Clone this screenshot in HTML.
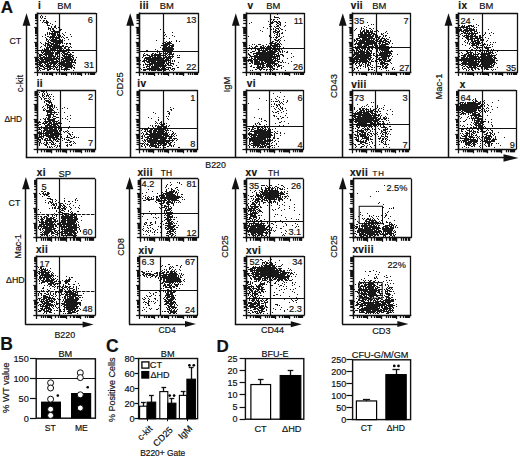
<!DOCTYPE html>
<html><head><meta charset="utf-8"><style>
html,body{margin:0;padding:0;background:#fff;}
body{width:520px;height:458px;overflow:hidden;}
svg{display:block;font-family:"Liberation Sans", sans-serif;}
</style></head><body>
<svg width="520" height="458" viewBox="0 0 520 458">
<defs><filter id="bl" x="-5%" y="-5%" width="110%" height="110%"><feGaussianBlur stdDeviation="0.35"/></filter></defs>
<rect width="520" height="458" fill="#fff"/>
<text x="0.80" y="13.00" font-size="17" font-weight="bold" text-anchor="start" fill="#111" stroke="#111" stroke-width="0.18">A</text>
<line x1="26.50" y1="22.00" x2="26.50" y2="157.70" stroke="#111" stroke-width="1.5"/>
<polygon points="26.50,13.20 22.60,25.80 30.40,25.80" fill="#111"/>
<line x1="130.50" y1="22.00" x2="130.50" y2="157.70" stroke="#111" stroke-width="1.5"/>
<polygon points="130.20,13.20 126.30,25.80 134.10,25.80" fill="#111"/>
<line x1="235.50" y1="22.00" x2="235.50" y2="157.70" stroke="#111" stroke-width="1.5"/>
<polygon points="235.80,13.20 231.90,25.80 239.70,25.80" fill="#111"/>
<line x1="342.50" y1="22.00" x2="342.50" y2="157.70" stroke="#111" stroke-width="1.5"/>
<polygon points="342.80,13.20 338.90,25.80 346.70,25.80" fill="#111"/>
<line x1="448.50" y1="22.00" x2="448.50" y2="157.70" stroke="#111" stroke-width="1.5"/>
<polygon points="448.50,13.20 444.60,25.80 452.40,25.80" fill="#111"/>
<line x1="25.80" y1="157.50" x2="506.00" y2="157.50" stroke="#111" stroke-width="1.5"/>
<polygon points="518.50,157.90 503.50,154.15 503.50,161.65" fill="#111"/>
<text x="205.30" y="167.70" font-size="8.8" font-weight="normal" text-anchor="start" fill="#111" stroke="#111" stroke-width="0.18">B220</text>
<text x="9.50" y="44.20" font-size="8.8" font-weight="normal" text-anchor="start" fill="#111" stroke="#111" stroke-width="0.18">CT</text>
<text x="4.40" y="121.70" font-size="8.4" font-weight="normal" text-anchor="start" fill="#111" stroke="#111" stroke-width="0.18">ΔHD</text>
<text x="19.20" y="83.50" font-size="9.6" text-anchor="middle" transform="rotate(-90 19.20 83.50)" dominant-baseline="central" fill="#111" stroke="#111" stroke-width="0.18">c-kit</text>
<text x="119.40" y="84.20" font-size="9.4" text-anchor="middle" transform="rotate(-90 119.40 84.20)" dominant-baseline="central" fill="#111" stroke="#111" stroke-width="0.18">CD25</text>
<text x="226.60" y="84.50" font-size="9.4" text-anchor="middle" transform="rotate(-90 226.60 84.50)" dominant-baseline="central" fill="#111" stroke="#111" stroke-width="0.18">IgM</text>
<text x="333.50" y="86.00" font-size="9.4" text-anchor="middle" transform="rotate(-90 333.50 86.00)" dominant-baseline="central" fill="#111" stroke="#111" stroke-width="0.18">CD43</text>
<text x="438.80" y="86.50" font-size="9.4" text-anchor="middle" transform="rotate(-90 438.80 86.50)" dominant-baseline="central" fill="#111" stroke="#111" stroke-width="0.18">Mac-1</text>
<path d="M41 15h1M40 16h1m1 0h1m2 0h1M40 17h1m1 0h1M41 18h1m2 0h2M40 20h1m2 0h2m1 0h1M43 21h1m2 0h2m7 0h1M42 22h1m1 0h5M46 23h2m2 0h1M47 24h1m4 0h1M47 25h3m5 0h1m3 0h1M51 26h1m2 0h2M48 27h1m2 0h1m2 0h2m2 0h1M48 28h3m1 0h2m2 0h1M48 29h1m1 0h1m1 0h2m6 0h2M50 30h1m2 0h2m4 0h2M51 31h8M47 32h1m1 0h1m2 0h1m1 0h6m5 0h1M47 33h1m1 0h7m1 0h1m1 0h1m2 0h1M45 34h1m1 0h1m1 0h1m1 0h5m1 0h3m3 0h1m6 0h1M45 35h1m6 0h4m1 0h2m1 0h1m3 0h1M42 36h1m4 0h2m1 0h5m1 0h1m1 0h3m1 0h1m8 0h1M45 37h1m3 0h11m1 0h1m1 0h1m2 0h2M46 38h1m3 0h1m1 0h2m1 0h5m4 0h1M46 39h2m1 0h1m1 0h6m2 0h2m1 0h1m5 0h1M46 40h1m1 0h1m1 0h13m1 0h1M47 41h2m2 0h12M40 42h1m4 0h1m2 0h3m2 0h6m1 0h3M41 43h1m3 0h4m1 0h4m1 0h4m1 0h1m1 0h1m1 0h1m1 0h2m1 0h2M43 44h1m1 0h1m1 0h3m1 0h7m8 0h1m3 0h1M44 45h2m1 0h5m1 0h7m2 0h2M41 46h1m3 0h1m1 0h1m1 0h15m1 0h3m2 0h1M40 47h1m5 0h5m1 0h10m2 0h2m2 0h2m1 0h1M44 48h1m1 0h3m1 0h13m1 0h2m2 0h1M42 49h1m1 0h5m1 0h6m1 0h1m1 0h3m1 0h1m2 0h4M44 50h3m1 0h14m3 0h1m1 0h1m5 0h1M41 51h1m1 0h8m1 0h1m1 0h1m2 0h10m1 0h1M41 52h3m1 0h9m1 0h4m3 0h3m2 0h3m2 0h2M38 53h1m3 0h1m1 0h10m1 0h4m2 0h1m1 0h5m2 0h1M39 54h3m1 0h10m2 0h3m1 0h1m2 0h1m1 0h8M39 55h4m2 0h2m1 0h6m1 0h1m1 0h1m4 0h3m1 0h1m1 0h3m1 0h2M39 56h2m2 0h2m1 0h1m1 0h8m1 0h3m3 0h10M38 57h1m1 0h12m1 0h2m1 0h2m3 0h2m1 0h7m1 0h2m2 0h1M39 58h4m1 0h15m3 0h10m1 0h1M38 59h1m1 0h17m1 0h1m2 0h3m1 0h9m1 0h1M38 60h2m1 0h3m1 0h9m2 0h2m1 0h1m1 0h1m1 0h10m1 0h2M39 61h11m1 0h8m2 0h9m1 0h2m1 0h1M38 62h10m1 0h9m1 0h6m1 0h10M39 63h3m2 0h2m1 0h10m1 0h1m1 0h12m3 0h1M38 64h3m1 0h1m2 0h4m1 0h2m1 0h3m1 0h1m2 0h12m1 0h1M39 65h4m1 0h1m1 0h5m2 0h2m1 0h1m1 0h2m1 0h12m1 0h1M38 66h1m1 0h4m1 0h11m1 0h1m2 0h2m1 0h10M39 67h1m3 0h2m2 0h4m2 0h1m1 0h3m3 0h2m2 0h7m1 0h2M39 68h3m2 0h4m1 0h4m1 0h1m1 0h1m4 0h1m2 0h4m3 0h1m2 0h1M39 69h1m2 0h3m2 0h4m2 0h2m1 0h3m2 0h9M38 70h1m1 0h1m6 0h2m8 0h1m6 0h1m1 0h1m6 0h1" stroke="#000" stroke-opacity="0.9" stroke-width="1" transform="translate(0 0.5)" filter="url(#bl)"/>
<line x1="37.80" y1="13.50" x2="96.00" y2="13.50" stroke="#111" stroke-width="1.3"/>
<line x1="96.50" y1="13.00" x2="96.50" y2="72.00" stroke="#111" stroke-width="1.3"/>
<line x1="37.50" y1="12.50" x2="37.50" y2="72.80" stroke="#111" stroke-width="1.6"/>
<line x1="37.00" y1="72.50" x2="96.50" y2="72.50" stroke="#111" stroke-width="1.6"/>
<line x1="34.20" y1="72.50" x2="37.80" y2="72.50" stroke="#111" stroke-width="1.25"/>
<line x1="35.00" y1="67.50" x2="37.80" y2="67.50" stroke="#111" stroke-width="1.25"/>
<line x1="35.00" y1="64.50" x2="37.80" y2="64.50" stroke="#111" stroke-width="1.25"/>
<line x1="35.00" y1="63.50" x2="37.80" y2="63.50" stroke="#111" stroke-width="1.25"/>
<line x1="35.00" y1="61.50" x2="37.80" y2="61.50" stroke="#111" stroke-width="1.25"/>
<line x1="35.00" y1="60.50" x2="37.80" y2="60.50" stroke="#111" stroke-width="1.25"/>
<line x1="35.00" y1="59.50" x2="37.80" y2="59.50" stroke="#111" stroke-width="1.25"/>
<line x1="35.00" y1="58.50" x2="37.80" y2="58.50" stroke="#111" stroke-width="1.25"/>
<line x1="35.00" y1="57.50" x2="37.80" y2="57.50" stroke="#111" stroke-width="1.25"/>
<line x1="34.20" y1="57.50" x2="37.80" y2="57.50" stroke="#111" stroke-width="1.25"/>
<line x1="35.00" y1="52.50" x2="37.80" y2="52.50" stroke="#111" stroke-width="1.25"/>
<line x1="35.00" y1="50.50" x2="37.80" y2="50.50" stroke="#111" stroke-width="1.25"/>
<line x1="35.00" y1="48.50" x2="37.80" y2="48.50" stroke="#111" stroke-width="1.25"/>
<line x1="35.00" y1="46.50" x2="37.80" y2="46.50" stroke="#111" stroke-width="1.25"/>
<line x1="35.00" y1="45.50" x2="37.80" y2="45.50" stroke="#111" stroke-width="1.25"/>
<line x1="35.00" y1="44.50" x2="37.80" y2="44.50" stroke="#111" stroke-width="1.25"/>
<line x1="35.00" y1="43.50" x2="37.80" y2="43.50" stroke="#111" stroke-width="1.25"/>
<line x1="35.00" y1="43.50" x2="37.80" y2="43.50" stroke="#111" stroke-width="1.25"/>
<line x1="34.20" y1="42.50" x2="37.80" y2="42.50" stroke="#111" stroke-width="1.25"/>
<line x1="35.00" y1="38.50" x2="37.80" y2="38.50" stroke="#111" stroke-width="1.25"/>
<line x1="35.00" y1="35.50" x2="37.80" y2="35.50" stroke="#111" stroke-width="1.25"/>
<line x1="35.00" y1="33.50" x2="37.80" y2="33.50" stroke="#111" stroke-width="1.25"/>
<line x1="35.00" y1="32.50" x2="37.80" y2="32.50" stroke="#111" stroke-width="1.25"/>
<line x1="35.00" y1="31.50" x2="37.80" y2="31.50" stroke="#111" stroke-width="1.25"/>
<line x1="35.00" y1="30.50" x2="37.80" y2="30.50" stroke="#111" stroke-width="1.25"/>
<line x1="35.00" y1="29.50" x2="37.80" y2="29.50" stroke="#111" stroke-width="1.25"/>
<line x1="35.00" y1="28.50" x2="37.80" y2="28.50" stroke="#111" stroke-width="1.25"/>
<line x1="34.20" y1="27.50" x2="37.80" y2="27.50" stroke="#111" stroke-width="1.25"/>
<line x1="35.00" y1="23.50" x2="37.80" y2="23.50" stroke="#111" stroke-width="1.25"/>
<line x1="35.00" y1="20.50" x2="37.80" y2="20.50" stroke="#111" stroke-width="1.25"/>
<line x1="35.00" y1="18.50" x2="37.80" y2="18.50" stroke="#111" stroke-width="1.25"/>
<line x1="35.00" y1="17.50" x2="37.80" y2="17.50" stroke="#111" stroke-width="1.25"/>
<line x1="35.00" y1="16.50" x2="37.80" y2="16.50" stroke="#111" stroke-width="1.25"/>
<line x1="35.00" y1="15.50" x2="37.80" y2="15.50" stroke="#111" stroke-width="1.25"/>
<line x1="35.00" y1="14.50" x2="37.80" y2="14.50" stroke="#111" stroke-width="1.25"/>
<line x1="37.50" y1="72.00" x2="37.50" y2="76.00" stroke="#111" stroke-width="1.25"/>
<line x1="42.50" y1="72.00" x2="42.50" y2="75.00" stroke="#111" stroke-width="1.25"/>
<line x1="44.50" y1="72.00" x2="44.50" y2="75.00" stroke="#111" stroke-width="1.25"/>
<line x1="46.50" y1="72.00" x2="46.50" y2="75.00" stroke="#111" stroke-width="1.25"/>
<line x1="47.50" y1="72.00" x2="47.50" y2="75.00" stroke="#111" stroke-width="1.25"/>
<line x1="49.50" y1="72.00" x2="49.50" y2="75.00" stroke="#111" stroke-width="1.25"/>
<line x1="50.50" y1="72.00" x2="50.50" y2="75.00" stroke="#111" stroke-width="1.25"/>
<line x1="50.50" y1="72.00" x2="50.50" y2="75.00" stroke="#111" stroke-width="1.25"/>
<line x1="51.50" y1="72.00" x2="51.50" y2="75.00" stroke="#111" stroke-width="1.25"/>
<line x1="52.50" y1="72.00" x2="52.50" y2="76.00" stroke="#111" stroke-width="1.25"/>
<line x1="56.50" y1="72.00" x2="56.50" y2="75.00" stroke="#111" stroke-width="1.25"/>
<line x1="59.50" y1="72.00" x2="59.50" y2="75.00" stroke="#111" stroke-width="1.25"/>
<line x1="61.50" y1="72.00" x2="61.50" y2="75.00" stroke="#111" stroke-width="1.25"/>
<line x1="62.50" y1="72.00" x2="62.50" y2="75.00" stroke="#111" stroke-width="1.25"/>
<line x1="63.50" y1="72.00" x2="63.50" y2="75.00" stroke="#111" stroke-width="1.25"/>
<line x1="64.50" y1="72.00" x2="64.50" y2="75.00" stroke="#111" stroke-width="1.25"/>
<line x1="65.50" y1="72.00" x2="65.50" y2="75.00" stroke="#111" stroke-width="1.25"/>
<line x1="66.50" y1="72.00" x2="66.50" y2="75.00" stroke="#111" stroke-width="1.25"/>
<line x1="66.50" y1="72.00" x2="66.50" y2="76.00" stroke="#111" stroke-width="1.25"/>
<line x1="71.50" y1="72.00" x2="71.50" y2="75.00" stroke="#111" stroke-width="1.25"/>
<line x1="73.50" y1="72.00" x2="73.50" y2="75.00" stroke="#111" stroke-width="1.25"/>
<line x1="75.50" y1="72.00" x2="75.50" y2="75.00" stroke="#111" stroke-width="1.25"/>
<line x1="77.50" y1="72.00" x2="77.50" y2="75.00" stroke="#111" stroke-width="1.25"/>
<line x1="78.50" y1="72.00" x2="78.50" y2="75.00" stroke="#111" stroke-width="1.25"/>
<line x1="79.50" y1="72.00" x2="79.50" y2="75.00" stroke="#111" stroke-width="1.25"/>
<line x1="80.50" y1="72.00" x2="80.50" y2="75.00" stroke="#111" stroke-width="1.25"/>
<line x1="80.50" y1="72.00" x2="80.50" y2="75.00" stroke="#111" stroke-width="1.25"/>
<line x1="81.50" y1="72.00" x2="81.50" y2="76.00" stroke="#111" stroke-width="1.25"/>
<line x1="85.50" y1="72.00" x2="85.50" y2="75.00" stroke="#111" stroke-width="1.25"/>
<line x1="88.50" y1="72.00" x2="88.50" y2="75.00" stroke="#111" stroke-width="1.25"/>
<line x1="90.50" y1="72.00" x2="90.50" y2="75.00" stroke="#111" stroke-width="1.25"/>
<line x1="91.50" y1="72.00" x2="91.50" y2="75.00" stroke="#111" stroke-width="1.25"/>
<line x1="92.50" y1="72.00" x2="92.50" y2="75.00" stroke="#111" stroke-width="1.25"/>
<line x1="93.50" y1="72.00" x2="93.50" y2="75.00" stroke="#111" stroke-width="1.25"/>
<line x1="94.50" y1="72.00" x2="94.50" y2="75.00" stroke="#111" stroke-width="1.25"/>
<line x1="59.50" y1="13.00" x2="59.50" y2="72.00" stroke="#111" stroke-width="1.2"/>
<line x1="37.80" y1="50.50" x2="96.00" y2="50.50" stroke="#111" stroke-width="1.2"/>
<text x="92.80" y="23.40" font-size="9.2" font-weight="normal" text-anchor="end" fill="#111" stroke="#111" stroke-width="0.18">6</text>
<text x="94.20" y="68.00" font-size="9.2" font-weight="normal" text-anchor="end" fill="#111" stroke="#111" stroke-width="0.18">31</text>
<text x="38.10" y="8.60" font-size="10" font-weight="bold" text-anchor="start" letter-spacing="0.4" fill="#111" stroke="#111" stroke-width="0.18">i</text>
<text x="57.20" y="8.70" font-size="9.4" font-weight="normal" text-anchor="start" fill="#111" stroke="#111" stroke-width="0.18">BM</text>
<path d="M41 91h4m1 0h1M39 92h1m3 0h1m2 0h1M42 93h1m1 0h1m2 0h1M38 94h1m3 0h1m1 0h1m2 0h1m1 0h1m1 0h1M42 95h2m2 0h3M39 96h1m2 0h1m1 0h1m1 0h1m1 0h1m1 0h1m2 0h1M40 97h1m2 0h1m5 0h1M41 98h1m2 0h3m1 0h1m1 0h1M41 99h1m2 0h1m4 0h1m3 0h1M45 100h4m1 0h1M44 101h1m1 0h5M44 102h1m3 0h4M46 103h1m2 0h1m1 0h1M46 104h3m2 0h2M45 105h1m1 0h6m1 0h1M43 106h1m3 0h1m1 0h4m1 0h1M42 107h1m4 0h4m1 0h1m1 0h1m1 0h1m7 0h1M44 108h1m2 0h1m1 0h3m1 0h1m8 0h1m4 0h1M43 109h1m1 0h1m3 0h4m4 0h1M43 110h2m1 0h8M46 111h6m2 0h1M47 112h10m1 0h1m5 0h1M47 113h1m2 0h2m2 0h1M47 114h7m2 0h2M46 115h5m2 0h1m16 0h1M48 116h3m2 0h3m11 0h1M46 117h1m1 0h3m1 0h1m3 0h3M43 118h1m1 0h1m1 0h3m3 0h3m4 0h1m1 0h1m2 0h1m4 0h1M40 119h1m3 0h2m1 0h8m12 0h1M45 120h1m2 0h7m3 0h1M39 121h1m4 0h7m1 0h6m11 0h1M38 122h3m2 0h1m1 0h3m1 0h3m1 0h2m1 0h1m1 0h2M38 123h1m3 0h5m1 0h4m1 0h7m1 0h1M39 124h2m3 0h1m2 0h3m1 0h7M38 125h1m6 0h7m1 0h3m1 0h2M41 126h1m3 0h3m1 0h8m1 0h2m9 0h1M37 127h2m4 0h2m2 0h9m1 0h3m3 0h1M39 128h1m1 0h1m1 0h10m1 0h3m1 0h2m1 0h1m6 0h1M38 129h3m3 0h4m1 0h8m1 0h1m1 0h2M41 130h1m1 0h15m1 0h3m5 0h1M39 131h1m1 0h1m1 0h2m1 0h12m1 0h1m3 0h1m1 0h2m1 0h1M38 132h4m1 0h1m1 0h8m1 0h5m1 0h1m3 0h1m2 0h1m4 0h1M38 133h23m7 0h2M39 134h3m1 0h1m1 0h4m1 0h12m7 0h2m1 0h1M39 135h1m1 0h1m1 0h16m8 0h1m2 0h1M39 136h5m2 0h8m1 0h4m2 0h1m5 0h1m3 0h1m2 0h1M38 137h4m1 0h1m4 0h10m3 0h1m4 0h4m3 0h2m1 0h1m1 0h1M38 138h1m2 0h2m2 0h3m1 0h2m1 0h3m1 0h3m3 0h1m1 0h1m5 0h3M38 139h3m1 0h1m1 0h2m1 0h1m1 0h2m2 0h4m1 0h3m3 0h1m1 0h1m1 0h1M39 140h2m3 0h8m1 0h1m1 0h1m1 0h1m4 0h1m4 0h3M38 141h1m1 0h1m5 0h1m4 0h2m3 0h3m11 0h2m1 0h1M39 142h2m3 0h1m1 0h2m1 0h2m1 0h2m6 0h1m4 0h3m1 0h2m3 0h1M39 143h1m1 0h1m1 0h1m2 0h2m3 0h1m1 0h1m1 0h1m3 0h1m13 0h1m1 0h1M39 144h1m4 0h3m1 0h1m2 0h4m12 0h1m1 0h1m1 0h1M39 145h1m5 0h2m8 0h1m1 0h1m1 0h1m6 0h2m2 0h2M47 146h1m1 0h1m1 0h1m2 0h1m2 0h1m1 0h1m7 0h1M47 147h1m1 0h2m1 0h1m3 0h1" stroke="#000" stroke-opacity="0.9" stroke-width="1" transform="translate(0 0.5)" filter="url(#bl)"/>
<line x1="37.30" y1="90.50" x2="95.60" y2="90.50" stroke="#111" stroke-width="1.3"/>
<line x1="95.50" y1="90.00" x2="95.50" y2="149.30" stroke="#111" stroke-width="1.3"/>
<line x1="37.50" y1="89.50" x2="37.50" y2="150.10" stroke="#111" stroke-width="1.6"/>
<line x1="36.50" y1="149.50" x2="96.10" y2="149.50" stroke="#111" stroke-width="1.6"/>
<line x1="33.70" y1="149.50" x2="37.30" y2="149.50" stroke="#111" stroke-width="1.25"/>
<line x1="34.50" y1="144.50" x2="37.30" y2="144.50" stroke="#111" stroke-width="1.25"/>
<line x1="34.50" y1="142.50" x2="37.30" y2="142.50" stroke="#111" stroke-width="1.25"/>
<line x1="34.50" y1="140.50" x2="37.30" y2="140.50" stroke="#111" stroke-width="1.25"/>
<line x1="34.50" y1="138.50" x2="37.30" y2="138.50" stroke="#111" stroke-width="1.25"/>
<line x1="34.50" y1="137.50" x2="37.30" y2="137.50" stroke="#111" stroke-width="1.25"/>
<line x1="34.50" y1="136.50" x2="37.30" y2="136.50" stroke="#111" stroke-width="1.25"/>
<line x1="34.50" y1="135.50" x2="37.30" y2="135.50" stroke="#111" stroke-width="1.25"/>
<line x1="34.50" y1="135.50" x2="37.30" y2="135.50" stroke="#111" stroke-width="1.25"/>
<line x1="33.70" y1="134.50" x2="37.30" y2="134.50" stroke="#111" stroke-width="1.25"/>
<line x1="34.50" y1="130.50" x2="37.30" y2="130.50" stroke="#111" stroke-width="1.25"/>
<line x1="34.50" y1="127.50" x2="37.30" y2="127.50" stroke="#111" stroke-width="1.25"/>
<line x1="34.50" y1="125.50" x2="37.30" y2="125.50" stroke="#111" stroke-width="1.25"/>
<line x1="34.50" y1="124.50" x2="37.30" y2="124.50" stroke="#111" stroke-width="1.25"/>
<line x1="34.50" y1="122.50" x2="37.30" y2="122.50" stroke="#111" stroke-width="1.25"/>
<line x1="34.50" y1="121.50" x2="37.30" y2="121.50" stroke="#111" stroke-width="1.25"/>
<line x1="34.50" y1="121.50" x2="37.30" y2="121.50" stroke="#111" stroke-width="1.25"/>
<line x1="34.50" y1="120.50" x2="37.30" y2="120.50" stroke="#111" stroke-width="1.25"/>
<line x1="33.70" y1="119.50" x2="37.30" y2="119.50" stroke="#111" stroke-width="1.25"/>
<line x1="34.50" y1="115.50" x2="37.30" y2="115.50" stroke="#111" stroke-width="1.25"/>
<line x1="34.50" y1="112.50" x2="37.30" y2="112.50" stroke="#111" stroke-width="1.25"/>
<line x1="34.50" y1="110.50" x2="37.30" y2="110.50" stroke="#111" stroke-width="1.25"/>
<line x1="34.50" y1="109.50" x2="37.30" y2="109.50" stroke="#111" stroke-width="1.25"/>
<line x1="34.50" y1="108.50" x2="37.30" y2="108.50" stroke="#111" stroke-width="1.25"/>
<line x1="34.50" y1="107.50" x2="37.30" y2="107.50" stroke="#111" stroke-width="1.25"/>
<line x1="34.50" y1="106.50" x2="37.30" y2="106.50" stroke="#111" stroke-width="1.25"/>
<line x1="34.50" y1="105.50" x2="37.30" y2="105.50" stroke="#111" stroke-width="1.25"/>
<line x1="33.70" y1="104.50" x2="37.30" y2="104.50" stroke="#111" stroke-width="1.25"/>
<line x1="34.50" y1="100.50" x2="37.30" y2="100.50" stroke="#111" stroke-width="1.25"/>
<line x1="34.50" y1="97.50" x2="37.30" y2="97.50" stroke="#111" stroke-width="1.25"/>
<line x1="34.50" y1="95.50" x2="37.30" y2="95.50" stroke="#111" stroke-width="1.25"/>
<line x1="34.50" y1="94.50" x2="37.30" y2="94.50" stroke="#111" stroke-width="1.25"/>
<line x1="34.50" y1="93.50" x2="37.30" y2="93.50" stroke="#111" stroke-width="1.25"/>
<line x1="34.50" y1="92.50" x2="37.30" y2="92.50" stroke="#111" stroke-width="1.25"/>
<line x1="34.50" y1="91.50" x2="37.30" y2="91.50" stroke="#111" stroke-width="1.25"/>
<line x1="37.50" y1="149.30" x2="37.50" y2="153.30" stroke="#111" stroke-width="1.25"/>
<line x1="41.50" y1="149.30" x2="41.50" y2="152.30" stroke="#111" stroke-width="1.25"/>
<line x1="44.50" y1="149.30" x2="44.50" y2="152.30" stroke="#111" stroke-width="1.25"/>
<line x1="46.50" y1="149.30" x2="46.50" y2="152.30" stroke="#111" stroke-width="1.25"/>
<line x1="47.50" y1="149.30" x2="47.50" y2="152.30" stroke="#111" stroke-width="1.25"/>
<line x1="48.50" y1="149.30" x2="48.50" y2="152.30" stroke="#111" stroke-width="1.25"/>
<line x1="49.50" y1="149.30" x2="49.50" y2="152.30" stroke="#111" stroke-width="1.25"/>
<line x1="50.50" y1="149.30" x2="50.50" y2="152.30" stroke="#111" stroke-width="1.25"/>
<line x1="51.50" y1="149.30" x2="51.50" y2="152.30" stroke="#111" stroke-width="1.25"/>
<line x1="51.50" y1="149.30" x2="51.50" y2="153.30" stroke="#111" stroke-width="1.25"/>
<line x1="56.50" y1="149.30" x2="56.50" y2="152.30" stroke="#111" stroke-width="1.25"/>
<line x1="58.50" y1="149.30" x2="58.50" y2="152.30" stroke="#111" stroke-width="1.25"/>
<line x1="60.50" y1="149.30" x2="60.50" y2="152.30" stroke="#111" stroke-width="1.25"/>
<line x1="62.50" y1="149.30" x2="62.50" y2="152.30" stroke="#111" stroke-width="1.25"/>
<line x1="63.50" y1="149.30" x2="63.50" y2="152.30" stroke="#111" stroke-width="1.25"/>
<line x1="64.50" y1="149.30" x2="64.50" y2="152.30" stroke="#111" stroke-width="1.25"/>
<line x1="65.50" y1="149.30" x2="65.50" y2="152.30" stroke="#111" stroke-width="1.25"/>
<line x1="65.50" y1="149.30" x2="65.50" y2="152.30" stroke="#111" stroke-width="1.25"/>
<line x1="66.50" y1="149.30" x2="66.50" y2="153.30" stroke="#111" stroke-width="1.25"/>
<line x1="70.50" y1="149.30" x2="70.50" y2="152.30" stroke="#111" stroke-width="1.25"/>
<line x1="73.50" y1="149.30" x2="73.50" y2="152.30" stroke="#111" stroke-width="1.25"/>
<line x1="75.50" y1="149.30" x2="75.50" y2="152.30" stroke="#111" stroke-width="1.25"/>
<line x1="76.50" y1="149.30" x2="76.50" y2="152.30" stroke="#111" stroke-width="1.25"/>
<line x1="77.50" y1="149.30" x2="77.50" y2="152.30" stroke="#111" stroke-width="1.25"/>
<line x1="78.50" y1="149.30" x2="78.50" y2="152.30" stroke="#111" stroke-width="1.25"/>
<line x1="79.50" y1="149.30" x2="79.50" y2="152.30" stroke="#111" stroke-width="1.25"/>
<line x1="80.50" y1="149.30" x2="80.50" y2="152.30" stroke="#111" stroke-width="1.25"/>
<line x1="81.50" y1="149.30" x2="81.50" y2="153.30" stroke="#111" stroke-width="1.25"/>
<line x1="85.50" y1="149.30" x2="85.50" y2="152.30" stroke="#111" stroke-width="1.25"/>
<line x1="87.50" y1="149.30" x2="87.50" y2="152.30" stroke="#111" stroke-width="1.25"/>
<line x1="89.50" y1="149.30" x2="89.50" y2="152.30" stroke="#111" stroke-width="1.25"/>
<line x1="91.50" y1="149.30" x2="91.50" y2="152.30" stroke="#111" stroke-width="1.25"/>
<line x1="92.50" y1="149.30" x2="92.50" y2="152.30" stroke="#111" stroke-width="1.25"/>
<line x1="93.50" y1="149.30" x2="93.50" y2="152.30" stroke="#111" stroke-width="1.25"/>
<line x1="94.50" y1="149.30" x2="94.50" y2="152.30" stroke="#111" stroke-width="1.25"/>
<line x1="60.50" y1="90.00" x2="60.50" y2="149.30" stroke="#111" stroke-width="1.2"/>
<line x1="37.30" y1="127.50" x2="95.60" y2="127.50" stroke="#111" stroke-width="1.2"/>
<text x="93.20" y="100.00" font-size="9.2" font-weight="normal" text-anchor="end" fill="#111" stroke="#111" stroke-width="0.18">2</text>
<text x="93.20" y="145.60" font-size="9.2" font-weight="normal" text-anchor="end" fill="#111" stroke="#111" stroke-width="0.18">7</text>
<text x="36.70" y="86.80" font-size="10" font-weight="bold" text-anchor="start" letter-spacing="0.4" fill="#111" stroke="#111" stroke-width="0.18">ii</text>
<path d="M163 28h1M160 29h1M164 32h1m7 0h1M165 34h1M164 35h1m7 0h1M163 36h1m2 0h1m7 0h1M164 38h1m4 0h1M156 40h1m6 0h1m12 0h1M166 41h1m2 0h1m1 0h1m4 0h1m2 0h1M164 42h2m1 0h4M162 43h1m2 0h7M163 44h7m2 0h2M161 45h7m1 0h5M164 46h3m1 0h2m1 0h3M160 47h1m2 0h10M162 48h12M155 49h1m6 0h1m1 0h10M146 50h2m9 0h1m6 0h9M157 51h1m5 0h6m1 0h3M157 52h1m1 0h1m5 0h1m1 0h5M144 53h1m7 0h2m1 0h1m3 0h3m1 0h5m1 0h3m1 0h1M143 54h1m2 0h2m3 0h2m1 0h7m4 0h2m1 0h6M143 55h3m1 0h3m1 0h15m1 0h1m1 0h1m2 0h1m4 0h1m1 0h1M143 56h1m5 0h4m1 0h2m1 0h4m2 0h1m1 0h2m1 0h6M142 57h1m2 0h6m1 0h10m1 0h8m1 0h1m4 0h3M144 58h21m1 0h6M144 59h1m1 0h18m1 0h4m1 0h1M140 60h1m2 0h4m1 0h23m1 0h1m1 0h1M142 61h3m1 0h10m1 0h10m1 0h1m1 0h1m1 0h1m1 0h1M144 62h1m2 0h3m1 0h14m1 0h1m1 0h3m7 0h1M145 63h1m3 0h16m1 0h3m1 0h4M140 64h1m2 0h1m1 0h8m1 0h10m1 0h1m1 0h2m1 0h1m2 0h1M143 65h1m3 0h1m1 0h2m1 0h1m1 0h13m1 0h4m4 0h1M146 66h4m1 0h15m6 0h1M139 67h1m3 0h2m1 0h1m2 0h1m1 0h8m1 0h1m1 0h3m1 0h5m6 0h2M140 68h1m6 0h13m1 0h5m2 0h1m1 0h1m1 0h3M141 69h1m1 0h26m2 0h2m1 0h1M143 70h3m3 0h1m1 0h5m1 0h5m2 0h2m3 0h1m3 0h1" stroke="#000" stroke-opacity="0.9" stroke-width="1" transform="translate(0 0.5)" filter="url(#bl)"/>
<line x1="139.30" y1="13.50" x2="198.60" y2="13.50" stroke="#111" stroke-width="1.3"/>
<line x1="198.50" y1="13.00" x2="198.50" y2="72.00" stroke="#111" stroke-width="1.3"/>
<line x1="139.50" y1="12.50" x2="139.50" y2="72.80" stroke="#111" stroke-width="1.6"/>
<line x1="138.50" y1="72.50" x2="199.10" y2="72.50" stroke="#111" stroke-width="1.6"/>
<line x1="135.70" y1="72.50" x2="139.30" y2="72.50" stroke="#111" stroke-width="1.25"/>
<line x1="136.50" y1="67.50" x2="139.30" y2="67.50" stroke="#111" stroke-width="1.25"/>
<line x1="136.50" y1="64.50" x2="139.30" y2="64.50" stroke="#111" stroke-width="1.25"/>
<line x1="136.50" y1="63.50" x2="139.30" y2="63.50" stroke="#111" stroke-width="1.25"/>
<line x1="136.50" y1="61.50" x2="139.30" y2="61.50" stroke="#111" stroke-width="1.25"/>
<line x1="136.50" y1="60.50" x2="139.30" y2="60.50" stroke="#111" stroke-width="1.25"/>
<line x1="136.50" y1="59.50" x2="139.30" y2="59.50" stroke="#111" stroke-width="1.25"/>
<line x1="136.50" y1="58.50" x2="139.30" y2="58.50" stroke="#111" stroke-width="1.25"/>
<line x1="136.50" y1="57.50" x2="139.30" y2="57.50" stroke="#111" stroke-width="1.25"/>
<line x1="135.70" y1="57.50" x2="139.30" y2="57.50" stroke="#111" stroke-width="1.25"/>
<line x1="136.50" y1="52.50" x2="139.30" y2="52.50" stroke="#111" stroke-width="1.25"/>
<line x1="136.50" y1="50.50" x2="139.30" y2="50.50" stroke="#111" stroke-width="1.25"/>
<line x1="136.50" y1="48.50" x2="139.30" y2="48.50" stroke="#111" stroke-width="1.25"/>
<line x1="136.50" y1="46.50" x2="139.30" y2="46.50" stroke="#111" stroke-width="1.25"/>
<line x1="136.50" y1="45.50" x2="139.30" y2="45.50" stroke="#111" stroke-width="1.25"/>
<line x1="136.50" y1="44.50" x2="139.30" y2="44.50" stroke="#111" stroke-width="1.25"/>
<line x1="136.50" y1="43.50" x2="139.30" y2="43.50" stroke="#111" stroke-width="1.25"/>
<line x1="136.50" y1="43.50" x2="139.30" y2="43.50" stroke="#111" stroke-width="1.25"/>
<line x1="135.70" y1="42.50" x2="139.30" y2="42.50" stroke="#111" stroke-width="1.25"/>
<line x1="136.50" y1="38.50" x2="139.30" y2="38.50" stroke="#111" stroke-width="1.25"/>
<line x1="136.50" y1="35.50" x2="139.30" y2="35.50" stroke="#111" stroke-width="1.25"/>
<line x1="136.50" y1="33.50" x2="139.30" y2="33.50" stroke="#111" stroke-width="1.25"/>
<line x1="136.50" y1="32.50" x2="139.30" y2="32.50" stroke="#111" stroke-width="1.25"/>
<line x1="136.50" y1="31.50" x2="139.30" y2="31.50" stroke="#111" stroke-width="1.25"/>
<line x1="136.50" y1="30.50" x2="139.30" y2="30.50" stroke="#111" stroke-width="1.25"/>
<line x1="136.50" y1="29.50" x2="139.30" y2="29.50" stroke="#111" stroke-width="1.25"/>
<line x1="136.50" y1="28.50" x2="139.30" y2="28.50" stroke="#111" stroke-width="1.25"/>
<line x1="135.70" y1="27.50" x2="139.30" y2="27.50" stroke="#111" stroke-width="1.25"/>
<line x1="136.50" y1="23.50" x2="139.30" y2="23.50" stroke="#111" stroke-width="1.25"/>
<line x1="136.50" y1="20.50" x2="139.30" y2="20.50" stroke="#111" stroke-width="1.25"/>
<line x1="136.50" y1="18.50" x2="139.30" y2="18.50" stroke="#111" stroke-width="1.25"/>
<line x1="136.50" y1="17.50" x2="139.30" y2="17.50" stroke="#111" stroke-width="1.25"/>
<line x1="136.50" y1="16.50" x2="139.30" y2="16.50" stroke="#111" stroke-width="1.25"/>
<line x1="136.50" y1="15.50" x2="139.30" y2="15.50" stroke="#111" stroke-width="1.25"/>
<line x1="136.50" y1="14.50" x2="139.30" y2="14.50" stroke="#111" stroke-width="1.25"/>
<line x1="139.50" y1="72.00" x2="139.50" y2="76.00" stroke="#111" stroke-width="1.25"/>
<line x1="143.50" y1="72.00" x2="143.50" y2="75.00" stroke="#111" stroke-width="1.25"/>
<line x1="146.50" y1="72.00" x2="146.50" y2="75.00" stroke="#111" stroke-width="1.25"/>
<line x1="148.50" y1="72.00" x2="148.50" y2="75.00" stroke="#111" stroke-width="1.25"/>
<line x1="149.50" y1="72.00" x2="149.50" y2="75.00" stroke="#111" stroke-width="1.25"/>
<line x1="150.50" y1="72.00" x2="150.50" y2="75.00" stroke="#111" stroke-width="1.25"/>
<line x1="151.50" y1="72.00" x2="151.50" y2="75.00" stroke="#111" stroke-width="1.25"/>
<line x1="152.50" y1="72.00" x2="152.50" y2="75.00" stroke="#111" stroke-width="1.25"/>
<line x1="153.50" y1="72.00" x2="153.50" y2="75.00" stroke="#111" stroke-width="1.25"/>
<line x1="154.50" y1="72.00" x2="154.50" y2="76.00" stroke="#111" stroke-width="1.25"/>
<line x1="158.50" y1="72.00" x2="158.50" y2="75.00" stroke="#111" stroke-width="1.25"/>
<line x1="161.50" y1="72.00" x2="161.50" y2="75.00" stroke="#111" stroke-width="1.25"/>
<line x1="163.50" y1="72.00" x2="163.50" y2="75.00" stroke="#111" stroke-width="1.25"/>
<line x1="164.50" y1="72.00" x2="164.50" y2="75.00" stroke="#111" stroke-width="1.25"/>
<line x1="165.50" y1="72.00" x2="165.50" y2="75.00" stroke="#111" stroke-width="1.25"/>
<line x1="166.50" y1="72.00" x2="166.50" y2="75.00" stroke="#111" stroke-width="1.25"/>
<line x1="167.50" y1="72.00" x2="167.50" y2="75.00" stroke="#111" stroke-width="1.25"/>
<line x1="168.50" y1="72.00" x2="168.50" y2="75.00" stroke="#111" stroke-width="1.25"/>
<line x1="168.50" y1="72.00" x2="168.50" y2="76.00" stroke="#111" stroke-width="1.25"/>
<line x1="173.50" y1="72.00" x2="173.50" y2="75.00" stroke="#111" stroke-width="1.25"/>
<line x1="176.50" y1="72.00" x2="176.50" y2="75.00" stroke="#111" stroke-width="1.25"/>
<line x1="177.50" y1="72.00" x2="177.50" y2="75.00" stroke="#111" stroke-width="1.25"/>
<line x1="179.50" y1="72.00" x2="179.50" y2="75.00" stroke="#111" stroke-width="1.25"/>
<line x1="180.50" y1="72.00" x2="180.50" y2="75.00" stroke="#111" stroke-width="1.25"/>
<line x1="181.50" y1="72.00" x2="181.50" y2="75.00" stroke="#111" stroke-width="1.25"/>
<line x1="182.50" y1="72.00" x2="182.50" y2="75.00" stroke="#111" stroke-width="1.25"/>
<line x1="183.50" y1="72.00" x2="183.50" y2="75.00" stroke="#111" stroke-width="1.25"/>
<line x1="183.50" y1="72.00" x2="183.50" y2="76.00" stroke="#111" stroke-width="1.25"/>
<line x1="188.50" y1="72.00" x2="188.50" y2="75.00" stroke="#111" stroke-width="1.25"/>
<line x1="190.50" y1="72.00" x2="190.50" y2="75.00" stroke="#111" stroke-width="1.25"/>
<line x1="192.50" y1="72.00" x2="192.50" y2="75.00" stroke="#111" stroke-width="1.25"/>
<line x1="194.50" y1="72.00" x2="194.50" y2="75.00" stroke="#111" stroke-width="1.25"/>
<line x1="195.50" y1="72.00" x2="195.50" y2="75.00" stroke="#111" stroke-width="1.25"/>
<line x1="196.50" y1="72.00" x2="196.50" y2="75.00" stroke="#111" stroke-width="1.25"/>
<line x1="197.50" y1="72.00" x2="197.50" y2="75.00" stroke="#111" stroke-width="1.25"/>
<line x1="163.50" y1="13.00" x2="163.50" y2="72.00" stroke="#111" stroke-width="1.2"/>
<line x1="139.30" y1="51.50" x2="198.60" y2="51.50" stroke="#111" stroke-width="1.2"/>
<text x="196.40" y="22.60" font-size="9.2" font-weight="normal" text-anchor="end" fill="#111" stroke="#111" stroke-width="0.18">13</text>
<text x="196.40" y="69.70" font-size="9.2" font-weight="normal" text-anchor="end" fill="#111" stroke="#111" stroke-width="0.18">22</text>
<text x="139.50" y="8.60" font-size="10" font-weight="bold" text-anchor="start" letter-spacing="0.4" fill="#111" stroke="#111" stroke-width="0.18">iii</text>
<text x="159.80" y="8.60" font-size="9.4" font-weight="normal" text-anchor="start" fill="#111" stroke="#111" stroke-width="0.18">BM</text>
<path d="M170 107h1M173 108h1M170 109h2M171 110h1M167 111h2M153 112h1m15 0h1M155 113h1m12 0h2M169 114h1M166 116h1m1 0h1M148 117h1m9 0h1M151 118h1m11 0h1m3 0h1M158 119h1m9 0h1M158 120h1m4 0h1M155 121h1m5 0h1M156 122h1m3 0h2m1 0h1M155 123h1m1 0h1m1 0h1m1 0h1m2 0h1m1 0h1M160 124h3m1 0h1M150 125h1m1 0h1m2 0h2m1 0h1m2 0h2m3 0h1m2 0h1M152 126h1m2 0h1m1 0h10m1 0h1M148 127h1m4 0h1m3 0h5m1 0h4M141 128h1m1 0h1m10 0h8m1 0h1m2 0h2m1 0h1M142 129h1m1 0h4m2 0h3m1 0h9m1 0h2m1 0h1M141 130h1m3 0h1m1 0h1m1 0h3m1 0h4m1 0h6m1 0h4m1 0h1M144 131h2m1 0h5m1 0h10m1 0h1m1 0h1m5 0h1M142 132h1m3 0h1m2 0h3m1 0h3m1 0h6m2 0h2m1 0h1m4 0h1M139 133h1m1 0h1m1 0h1m2 0h2m2 0h18m4 0h2m1 0h1M143 134h1m1 0h18m1 0h4m1 0h1m1 0h2m1 0h1M142 135h1m1 0h1m4 0h13m1 0h6m2 0h1m1 0h1m2 0h1M141 136h2m1 0h1m2 0h17m1 0h8m1 0h1M142 137h1m2 0h4m1 0h17m2 0h3M141 138h2m4 0h5m1 0h14m1 0h4m1 0h4M144 139h1m1 0h2m1 0h9m2 0h6m3 0h1m2 0h1m1 0h1m2 0h1M142 140h1m1 0h2m1 0h27m2 0h1M143 141h1m1 0h1m1 0h23m2 0h1M144 142h1m3 0h9m1 0h7m1 0h3m1 0h2m2 0h1M140 143h4m1 0h1m1 0h1m2 0h17m1 0h3M142 144h1m1 0h1m1 0h3m1 0h4m1 0h1m1 0h2m1 0h2m2 0h3m2 0h2m3 0h1M141 145h1m2 0h1m2 0h1m1 0h8m1 0h3m1 0h1m1 0h2m3 0h3m1 0h1M141 146h2m2 0h1m3 0h1m1 0h6m1 0h1m4 0h1m3 0h2m2 0h1m1 0h1M145 147h1m4 0h1m4 0h4m1 0h1m3 0h2m12 0h2" stroke="#000" stroke-opacity="0.9" stroke-width="1" transform="translate(0 0.5)" filter="url(#bl)"/>
<line x1="139.30" y1="90.50" x2="197.70" y2="90.50" stroke="#111" stroke-width="1.3"/>
<line x1="197.50" y1="90.00" x2="197.50" y2="149.30" stroke="#111" stroke-width="1.3"/>
<line x1="139.50" y1="89.50" x2="139.50" y2="150.10" stroke="#111" stroke-width="1.6"/>
<line x1="138.50" y1="149.50" x2="198.20" y2="149.50" stroke="#111" stroke-width="1.6"/>
<line x1="135.70" y1="149.50" x2="139.30" y2="149.50" stroke="#111" stroke-width="1.25"/>
<line x1="136.50" y1="144.50" x2="139.30" y2="144.50" stroke="#111" stroke-width="1.25"/>
<line x1="136.50" y1="142.50" x2="139.30" y2="142.50" stroke="#111" stroke-width="1.25"/>
<line x1="136.50" y1="140.50" x2="139.30" y2="140.50" stroke="#111" stroke-width="1.25"/>
<line x1="136.50" y1="138.50" x2="139.30" y2="138.50" stroke="#111" stroke-width="1.25"/>
<line x1="136.50" y1="137.50" x2="139.30" y2="137.50" stroke="#111" stroke-width="1.25"/>
<line x1="136.50" y1="136.50" x2="139.30" y2="136.50" stroke="#111" stroke-width="1.25"/>
<line x1="136.50" y1="135.50" x2="139.30" y2="135.50" stroke="#111" stroke-width="1.25"/>
<line x1="136.50" y1="135.50" x2="139.30" y2="135.50" stroke="#111" stroke-width="1.25"/>
<line x1="135.70" y1="134.50" x2="139.30" y2="134.50" stroke="#111" stroke-width="1.25"/>
<line x1="136.50" y1="130.50" x2="139.30" y2="130.50" stroke="#111" stroke-width="1.25"/>
<line x1="136.50" y1="127.50" x2="139.30" y2="127.50" stroke="#111" stroke-width="1.25"/>
<line x1="136.50" y1="125.50" x2="139.30" y2="125.50" stroke="#111" stroke-width="1.25"/>
<line x1="136.50" y1="124.50" x2="139.30" y2="124.50" stroke="#111" stroke-width="1.25"/>
<line x1="136.50" y1="122.50" x2="139.30" y2="122.50" stroke="#111" stroke-width="1.25"/>
<line x1="136.50" y1="121.50" x2="139.30" y2="121.50" stroke="#111" stroke-width="1.25"/>
<line x1="136.50" y1="121.50" x2="139.30" y2="121.50" stroke="#111" stroke-width="1.25"/>
<line x1="136.50" y1="120.50" x2="139.30" y2="120.50" stroke="#111" stroke-width="1.25"/>
<line x1="135.70" y1="119.50" x2="139.30" y2="119.50" stroke="#111" stroke-width="1.25"/>
<line x1="136.50" y1="115.50" x2="139.30" y2="115.50" stroke="#111" stroke-width="1.25"/>
<line x1="136.50" y1="112.50" x2="139.30" y2="112.50" stroke="#111" stroke-width="1.25"/>
<line x1="136.50" y1="110.50" x2="139.30" y2="110.50" stroke="#111" stroke-width="1.25"/>
<line x1="136.50" y1="109.50" x2="139.30" y2="109.50" stroke="#111" stroke-width="1.25"/>
<line x1="136.50" y1="108.50" x2="139.30" y2="108.50" stroke="#111" stroke-width="1.25"/>
<line x1="136.50" y1="107.50" x2="139.30" y2="107.50" stroke="#111" stroke-width="1.25"/>
<line x1="136.50" y1="106.50" x2="139.30" y2="106.50" stroke="#111" stroke-width="1.25"/>
<line x1="136.50" y1="105.50" x2="139.30" y2="105.50" stroke="#111" stroke-width="1.25"/>
<line x1="135.70" y1="104.50" x2="139.30" y2="104.50" stroke="#111" stroke-width="1.25"/>
<line x1="136.50" y1="100.50" x2="139.30" y2="100.50" stroke="#111" stroke-width="1.25"/>
<line x1="136.50" y1="97.50" x2="139.30" y2="97.50" stroke="#111" stroke-width="1.25"/>
<line x1="136.50" y1="95.50" x2="139.30" y2="95.50" stroke="#111" stroke-width="1.25"/>
<line x1="136.50" y1="94.50" x2="139.30" y2="94.50" stroke="#111" stroke-width="1.25"/>
<line x1="136.50" y1="93.50" x2="139.30" y2="93.50" stroke="#111" stroke-width="1.25"/>
<line x1="136.50" y1="92.50" x2="139.30" y2="92.50" stroke="#111" stroke-width="1.25"/>
<line x1="136.50" y1="91.50" x2="139.30" y2="91.50" stroke="#111" stroke-width="1.25"/>
<line x1="139.50" y1="149.30" x2="139.50" y2="153.30" stroke="#111" stroke-width="1.25"/>
<line x1="143.50" y1="149.30" x2="143.50" y2="152.30" stroke="#111" stroke-width="1.25"/>
<line x1="146.50" y1="149.30" x2="146.50" y2="152.30" stroke="#111" stroke-width="1.25"/>
<line x1="148.50" y1="149.30" x2="148.50" y2="152.30" stroke="#111" stroke-width="1.25"/>
<line x1="149.50" y1="149.30" x2="149.50" y2="152.30" stroke="#111" stroke-width="1.25"/>
<line x1="150.50" y1="149.30" x2="150.50" y2="152.30" stroke="#111" stroke-width="1.25"/>
<line x1="151.50" y1="149.30" x2="151.50" y2="152.30" stroke="#111" stroke-width="1.25"/>
<line x1="152.50" y1="149.30" x2="152.50" y2="152.30" stroke="#111" stroke-width="1.25"/>
<line x1="153.50" y1="149.30" x2="153.50" y2="152.30" stroke="#111" stroke-width="1.25"/>
<line x1="153.50" y1="149.30" x2="153.50" y2="153.30" stroke="#111" stroke-width="1.25"/>
<line x1="158.50" y1="149.30" x2="158.50" y2="152.30" stroke="#111" stroke-width="1.25"/>
<line x1="160.50" y1="149.30" x2="160.50" y2="152.30" stroke="#111" stroke-width="1.25"/>
<line x1="162.50" y1="149.30" x2="162.50" y2="152.30" stroke="#111" stroke-width="1.25"/>
<line x1="164.50" y1="149.30" x2="164.50" y2="152.30" stroke="#111" stroke-width="1.25"/>
<line x1="165.50" y1="149.30" x2="165.50" y2="152.30" stroke="#111" stroke-width="1.25"/>
<line x1="166.50" y1="149.30" x2="166.50" y2="152.30" stroke="#111" stroke-width="1.25"/>
<line x1="167.50" y1="149.30" x2="167.50" y2="152.30" stroke="#111" stroke-width="1.25"/>
<line x1="167.50" y1="149.30" x2="167.50" y2="152.30" stroke="#111" stroke-width="1.25"/>
<line x1="168.50" y1="149.30" x2="168.50" y2="153.30" stroke="#111" stroke-width="1.25"/>
<line x1="172.50" y1="149.30" x2="172.50" y2="152.30" stroke="#111" stroke-width="1.25"/>
<line x1="175.50" y1="149.30" x2="175.50" y2="152.30" stroke="#111" stroke-width="1.25"/>
<line x1="177.50" y1="149.30" x2="177.50" y2="152.30" stroke="#111" stroke-width="1.25"/>
<line x1="178.50" y1="149.30" x2="178.50" y2="152.30" stroke="#111" stroke-width="1.25"/>
<line x1="179.50" y1="149.30" x2="179.50" y2="152.30" stroke="#111" stroke-width="1.25"/>
<line x1="180.50" y1="149.30" x2="180.50" y2="152.30" stroke="#111" stroke-width="1.25"/>
<line x1="181.50" y1="149.30" x2="181.50" y2="152.30" stroke="#111" stroke-width="1.25"/>
<line x1="182.50" y1="149.30" x2="182.50" y2="152.30" stroke="#111" stroke-width="1.25"/>
<line x1="183.50" y1="149.30" x2="183.50" y2="153.30" stroke="#111" stroke-width="1.25"/>
<line x1="187.50" y1="149.30" x2="187.50" y2="152.30" stroke="#111" stroke-width="1.25"/>
<line x1="190.50" y1="149.30" x2="190.50" y2="152.30" stroke="#111" stroke-width="1.25"/>
<line x1="191.50" y1="149.30" x2="191.50" y2="152.30" stroke="#111" stroke-width="1.25"/>
<line x1="193.50" y1="149.30" x2="193.50" y2="152.30" stroke="#111" stroke-width="1.25"/>
<line x1="194.50" y1="149.30" x2="194.50" y2="152.30" stroke="#111" stroke-width="1.25"/>
<line x1="195.50" y1="149.30" x2="195.50" y2="152.30" stroke="#111" stroke-width="1.25"/>
<line x1="196.50" y1="149.30" x2="196.50" y2="152.30" stroke="#111" stroke-width="1.25"/>
<line x1="163.50" y1="90.00" x2="163.50" y2="149.30" stroke="#111" stroke-width="1.2"/>
<line x1="139.30" y1="128.50" x2="197.70" y2="128.50" stroke="#111" stroke-width="1.2"/>
<text x="195.40" y="100.50" font-size="9.2" font-weight="normal" text-anchor="end" fill="#111" stroke="#111" stroke-width="0.18">1</text>
<text x="195.40" y="147.20" font-size="9.2" font-weight="normal" text-anchor="end" fill="#111" stroke="#111" stroke-width="0.18">8</text>
<text x="137.30" y="87.20" font-size="10" font-weight="bold" text-anchor="start" letter-spacing="0.4" fill="#111" stroke="#111" stroke-width="0.18">iv</text>
<path d="M277 14h1M274 16h1M274 17h5M279 18h1M271 19h1m1 0h2m2 0h1M270 20h1m2 0h1M268 21h1m3 0h1m1 0h3m1 0h2M251 22h1m19 0h3m2 0h2m1 0h2m4 0h1M249 23h1m20 0h3m4 0h2m1 0h1M269 24h1m6 0h1m2 0h2M277 25h2m1 0h1m4 0h1M269 26h1m1 0h1m2 0h1m1 0h3m5 0h1M263 27h1m11 0h1m3 0h1M267 28h1m5 0h1m2 0h3m1 0h1M271 29h1m1 0h1m1 0h1m2 0h1m2 0h2M260 30h1m14 0h2m2 0h1m5 0h1M262 31h1m10 0h3m1 0h3M273 32h1m1 0h4m3 0h1M274 33h1m2 0h1m1 0h1m1 0h2M276 34h2m1 0h1M269 35h1m4 0h1m2 0h1m1 0h1M248 36h1m20 0h1m6 0h1m1 0h2m3 0h1M271 37h1m1 0h1m1 0h3m3 0h1M276 38h1m3 0h1M274 39h2m2 0h2M270 40h1m4 0h4m1 0h1m3 0h1M270 41h1m1 0h2m3 0h1m1 0h1M271 42h2m2 0h2m2 0h1M269 43h7m1 0h2m1 0h1M252 44h1m1 0h1m3 0h3m5 0h1m3 0h2m2 0h6m1 0h1M249 45h1m6 0h1m5 0h2m4 0h1m1 0h8m1 0h1M251 46h1m3 0h3m2 0h2m1 0h1m1 0h1m1 0h3m2 0h9M249 47h1m2 0h1m1 0h2m4 0h5m1 0h6m1 0h3m1 0h1m1 0h1m3 0h1M249 48h1m1 0h1m3 0h2m1 0h1m2 0h1m1 0h1m1 0h1m2 0h8m1 0h1m1 0h1m1 0h1M251 49h1m3 0h1m1 0h3m1 0h1m1 0h1m1 0h5m2 0h8m1 0h1M248 50h1m6 0h1m2 0h10m1 0h4m1 0h3m1 0h2m2 0h1M252 51h3m3 0h2m2 0h4m1 0h11m1 0h2m1 0h1m1 0h1m2 0h1M250 52h2m4 0h20m2 0h1m1 0h1m1 0h1m3 0h2M248 53h1m4 0h22m2 0h2m12 0h1M248 54h2m3 0h1m2 0h21m1 0h1m1 0h3M249 55h2m3 0h4m1 0h14m1 0h1m1 0h4m2 0h2M250 56h30m3 0h1m9 0h1M247 57h1m1 0h1m1 0h1m2 0h22m1 0h1m1 0h1m11 0h1M251 58h2m1 0h2m1 0h15m1 0h5m1 0h1m7 0h1M248 59h4m1 0h21m1 0h1m1 0h3M247 60h6m1 0h4m1 0h14m1 0h4m4 0h1M248 61h1m1 0h3m1 0h6m1 0h2m1 0h12m1 0h3m2 0h1m8 0h1M251 62h2m1 0h6m1 0h3m1 0h10m3 0h1m1 0h2m1 0h1m1 0h1M249 63h2m1 0h1m1 0h12m1 0h11m10 0h1M254 64h10m2 0h5m1 0h1m1 0h3m1 0h1M251 65h1m5 0h2m1 0h1m1 0h3m1 0h6m1 0h2m1 0h1m1 0h4M250 66h2m5 0h4m1 0h2m2 0h7m1 0h1m2 0h3m3 0h1M253 67h2m1 0h10m1 0h1m1 0h4m4 0h1m3 0h1M257 68h3m1 0h2m9 0h3m6 0h1M255 69h2m2 0h3m1 0h2m1 0h2m1 0h3m1 0h2m1 0h2M250 70h1m1 0h1m7 0h1m5 0h1m5 0h1m12 0h1" stroke="#000" stroke-opacity="0.9" stroke-width="1" transform="translate(0 0.5)" filter="url(#bl)"/>
<line x1="246.00" y1="13.50" x2="304.60" y2="13.50" stroke="#111" stroke-width="1.3"/>
<line x1="304.50" y1="13.00" x2="304.50" y2="72.00" stroke="#111" stroke-width="1.3"/>
<line x1="246.50" y1="12.50" x2="246.50" y2="72.80" stroke="#111" stroke-width="1.6"/>
<line x1="245.20" y1="72.50" x2="305.10" y2="72.50" stroke="#111" stroke-width="1.6"/>
<line x1="242.40" y1="72.50" x2="246.00" y2="72.50" stroke="#111" stroke-width="1.25"/>
<line x1="243.20" y1="67.50" x2="246.00" y2="67.50" stroke="#111" stroke-width="1.25"/>
<line x1="243.20" y1="64.50" x2="246.00" y2="64.50" stroke="#111" stroke-width="1.25"/>
<line x1="243.20" y1="63.50" x2="246.00" y2="63.50" stroke="#111" stroke-width="1.25"/>
<line x1="243.20" y1="61.50" x2="246.00" y2="61.50" stroke="#111" stroke-width="1.25"/>
<line x1="243.20" y1="60.50" x2="246.00" y2="60.50" stroke="#111" stroke-width="1.25"/>
<line x1="243.20" y1="59.50" x2="246.00" y2="59.50" stroke="#111" stroke-width="1.25"/>
<line x1="243.20" y1="58.50" x2="246.00" y2="58.50" stroke="#111" stroke-width="1.25"/>
<line x1="243.20" y1="57.50" x2="246.00" y2="57.50" stroke="#111" stroke-width="1.25"/>
<line x1="242.40" y1="57.50" x2="246.00" y2="57.50" stroke="#111" stroke-width="1.25"/>
<line x1="243.20" y1="52.50" x2="246.00" y2="52.50" stroke="#111" stroke-width="1.25"/>
<line x1="243.20" y1="50.50" x2="246.00" y2="50.50" stroke="#111" stroke-width="1.25"/>
<line x1="243.20" y1="48.50" x2="246.00" y2="48.50" stroke="#111" stroke-width="1.25"/>
<line x1="243.20" y1="46.50" x2="246.00" y2="46.50" stroke="#111" stroke-width="1.25"/>
<line x1="243.20" y1="45.50" x2="246.00" y2="45.50" stroke="#111" stroke-width="1.25"/>
<line x1="243.20" y1="44.50" x2="246.00" y2="44.50" stroke="#111" stroke-width="1.25"/>
<line x1="243.20" y1="43.50" x2="246.00" y2="43.50" stroke="#111" stroke-width="1.25"/>
<line x1="243.20" y1="43.50" x2="246.00" y2="43.50" stroke="#111" stroke-width="1.25"/>
<line x1="242.40" y1="42.50" x2="246.00" y2="42.50" stroke="#111" stroke-width="1.25"/>
<line x1="243.20" y1="38.50" x2="246.00" y2="38.50" stroke="#111" stroke-width="1.25"/>
<line x1="243.20" y1="35.50" x2="246.00" y2="35.50" stroke="#111" stroke-width="1.25"/>
<line x1="243.20" y1="33.50" x2="246.00" y2="33.50" stroke="#111" stroke-width="1.25"/>
<line x1="243.20" y1="32.50" x2="246.00" y2="32.50" stroke="#111" stroke-width="1.25"/>
<line x1="243.20" y1="31.50" x2="246.00" y2="31.50" stroke="#111" stroke-width="1.25"/>
<line x1="243.20" y1="30.50" x2="246.00" y2="30.50" stroke="#111" stroke-width="1.25"/>
<line x1="243.20" y1="29.50" x2="246.00" y2="29.50" stroke="#111" stroke-width="1.25"/>
<line x1="243.20" y1="28.50" x2="246.00" y2="28.50" stroke="#111" stroke-width="1.25"/>
<line x1="242.40" y1="27.50" x2="246.00" y2="27.50" stroke="#111" stroke-width="1.25"/>
<line x1="243.20" y1="23.50" x2="246.00" y2="23.50" stroke="#111" stroke-width="1.25"/>
<line x1="243.20" y1="20.50" x2="246.00" y2="20.50" stroke="#111" stroke-width="1.25"/>
<line x1="243.20" y1="18.50" x2="246.00" y2="18.50" stroke="#111" stroke-width="1.25"/>
<line x1="243.20" y1="17.50" x2="246.00" y2="17.50" stroke="#111" stroke-width="1.25"/>
<line x1="243.20" y1="16.50" x2="246.00" y2="16.50" stroke="#111" stroke-width="1.25"/>
<line x1="243.20" y1="15.50" x2="246.00" y2="15.50" stroke="#111" stroke-width="1.25"/>
<line x1="243.20" y1="14.50" x2="246.00" y2="14.50" stroke="#111" stroke-width="1.25"/>
<line x1="246.50" y1="72.00" x2="246.50" y2="76.00" stroke="#111" stroke-width="1.25"/>
<line x1="250.50" y1="72.00" x2="250.50" y2="75.00" stroke="#111" stroke-width="1.25"/>
<line x1="252.50" y1="72.00" x2="252.50" y2="75.00" stroke="#111" stroke-width="1.25"/>
<line x1="254.50" y1="72.00" x2="254.50" y2="75.00" stroke="#111" stroke-width="1.25"/>
<line x1="256.50" y1="72.00" x2="256.50" y2="75.00" stroke="#111" stroke-width="1.25"/>
<line x1="257.50" y1="72.00" x2="257.50" y2="75.00" stroke="#111" stroke-width="1.25"/>
<line x1="258.50" y1="72.00" x2="258.50" y2="75.00" stroke="#111" stroke-width="1.25"/>
<line x1="259.50" y1="72.00" x2="259.50" y2="75.00" stroke="#111" stroke-width="1.25"/>
<line x1="259.50" y1="72.00" x2="259.50" y2="75.00" stroke="#111" stroke-width="1.25"/>
<line x1="260.50" y1="72.00" x2="260.50" y2="76.00" stroke="#111" stroke-width="1.25"/>
<line x1="265.50" y1="72.00" x2="265.50" y2="75.00" stroke="#111" stroke-width="1.25"/>
<line x1="267.50" y1="72.00" x2="267.50" y2="75.00" stroke="#111" stroke-width="1.25"/>
<line x1="269.50" y1="72.00" x2="269.50" y2="75.00" stroke="#111" stroke-width="1.25"/>
<line x1="270.50" y1="72.00" x2="270.50" y2="75.00" stroke="#111" stroke-width="1.25"/>
<line x1="272.50" y1="72.00" x2="272.50" y2="75.00" stroke="#111" stroke-width="1.25"/>
<line x1="273.50" y1="72.00" x2="273.50" y2="75.00" stroke="#111" stroke-width="1.25"/>
<line x1="273.50" y1="72.00" x2="273.50" y2="75.00" stroke="#111" stroke-width="1.25"/>
<line x1="274.50" y1="72.00" x2="274.50" y2="75.00" stroke="#111" stroke-width="1.25"/>
<line x1="275.50" y1="72.00" x2="275.50" y2="76.00" stroke="#111" stroke-width="1.25"/>
<line x1="279.50" y1="72.00" x2="279.50" y2="75.00" stroke="#111" stroke-width="1.25"/>
<line x1="282.50" y1="72.00" x2="282.50" y2="75.00" stroke="#111" stroke-width="1.25"/>
<line x1="284.50" y1="72.00" x2="284.50" y2="75.00" stroke="#111" stroke-width="1.25"/>
<line x1="285.50" y1="72.00" x2="285.50" y2="75.00" stroke="#111" stroke-width="1.25"/>
<line x1="286.50" y1="72.00" x2="286.50" y2="75.00" stroke="#111" stroke-width="1.25"/>
<line x1="287.50" y1="72.00" x2="287.50" y2="75.00" stroke="#111" stroke-width="1.25"/>
<line x1="288.50" y1="72.00" x2="288.50" y2="75.00" stroke="#111" stroke-width="1.25"/>
<line x1="289.50" y1="72.00" x2="289.50" y2="75.00" stroke="#111" stroke-width="1.25"/>
<line x1="289.50" y1="72.00" x2="289.50" y2="76.00" stroke="#111" stroke-width="1.25"/>
<line x1="294.50" y1="72.00" x2="294.50" y2="75.00" stroke="#111" stroke-width="1.25"/>
<line x1="296.50" y1="72.00" x2="296.50" y2="75.00" stroke="#111" stroke-width="1.25"/>
<line x1="298.50" y1="72.00" x2="298.50" y2="75.00" stroke="#111" stroke-width="1.25"/>
<line x1="300.50" y1="72.00" x2="300.50" y2="75.00" stroke="#111" stroke-width="1.25"/>
<line x1="301.50" y1="72.00" x2="301.50" y2="75.00" stroke="#111" stroke-width="1.25"/>
<line x1="302.50" y1="72.00" x2="302.50" y2="75.00" stroke="#111" stroke-width="1.25"/>
<line x1="303.50" y1="72.00" x2="303.50" y2="75.00" stroke="#111" stroke-width="1.25"/>
<line x1="270.50" y1="13.00" x2="270.50" y2="72.00" stroke="#111" stroke-width="1.2"/>
<line x1="246.00" y1="48.50" x2="304.60" y2="48.50" stroke="#111" stroke-width="1.2"/>
<text x="303.20" y="23.70" font-size="9.2" font-weight="normal" text-anchor="end" fill="#111" stroke="#111" stroke-width="0.18">11</text>
<text x="303.20" y="70.20" font-size="9.2" font-weight="normal" text-anchor="end" fill="#111" stroke="#111" stroke-width="0.18">26</text>
<text x="247.40" y="9.00" font-size="10" font-weight="bold" text-anchor="start" letter-spacing="0.4" fill="#111" stroke="#111" stroke-width="0.18">v</text>
<text x="266.30" y="9.00" font-size="9.4" font-weight="normal" text-anchor="start" fill="#111" stroke="#111" stroke-width="0.18">BM</text>
<path d="M280 92h1M273 93h1M277 96h1m6 0h1M269 97h1m9 0h1M259 98h1m15 0h1M271 99h1m4 0h1m6 0h1M266 100h1m11 0h1m8 0h1M271 101h1m1 0h1m1 0h3m1 0h1m3 0h1m3 0h1M279 102h1m1 0h1m4 0h1M248 103h1m25 0h1m5 0h1m1 0h1M271 104h1m2 0h1m1 0h1m1 0h2m3 0h1M276 105h2m1 0h1M271 106h1m1 0h1m3 0h1m2 0h1M276 107h1m3 0h1m1 0h1M274 108h1m3 0h1m2 0h2m2 0h1M258 109h1m16 0h1m3 0h1m2 0h1M280 110h1m5 0h1M272 111h1m4 0h2m4 0h1M273 112h1m1 0h2m4 0h1M278 113h1m7 0h1M273 115h2m10 0h1M274 116h1m1 0h1m3 0h1M254 117h1m27 0h2m3 0h1M259 118h1m1 0h1m15 0h2m2 0h1M261 119h1m16 0h1M264 120h2m3 0h1M261 121h1m4 0h1m14 0h1m2 0h1M258 122h1m20 0h2M255 123h1m1 0h1m1 0h1m15 0h1m12 0h1M255 124h1m3 0h2m5 0h1M253 125h1m2 0h1m7 0h1m14 0h1m3 0h1M250 126h1m2 0h1m3 0h1m1 0h4m3 0h1m2 0h1M252 127h2m3 0h3m1 0h2m1 0h2m1 0h1M248 128h2m2 0h1m1 0h2m1 0h2m1 0h1m1 0h2m1 0h1m2 0h1m6 0h1M249 129h1m1 0h3m3 0h6m1 0h3m1 0h1m1 0h1m1 0h1M248 130h1m2 0h1m2 0h12m1 0h2m1 0h1M250 131h21m3 0h1m2 0h1M246 132h1m2 0h1m4 0h19m2 0h1m4 0h1M248 133h4m2 0h17m3 0h1m1 0h2m2 0h1m3 0h1M248 134h9m1 0h14m2 0h1M249 135h1m1 0h18m1 0h3m1 0h1m5 0h1M246 136h1m3 0h2m1 0h3m1 0h14m3 0h1M248 137h1m2 0h20m2 0h2M247 138h1m1 0h17m1 0h1m1 0h1m3 0h2m2 0h2M249 139h17m1 0h4m1 0h1M249 140h14m1 0h9m2 0h1M249 141h2m1 0h19m3 0h1m3 0h1M246 142h1m2 0h1m3 0h13m1 0h1m1 0h1m2 0h1M249 143h1m1 0h19m1 0h1m4 0h1M249 144h2m2 0h7m1 0h4m1 0h3m7 0h1M248 145h1m2 0h10m1 0h1m1 0h3m4 0h2m1 0h1M249 146h1m3 0h1m1 0h1m1 0h2m1 0h6m1 0h2m1 0h1m7 0h1M249 147h1m3 0h2m2 0h1m1 0h5m1 0h1m1 0h2m3 0h1m1 0h1" stroke="#000" stroke-opacity="0.9" stroke-width="1" transform="translate(0 0.5)" filter="url(#bl)"/>
<line x1="246.00" y1="90.50" x2="303.50" y2="90.50" stroke="#111" stroke-width="1.3"/>
<line x1="303.50" y1="90.00" x2="303.50" y2="149.30" stroke="#111" stroke-width="1.3"/>
<line x1="246.50" y1="89.50" x2="246.50" y2="150.10" stroke="#111" stroke-width="1.6"/>
<line x1="245.20" y1="149.50" x2="304.00" y2="149.50" stroke="#111" stroke-width="1.6"/>
<line x1="242.40" y1="149.50" x2="246.00" y2="149.50" stroke="#111" stroke-width="1.25"/>
<line x1="243.20" y1="144.50" x2="246.00" y2="144.50" stroke="#111" stroke-width="1.25"/>
<line x1="243.20" y1="142.50" x2="246.00" y2="142.50" stroke="#111" stroke-width="1.25"/>
<line x1="243.20" y1="140.50" x2="246.00" y2="140.50" stroke="#111" stroke-width="1.25"/>
<line x1="243.20" y1="138.50" x2="246.00" y2="138.50" stroke="#111" stroke-width="1.25"/>
<line x1="243.20" y1="137.50" x2="246.00" y2="137.50" stroke="#111" stroke-width="1.25"/>
<line x1="243.20" y1="136.50" x2="246.00" y2="136.50" stroke="#111" stroke-width="1.25"/>
<line x1="243.20" y1="135.50" x2="246.00" y2="135.50" stroke="#111" stroke-width="1.25"/>
<line x1="243.20" y1="135.50" x2="246.00" y2="135.50" stroke="#111" stroke-width="1.25"/>
<line x1="242.40" y1="134.50" x2="246.00" y2="134.50" stroke="#111" stroke-width="1.25"/>
<line x1="243.20" y1="130.50" x2="246.00" y2="130.50" stroke="#111" stroke-width="1.25"/>
<line x1="243.20" y1="127.50" x2="246.00" y2="127.50" stroke="#111" stroke-width="1.25"/>
<line x1="243.20" y1="125.50" x2="246.00" y2="125.50" stroke="#111" stroke-width="1.25"/>
<line x1="243.20" y1="124.50" x2="246.00" y2="124.50" stroke="#111" stroke-width="1.25"/>
<line x1="243.20" y1="122.50" x2="246.00" y2="122.50" stroke="#111" stroke-width="1.25"/>
<line x1="243.20" y1="121.50" x2="246.00" y2="121.50" stroke="#111" stroke-width="1.25"/>
<line x1="243.20" y1="121.50" x2="246.00" y2="121.50" stroke="#111" stroke-width="1.25"/>
<line x1="243.20" y1="120.50" x2="246.00" y2="120.50" stroke="#111" stroke-width="1.25"/>
<line x1="242.40" y1="119.50" x2="246.00" y2="119.50" stroke="#111" stroke-width="1.25"/>
<line x1="243.20" y1="115.50" x2="246.00" y2="115.50" stroke="#111" stroke-width="1.25"/>
<line x1="243.20" y1="112.50" x2="246.00" y2="112.50" stroke="#111" stroke-width="1.25"/>
<line x1="243.20" y1="110.50" x2="246.00" y2="110.50" stroke="#111" stroke-width="1.25"/>
<line x1="243.20" y1="109.50" x2="246.00" y2="109.50" stroke="#111" stroke-width="1.25"/>
<line x1="243.20" y1="108.50" x2="246.00" y2="108.50" stroke="#111" stroke-width="1.25"/>
<line x1="243.20" y1="107.50" x2="246.00" y2="107.50" stroke="#111" stroke-width="1.25"/>
<line x1="243.20" y1="106.50" x2="246.00" y2="106.50" stroke="#111" stroke-width="1.25"/>
<line x1="243.20" y1="105.50" x2="246.00" y2="105.50" stroke="#111" stroke-width="1.25"/>
<line x1="242.40" y1="104.50" x2="246.00" y2="104.50" stroke="#111" stroke-width="1.25"/>
<line x1="243.20" y1="100.50" x2="246.00" y2="100.50" stroke="#111" stroke-width="1.25"/>
<line x1="243.20" y1="97.50" x2="246.00" y2="97.50" stroke="#111" stroke-width="1.25"/>
<line x1="243.20" y1="95.50" x2="246.00" y2="95.50" stroke="#111" stroke-width="1.25"/>
<line x1="243.20" y1="94.50" x2="246.00" y2="94.50" stroke="#111" stroke-width="1.25"/>
<line x1="243.20" y1="93.50" x2="246.00" y2="93.50" stroke="#111" stroke-width="1.25"/>
<line x1="243.20" y1="92.50" x2="246.00" y2="92.50" stroke="#111" stroke-width="1.25"/>
<line x1="243.20" y1="91.50" x2="246.00" y2="91.50" stroke="#111" stroke-width="1.25"/>
<line x1="246.50" y1="149.30" x2="246.50" y2="153.30" stroke="#111" stroke-width="1.25"/>
<line x1="250.50" y1="149.30" x2="250.50" y2="152.30" stroke="#111" stroke-width="1.25"/>
<line x1="252.50" y1="149.30" x2="252.50" y2="152.30" stroke="#111" stroke-width="1.25"/>
<line x1="254.50" y1="149.30" x2="254.50" y2="152.30" stroke="#111" stroke-width="1.25"/>
<line x1="256.50" y1="149.30" x2="256.50" y2="152.30" stroke="#111" stroke-width="1.25"/>
<line x1="257.50" y1="149.30" x2="257.50" y2="152.30" stroke="#111" stroke-width="1.25"/>
<line x1="258.50" y1="149.30" x2="258.50" y2="152.30" stroke="#111" stroke-width="1.25"/>
<line x1="258.50" y1="149.30" x2="258.50" y2="152.30" stroke="#111" stroke-width="1.25"/>
<line x1="259.50" y1="149.30" x2="259.50" y2="152.30" stroke="#111" stroke-width="1.25"/>
<line x1="260.50" y1="149.30" x2="260.50" y2="153.30" stroke="#111" stroke-width="1.25"/>
<line x1="264.50" y1="149.30" x2="264.50" y2="152.30" stroke="#111" stroke-width="1.25"/>
<line x1="267.50" y1="149.30" x2="267.50" y2="152.30" stroke="#111" stroke-width="1.25"/>
<line x1="269.50" y1="149.30" x2="269.50" y2="152.30" stroke="#111" stroke-width="1.25"/>
<line x1="270.50" y1="149.30" x2="270.50" y2="152.30" stroke="#111" stroke-width="1.25"/>
<line x1="271.50" y1="149.30" x2="271.50" y2="152.30" stroke="#111" stroke-width="1.25"/>
<line x1="272.50" y1="149.30" x2="272.50" y2="152.30" stroke="#111" stroke-width="1.25"/>
<line x1="273.50" y1="149.30" x2="273.50" y2="152.30" stroke="#111" stroke-width="1.25"/>
<line x1="274.50" y1="149.30" x2="274.50" y2="152.30" stroke="#111" stroke-width="1.25"/>
<line x1="274.50" y1="149.30" x2="274.50" y2="153.30" stroke="#111" stroke-width="1.25"/>
<line x1="279.50" y1="149.30" x2="279.50" y2="152.30" stroke="#111" stroke-width="1.25"/>
<line x1="281.50" y1="149.30" x2="281.50" y2="152.30" stroke="#111" stroke-width="1.25"/>
<line x1="283.50" y1="149.30" x2="283.50" y2="152.30" stroke="#111" stroke-width="1.25"/>
<line x1="284.50" y1="149.30" x2="284.50" y2="152.30" stroke="#111" stroke-width="1.25"/>
<line x1="285.50" y1="149.30" x2="285.50" y2="152.30" stroke="#111" stroke-width="1.25"/>
<line x1="286.50" y1="149.30" x2="286.50" y2="152.30" stroke="#111" stroke-width="1.25"/>
<line x1="287.50" y1="149.30" x2="287.50" y2="152.30" stroke="#111" stroke-width="1.25"/>
<line x1="288.50" y1="149.30" x2="288.50" y2="152.30" stroke="#111" stroke-width="1.25"/>
<line x1="289.50" y1="149.30" x2="289.50" y2="153.30" stroke="#111" stroke-width="1.25"/>
<line x1="293.50" y1="149.30" x2="293.50" y2="152.30" stroke="#111" stroke-width="1.25"/>
<line x1="295.50" y1="149.30" x2="295.50" y2="152.30" stroke="#111" stroke-width="1.25"/>
<line x1="297.50" y1="149.30" x2="297.50" y2="152.30" stroke="#111" stroke-width="1.25"/>
<line x1="299.50" y1="149.30" x2="299.50" y2="152.30" stroke="#111" stroke-width="1.25"/>
<line x1="300.50" y1="149.30" x2="300.50" y2="152.30" stroke="#111" stroke-width="1.25"/>
<line x1="301.50" y1="149.30" x2="301.50" y2="152.30" stroke="#111" stroke-width="1.25"/>
<line x1="302.50" y1="149.30" x2="302.50" y2="152.30" stroke="#111" stroke-width="1.25"/>
<line x1="269.50" y1="90.00" x2="269.50" y2="149.30" stroke="#111" stroke-width="1.2"/>
<line x1="246.00" y1="126.50" x2="303.50" y2="126.50" stroke="#111" stroke-width="1.2"/>
<text x="302.70" y="101.30" font-size="9.2" font-weight="normal" text-anchor="end" fill="#111" stroke="#111" stroke-width="0.18">6</text>
<text x="302.70" y="147.50" font-size="9.2" font-weight="normal" text-anchor="end" fill="#111" stroke="#111" stroke-width="0.18">4</text>
<text x="246.80" y="87.40" font-size="10" font-weight="bold" text-anchor="start" letter-spacing="0.4" fill="#111" stroke="#111" stroke-width="0.18">vi</text>
<path d="M367 22h1M371 24h1m1 0h1M368 25h1M364 26h1M361 27h1m4 0h1m9 0h1M356 28h1m4 0h1m1 0h1m5 0h2m2 0h1M355 29h1m5 0h1m2 0h1m1 0h1m4 0h1M354 30h1m5 0h1m2 0h2m1 0h3m1 0h1m1 0h1m4 0h1M360 31h1m1 0h3m1 0h3m1 0h3m1 0h2m2 0h1m7 0h1M360 32h3m1 0h9m12 0h1M360 33h3m1 0h3m1 0h2m1 0h4m6 0h1m1 0h1m3 0h1M358 34h14m1 0h4m4 0h2M358 35h1m1 0h11m1 0h2m1 0h3m5 0h1m1 0h2M358 36h16m1 0h1m1 0h1m1 0h2m2 0h1m1 0h1M359 37h8m1 0h5m2 0h5m2 0h1m6 0h1M356 38h4m2 0h13m1 0h1m1 0h2m1 0h4m1 0h1M354 39h1m1 0h2m2 0h1m1 0h8m1 0h1m1 0h2m2 0h2m1 0h2m2 0h2m1 0h2M354 40h2m1 0h17m1 0h1m1 0h1m1 0h3m1 0h4m3 0h1M354 41h1m1 0h1m2 0h6m1 0h9m2 0h7m1 0h4m1 0h1M356 42h1m1 0h18m3 0h2m1 0h4m2 0h2M355 43h22m1 0h3m1 0h1m2 0h3m1 0h1m2 0h1M354 44h2m1 0h5m2 0h9m1 0h2m3 0h1m1 0h8M358 45h4m1 0h6m3 0h1m1 0h2m1 0h1m1 0h7M355 46h1m1 0h10m1 0h6m1 0h1m1 0h1m1 0h10m2 0h1M355 47h2m1 0h1m1 0h4m1 0h1m1 0h1m3 0h1m6 0h7m1 0h1m1 0h3M355 48h5m1 0h5m1 0h3m1 0h2m2 0h15M353 49h1m2 0h2m1 0h2m1 0h1m1 0h2m1 0h3m2 0h1m3 0h2m1 0h10M353 50h2m1 0h3m1 0h3m1 0h1m1 0h2m1 0h3m5 0h1m1 0h1m1 0h8m2 0h1M354 51h1m1 0h1m1 0h7m1 0h3m1 0h2m5 0h1m2 0h1m1 0h1m1 0h9M352 52h1m1 0h16m1 0h1m6 0h1m1 0h11M354 53h5m1 0h5m1 0h6m1 0h2m1 0h1m2 0h13M353 54h18m2 0h1m2 0h2m1 0h9m1 0h1m1 0h1m5 0h1M353 55h2m1 0h16m1 0h2m1 0h15M353 56h1m1 0h16m4 0h1m1 0h1m3 0h9m2 0h1M354 57h15m1 0h2m4 0h2m1 0h8m1 0h1M352 58h7m1 0h11m2 0h1m4 0h2m2 0h5m1 0h1m2 0h1M353 59h14m1 0h3m1 0h1m4 0h10m2 0h2M352 60h3m1 0h2m1 0h9m1 0h1m1 0h1m3 0h2m2 0h3m1 0h3m1 0h4M353 61h16m2 0h3m1 0h1m1 0h1m1 0h1m1 0h2m1 0h6M353 62h2m1 0h2m1 0h2m1 0h5m1 0h3m9 0h5m5 0h1M353 63h1m1 0h2m1 0h2m2 0h1m2 0h2m1 0h1m1 0h1m7 0h1m1 0h8m3 0h1M355 64h1m3 0h1m1 0h1m1 0h1m1 0h1m1 0h2m1 0h1m9 0h3m1 0h2m1 0h2M356 65h1m2 0h3m3 0h1m1 0h3m2 0h1m9 0h2m2 0h2M358 66h1m1 0h1m2 0h1m1 0h1m1 0h1m2 0h1m6 0h4m1 0h2m1 0h2M356 67h2m7 0h1m2 0h1m2 0h2m1 0h1m5 0h1m1 0h1m1 0h4m5 0h1M354 68h1m2 0h1m2 0h1m7 0h1m10 0h1m3 0h1m1 0h2m5 0h1M354 69h1m13 0h2m1 0h2m8 0h1m10 0h1m1 0h1M353 70h1m4 0h1m9 0h1m5 0h1m11 0h1m1 0h1" stroke="#000" stroke-opacity="0.9" stroke-width="1" transform="translate(0 0.5)" filter="url(#bl)"/>
<line x1="352.30" y1="13.50" x2="410.90" y2="13.50" stroke="#111" stroke-width="1.3"/>
<line x1="410.50" y1="13.00" x2="410.50" y2="72.00" stroke="#111" stroke-width="1.3"/>
<line x1="352.50" y1="12.50" x2="352.50" y2="72.80" stroke="#111" stroke-width="1.6"/>
<line x1="351.50" y1="72.50" x2="411.40" y2="72.50" stroke="#111" stroke-width="1.6"/>
<line x1="348.70" y1="72.50" x2="352.30" y2="72.50" stroke="#111" stroke-width="1.25"/>
<line x1="349.50" y1="67.50" x2="352.30" y2="67.50" stroke="#111" stroke-width="1.25"/>
<line x1="349.50" y1="64.50" x2="352.30" y2="64.50" stroke="#111" stroke-width="1.25"/>
<line x1="349.50" y1="63.50" x2="352.30" y2="63.50" stroke="#111" stroke-width="1.25"/>
<line x1="349.50" y1="61.50" x2="352.30" y2="61.50" stroke="#111" stroke-width="1.25"/>
<line x1="349.50" y1="60.50" x2="352.30" y2="60.50" stroke="#111" stroke-width="1.25"/>
<line x1="349.50" y1="59.50" x2="352.30" y2="59.50" stroke="#111" stroke-width="1.25"/>
<line x1="349.50" y1="58.50" x2="352.30" y2="58.50" stroke="#111" stroke-width="1.25"/>
<line x1="349.50" y1="57.50" x2="352.30" y2="57.50" stroke="#111" stroke-width="1.25"/>
<line x1="348.70" y1="57.50" x2="352.30" y2="57.50" stroke="#111" stroke-width="1.25"/>
<line x1="349.50" y1="52.50" x2="352.30" y2="52.50" stroke="#111" stroke-width="1.25"/>
<line x1="349.50" y1="50.50" x2="352.30" y2="50.50" stroke="#111" stroke-width="1.25"/>
<line x1="349.50" y1="48.50" x2="352.30" y2="48.50" stroke="#111" stroke-width="1.25"/>
<line x1="349.50" y1="46.50" x2="352.30" y2="46.50" stroke="#111" stroke-width="1.25"/>
<line x1="349.50" y1="45.50" x2="352.30" y2="45.50" stroke="#111" stroke-width="1.25"/>
<line x1="349.50" y1="44.50" x2="352.30" y2="44.50" stroke="#111" stroke-width="1.25"/>
<line x1="349.50" y1="43.50" x2="352.30" y2="43.50" stroke="#111" stroke-width="1.25"/>
<line x1="349.50" y1="43.50" x2="352.30" y2="43.50" stroke="#111" stroke-width="1.25"/>
<line x1="348.70" y1="42.50" x2="352.30" y2="42.50" stroke="#111" stroke-width="1.25"/>
<line x1="349.50" y1="38.50" x2="352.30" y2="38.50" stroke="#111" stroke-width="1.25"/>
<line x1="349.50" y1="35.50" x2="352.30" y2="35.50" stroke="#111" stroke-width="1.25"/>
<line x1="349.50" y1="33.50" x2="352.30" y2="33.50" stroke="#111" stroke-width="1.25"/>
<line x1="349.50" y1="32.50" x2="352.30" y2="32.50" stroke="#111" stroke-width="1.25"/>
<line x1="349.50" y1="31.50" x2="352.30" y2="31.50" stroke="#111" stroke-width="1.25"/>
<line x1="349.50" y1="30.50" x2="352.30" y2="30.50" stroke="#111" stroke-width="1.25"/>
<line x1="349.50" y1="29.50" x2="352.30" y2="29.50" stroke="#111" stroke-width="1.25"/>
<line x1="349.50" y1="28.50" x2="352.30" y2="28.50" stroke="#111" stroke-width="1.25"/>
<line x1="348.70" y1="27.50" x2="352.30" y2="27.50" stroke="#111" stroke-width="1.25"/>
<line x1="349.50" y1="23.50" x2="352.30" y2="23.50" stroke="#111" stroke-width="1.25"/>
<line x1="349.50" y1="20.50" x2="352.30" y2="20.50" stroke="#111" stroke-width="1.25"/>
<line x1="349.50" y1="18.50" x2="352.30" y2="18.50" stroke="#111" stroke-width="1.25"/>
<line x1="349.50" y1="17.50" x2="352.30" y2="17.50" stroke="#111" stroke-width="1.25"/>
<line x1="349.50" y1="16.50" x2="352.30" y2="16.50" stroke="#111" stroke-width="1.25"/>
<line x1="349.50" y1="15.50" x2="352.30" y2="15.50" stroke="#111" stroke-width="1.25"/>
<line x1="349.50" y1="14.50" x2="352.30" y2="14.50" stroke="#111" stroke-width="1.25"/>
<line x1="352.50" y1="72.00" x2="352.50" y2="76.00" stroke="#111" stroke-width="1.25"/>
<line x1="356.50" y1="72.00" x2="356.50" y2="75.00" stroke="#111" stroke-width="1.25"/>
<line x1="359.50" y1="72.00" x2="359.50" y2="75.00" stroke="#111" stroke-width="1.25"/>
<line x1="361.50" y1="72.00" x2="361.50" y2="75.00" stroke="#111" stroke-width="1.25"/>
<line x1="362.50" y1="72.00" x2="362.50" y2="75.00" stroke="#111" stroke-width="1.25"/>
<line x1="363.50" y1="72.00" x2="363.50" y2="75.00" stroke="#111" stroke-width="1.25"/>
<line x1="364.50" y1="72.00" x2="364.50" y2="75.00" stroke="#111" stroke-width="1.25"/>
<line x1="365.50" y1="72.00" x2="365.50" y2="75.00" stroke="#111" stroke-width="1.25"/>
<line x1="366.50" y1="72.00" x2="366.50" y2="75.00" stroke="#111" stroke-width="1.25"/>
<line x1="366.50" y1="72.00" x2="366.50" y2="76.00" stroke="#111" stroke-width="1.25"/>
<line x1="371.50" y1="72.00" x2="371.50" y2="75.00" stroke="#111" stroke-width="1.25"/>
<line x1="373.50" y1="72.00" x2="373.50" y2="75.00" stroke="#111" stroke-width="1.25"/>
<line x1="375.50" y1="72.00" x2="375.50" y2="75.00" stroke="#111" stroke-width="1.25"/>
<line x1="377.50" y1="72.00" x2="377.50" y2="75.00" stroke="#111" stroke-width="1.25"/>
<line x1="378.50" y1="72.00" x2="378.50" y2="75.00" stroke="#111" stroke-width="1.25"/>
<line x1="379.50" y1="72.00" x2="379.50" y2="75.00" stroke="#111" stroke-width="1.25"/>
<line x1="380.50" y1="72.00" x2="380.50" y2="75.00" stroke="#111" stroke-width="1.25"/>
<line x1="380.50" y1="72.00" x2="380.50" y2="75.00" stroke="#111" stroke-width="1.25"/>
<line x1="381.50" y1="72.00" x2="381.50" y2="76.00" stroke="#111" stroke-width="1.25"/>
<line x1="386.50" y1="72.00" x2="386.50" y2="75.00" stroke="#111" stroke-width="1.25"/>
<line x1="388.50" y1="72.00" x2="388.50" y2="75.00" stroke="#111" stroke-width="1.25"/>
<line x1="390.50" y1="72.00" x2="390.50" y2="75.00" stroke="#111" stroke-width="1.25"/>
<line x1="391.50" y1="72.00" x2="391.50" y2="75.00" stroke="#111" stroke-width="1.25"/>
<line x1="392.50" y1="72.00" x2="392.50" y2="75.00" stroke="#111" stroke-width="1.25"/>
<line x1="393.50" y1="72.00" x2="393.50" y2="75.00" stroke="#111" stroke-width="1.25"/>
<line x1="394.50" y1="72.00" x2="394.50" y2="75.00" stroke="#111" stroke-width="1.25"/>
<line x1="395.50" y1="72.00" x2="395.50" y2="75.00" stroke="#111" stroke-width="1.25"/>
<line x1="396.50" y1="72.00" x2="396.50" y2="76.00" stroke="#111" stroke-width="1.25"/>
<line x1="400.50" y1="72.00" x2="400.50" y2="75.00" stroke="#111" stroke-width="1.25"/>
<line x1="403.50" y1="72.00" x2="403.50" y2="75.00" stroke="#111" stroke-width="1.25"/>
<line x1="405.50" y1="72.00" x2="405.50" y2="75.00" stroke="#111" stroke-width="1.25"/>
<line x1="406.50" y1="72.00" x2="406.50" y2="75.00" stroke="#111" stroke-width="1.25"/>
<line x1="407.50" y1="72.00" x2="407.50" y2="75.00" stroke="#111" stroke-width="1.25"/>
<line x1="408.50" y1="72.00" x2="408.50" y2="75.00" stroke="#111" stroke-width="1.25"/>
<line x1="409.50" y1="72.00" x2="409.50" y2="75.00" stroke="#111" stroke-width="1.25"/>
<line x1="376.50" y1="13.00" x2="376.50" y2="72.00" stroke="#111" stroke-width="1.2"/>
<line x1="352.30" y1="47.50" x2="410.90" y2="47.50" stroke="#111" stroke-width="1.2"/>
<text x="354.10" y="24.10" font-size="9.2" font-weight="normal" text-anchor="start" fill="#111" stroke="#111" stroke-width="0.18">35</text>
<text x="408.60" y="24.10" font-size="9.2" font-weight="normal" text-anchor="end" fill="#111" stroke="#111" stroke-width="0.18">7</text>
<text x="409.40" y="71.00" font-size="9.2" font-weight="normal" text-anchor="end" fill="#111" stroke="#111" stroke-width="0.18">27</text>
<text x="350.70" y="8.90" font-size="10" font-weight="bold" text-anchor="start" letter-spacing="0.4" fill="#111" stroke="#111" stroke-width="0.18">vii</text>
<text x="372.20" y="9.40" font-size="9.4" font-weight="normal" text-anchor="start" fill="#111" stroke="#111" stroke-width="0.18">BM</text>
<path d="M371 102h1m1 0h1M357 104h1m9 0h1M366 105h1m10 0h1m6 0h1M362 106h1m1 0h1m3 0h1m3 0h1m4 0h1M354 107h1m6 0h1m13 0h1m1 0h1m5 0h1M354 108h1m4 0h2m1 0h3m1 0h1m3 0h1m5 0h1m2 0h1m1 0h1M354 109h1m4 0h2m1 0h2m1 0h4m1 0h1m2 0h2m3 0h1m4 0h1m6 0h1M357 110h1m2 0h5m1 0h1m1 0h1m1 0h4m1 0h1m2 0h1m8 0h1M356 111h1m2 0h3m1 0h2m1 0h7m1 0h4m1 0h2m11 0h1M355 112h1m1 0h12m1 0h3m2 0h1m1 0h1M353 113h9m1 0h7m1 0h4m5 0h1m5 0h1M354 114h17m1 0h1m1 0h1m1 0h1m1 0h2m7 0h1m4 0h1M353 115h3m2 0h22m1 0h1M353 116h8m1 0h10m1 0h3m2 0h1m1 0h1m4 0h1M354 117h2m1 0h21m2 0h1m2 0h2m1 0h1M353 118h1m1 0h22m1 0h3m2 0h4m1 0h1M353 119h21m1 0h5m1 0h2m1 0h2M353 120h1m1 0h24m7 0h1m1 0h1M354 121h18m1 0h5m1 0h2m1 0h2M355 122h2m1 0h15m1 0h2m1 0h2m4 0h1m5 0h1M357 123h10m3 0h5m2 0h4m1 0h3m2 0h1M356 124h2m1 0h1m1 0h15m1 0h2M356 125h16m1 0h4m1 0h1m1 0h1m2 0h1M353 126h1m2 0h2m1 0h1m1 0h6m1 0h5m1 0h1m2 0h1m2 0h1m2 0h2m4 0h2M357 127h3m4 0h1m2 0h1m1 0h1m1 0h1m3 0h1m5 0h6M353 128h1m1 0h1m2 0h1m3 0h2m1 0h1m1 0h2m3 0h1m5 0h1m6 0h1m1 0h1M357 129h1m3 0h1m2 0h6m2 0h1m1 0h1m4 0h1m3 0h5m2 0h2M357 130h7m1 0h1m1 0h1m2 0h1m10 0h1m1 0h3M355 131h3m1 0h5m2 0h1m3 0h1m1 0h1m2 0h1m5 0h2m2 0h1m1 0h1m1 0h1M353 132h1m3 0h2m2 0h5m2 0h2m7 0h1m3 0h1m1 0h4M357 133h1m1 0h2m1 0h1m1 0h2m1 0h1m2 0h2m1 0h1m2 0h1m3 0h1m1 0h1m2 0h2m1 0h1M354 134h2m1 0h1m1 0h7m1 0h2m2 0h1m2 0h1m2 0h1m4 0h2m1 0h1m1 0h1m2 0h1M355 135h4m1 0h6m1 0h1m1 0h1m2 0h1m8 0h1m3 0h1M357 136h2m1 0h7m1 0h1m1 0h2m3 0h1m2 0h1m2 0h3m1 0h3M354 137h3m1 0h1m3 0h1m1 0h5m11 0h1m3 0h1m2 0h1M356 138h1m1 0h1m3 0h7m1 0h1m7 0h3m1 0h2m1 0h2M355 139h4m2 0h1m4 0h3m1 0h3m6 0h1m2 0h2m1 0h1m1 0h1M356 140h3m1 0h1m2 0h1m1 0h2m1 0h1m12 0h2m3 0h1m2 0h1M357 141h7m1 0h2m4 0h1m7 0h1m1 0h1m1 0h1m1 0h1M360 142h6m3 0h1m2 0h1m8 0h2m2 0h1M353 143h1m6 0h2m3 0h3m4 0h1m10 0h1m1 0h1M354 144h2m2 0h2m2 0h2m5 0h1m9 0h1m4 0h3m1 0h1M355 145h1m8 0h1m2 0h1m6 0h1M356 146h1m4 0h3m2 0h1m3 0h1m15 0h1M355 147h1m4 0h2m4 0h1m4 0h1m11 0h1m5 0h1" stroke="#000" stroke-opacity="0.9" stroke-width="1" transform="translate(0 0.5)" filter="url(#bl)"/>
<line x1="352.40" y1="90.50" x2="409.70" y2="90.50" stroke="#111" stroke-width="1.3"/>
<line x1="409.50" y1="90.00" x2="409.50" y2="149.30" stroke="#111" stroke-width="1.3"/>
<line x1="352.50" y1="89.50" x2="352.50" y2="150.10" stroke="#111" stroke-width="1.6"/>
<line x1="351.60" y1="149.50" x2="410.20" y2="149.50" stroke="#111" stroke-width="1.6"/>
<line x1="348.80" y1="149.50" x2="352.40" y2="149.50" stroke="#111" stroke-width="1.25"/>
<line x1="349.60" y1="144.50" x2="352.40" y2="144.50" stroke="#111" stroke-width="1.25"/>
<line x1="349.60" y1="142.50" x2="352.40" y2="142.50" stroke="#111" stroke-width="1.25"/>
<line x1="349.60" y1="140.50" x2="352.40" y2="140.50" stroke="#111" stroke-width="1.25"/>
<line x1="349.60" y1="138.50" x2="352.40" y2="138.50" stroke="#111" stroke-width="1.25"/>
<line x1="349.60" y1="137.50" x2="352.40" y2="137.50" stroke="#111" stroke-width="1.25"/>
<line x1="349.60" y1="136.50" x2="352.40" y2="136.50" stroke="#111" stroke-width="1.25"/>
<line x1="349.60" y1="135.50" x2="352.40" y2="135.50" stroke="#111" stroke-width="1.25"/>
<line x1="349.60" y1="135.50" x2="352.40" y2="135.50" stroke="#111" stroke-width="1.25"/>
<line x1="348.80" y1="134.50" x2="352.40" y2="134.50" stroke="#111" stroke-width="1.25"/>
<line x1="349.60" y1="130.50" x2="352.40" y2="130.50" stroke="#111" stroke-width="1.25"/>
<line x1="349.60" y1="127.50" x2="352.40" y2="127.50" stroke="#111" stroke-width="1.25"/>
<line x1="349.60" y1="125.50" x2="352.40" y2="125.50" stroke="#111" stroke-width="1.25"/>
<line x1="349.60" y1="124.50" x2="352.40" y2="124.50" stroke="#111" stroke-width="1.25"/>
<line x1="349.60" y1="122.50" x2="352.40" y2="122.50" stroke="#111" stroke-width="1.25"/>
<line x1="349.60" y1="121.50" x2="352.40" y2="121.50" stroke="#111" stroke-width="1.25"/>
<line x1="349.60" y1="121.50" x2="352.40" y2="121.50" stroke="#111" stroke-width="1.25"/>
<line x1="349.60" y1="120.50" x2="352.40" y2="120.50" stroke="#111" stroke-width="1.25"/>
<line x1="348.80" y1="119.50" x2="352.40" y2="119.50" stroke="#111" stroke-width="1.25"/>
<line x1="349.60" y1="115.50" x2="352.40" y2="115.50" stroke="#111" stroke-width="1.25"/>
<line x1="349.60" y1="112.50" x2="352.40" y2="112.50" stroke="#111" stroke-width="1.25"/>
<line x1="349.60" y1="110.50" x2="352.40" y2="110.50" stroke="#111" stroke-width="1.25"/>
<line x1="349.60" y1="109.50" x2="352.40" y2="109.50" stroke="#111" stroke-width="1.25"/>
<line x1="349.60" y1="108.50" x2="352.40" y2="108.50" stroke="#111" stroke-width="1.25"/>
<line x1="349.60" y1="107.50" x2="352.40" y2="107.50" stroke="#111" stroke-width="1.25"/>
<line x1="349.60" y1="106.50" x2="352.40" y2="106.50" stroke="#111" stroke-width="1.25"/>
<line x1="349.60" y1="105.50" x2="352.40" y2="105.50" stroke="#111" stroke-width="1.25"/>
<line x1="348.80" y1="104.50" x2="352.40" y2="104.50" stroke="#111" stroke-width="1.25"/>
<line x1="349.60" y1="100.50" x2="352.40" y2="100.50" stroke="#111" stroke-width="1.25"/>
<line x1="349.60" y1="97.50" x2="352.40" y2="97.50" stroke="#111" stroke-width="1.25"/>
<line x1="349.60" y1="95.50" x2="352.40" y2="95.50" stroke="#111" stroke-width="1.25"/>
<line x1="349.60" y1="94.50" x2="352.40" y2="94.50" stroke="#111" stroke-width="1.25"/>
<line x1="349.60" y1="93.50" x2="352.40" y2="93.50" stroke="#111" stroke-width="1.25"/>
<line x1="349.60" y1="92.50" x2="352.40" y2="92.50" stroke="#111" stroke-width="1.25"/>
<line x1="349.60" y1="91.50" x2="352.40" y2="91.50" stroke="#111" stroke-width="1.25"/>
<line x1="352.50" y1="149.30" x2="352.50" y2="153.30" stroke="#111" stroke-width="1.25"/>
<line x1="356.50" y1="149.30" x2="356.50" y2="152.30" stroke="#111" stroke-width="1.25"/>
<line x1="359.50" y1="149.30" x2="359.50" y2="152.30" stroke="#111" stroke-width="1.25"/>
<line x1="361.50" y1="149.30" x2="361.50" y2="152.30" stroke="#111" stroke-width="1.25"/>
<line x1="362.50" y1="149.30" x2="362.50" y2="152.30" stroke="#111" stroke-width="1.25"/>
<line x1="363.50" y1="149.30" x2="363.50" y2="152.30" stroke="#111" stroke-width="1.25"/>
<line x1="364.50" y1="149.30" x2="364.50" y2="152.30" stroke="#111" stroke-width="1.25"/>
<line x1="365.50" y1="149.30" x2="365.50" y2="152.30" stroke="#111" stroke-width="1.25"/>
<line x1="366.50" y1="149.30" x2="366.50" y2="152.30" stroke="#111" stroke-width="1.25"/>
<line x1="366.50" y1="149.30" x2="366.50" y2="153.30" stroke="#111" stroke-width="1.25"/>
<line x1="371.50" y1="149.30" x2="371.50" y2="152.30" stroke="#111" stroke-width="1.25"/>
<line x1="373.50" y1="149.30" x2="373.50" y2="152.30" stroke="#111" stroke-width="1.25"/>
<line x1="375.50" y1="149.30" x2="375.50" y2="152.30" stroke="#111" stroke-width="1.25"/>
<line x1="376.50" y1="149.30" x2="376.50" y2="152.30" stroke="#111" stroke-width="1.25"/>
<line x1="377.50" y1="149.30" x2="377.50" y2="152.30" stroke="#111" stroke-width="1.25"/>
<line x1="378.50" y1="149.30" x2="378.50" y2="152.30" stroke="#111" stroke-width="1.25"/>
<line x1="379.50" y1="149.30" x2="379.50" y2="152.30" stroke="#111" stroke-width="1.25"/>
<line x1="380.50" y1="149.30" x2="380.50" y2="152.30" stroke="#111" stroke-width="1.25"/>
<line x1="381.50" y1="149.30" x2="381.50" y2="153.30" stroke="#111" stroke-width="1.25"/>
<line x1="385.50" y1="149.30" x2="385.50" y2="152.30" stroke="#111" stroke-width="1.25"/>
<line x1="387.50" y1="149.30" x2="387.50" y2="152.30" stroke="#111" stroke-width="1.25"/>
<line x1="389.50" y1="149.30" x2="389.50" y2="152.30" stroke="#111" stroke-width="1.25"/>
<line x1="391.50" y1="149.30" x2="391.50" y2="152.30" stroke="#111" stroke-width="1.25"/>
<line x1="392.50" y1="149.30" x2="392.50" y2="152.30" stroke="#111" stroke-width="1.25"/>
<line x1="393.50" y1="149.30" x2="393.50" y2="152.30" stroke="#111" stroke-width="1.25"/>
<line x1="393.50" y1="149.30" x2="393.50" y2="152.30" stroke="#111" stroke-width="1.25"/>
<line x1="394.50" y1="149.30" x2="394.50" y2="152.30" stroke="#111" stroke-width="1.25"/>
<line x1="395.50" y1="149.30" x2="395.50" y2="153.30" stroke="#111" stroke-width="1.25"/>
<line x1="399.50" y1="149.30" x2="399.50" y2="152.30" stroke="#111" stroke-width="1.25"/>
<line x1="402.50" y1="149.30" x2="402.50" y2="152.30" stroke="#111" stroke-width="1.25"/>
<line x1="403.50" y1="149.30" x2="403.50" y2="152.30" stroke="#111" stroke-width="1.25"/>
<line x1="405.50" y1="149.30" x2="405.50" y2="152.30" stroke="#111" stroke-width="1.25"/>
<line x1="406.50" y1="149.30" x2="406.50" y2="152.30" stroke="#111" stroke-width="1.25"/>
<line x1="407.50" y1="149.30" x2="407.50" y2="152.30" stroke="#111" stroke-width="1.25"/>
<line x1="408.50" y1="149.30" x2="408.50" y2="152.30" stroke="#111" stroke-width="1.25"/>
<line x1="375.50" y1="90.00" x2="375.50" y2="149.30" stroke="#111" stroke-width="1.2"/>
<line x1="352.40" y1="124.50" x2="409.70" y2="124.50" stroke="#111" stroke-width="1.2"/>
<text x="353.90" y="101.00" font-size="9.2" font-weight="normal" text-anchor="start" fill="#111" stroke="#111" stroke-width="0.18">73</text>
<text x="407.60" y="101.00" font-size="9.2" font-weight="normal" text-anchor="end" fill="#111" stroke="#111" stroke-width="0.18">3</text>
<text x="407.60" y="147.50" font-size="9.2" font-weight="normal" text-anchor="end" fill="#111" stroke="#111" stroke-width="0.18">7</text>
<text x="351.20" y="87.70" font-size="10" font-weight="bold" text-anchor="start" letter-spacing="0.4" fill="#111" stroke="#111" stroke-width="0.18">viii</text>
<path d="M473 19h1M476 24h1M459 25h1m2 0h1m1 0h1m3 0h4m1 0h1m4 0h1M461 26h4m1 0h4m1 0h3M459 27h9m1 0h1m4 0h1m1 0h1M460 28h1m2 0h1m2 0h6m1 0h1M459 29h3m2 0h4m1 0h6m1 0h1m11 0h1M459 30h3m1 0h12m1 0h1m5 0h1M459 31h1m1 0h3m1 0h4m1 0h2m2 0h3M463 32h3m1 0h1m1 0h1m1 0h2m1 0h1m2 0h1m1 0h1m5 0h1m5 0h1M461 33h2m1 0h14m7 0h1m3 0h1m3 0h1M460 34h1m5 0h1m1 0h2m1 0h3m1 0h1m8 0h1M462 35h1m1 0h5m1 0h3m1 0h2m3 0h2m1 0h2m6 0h1M459 36h1m3 0h2m1 0h12m1 0h2M465 37h4m1 0h3m2 0h3m1 0h4m2 0h1M462 38h1m3 0h3m1 0h11m1 0h1m5 0h1M467 39h6m1 0h1m2 0h2m1 0h2m1 0h1M465 40h1m2 0h1m2 0h2m1 0h5m1 0h2m1 0h1m3 0h1M464 41h1m3 0h1m2 0h5m1 0h3m2 0h1m3 0h1M465 42h1m1 0h1m2 0h1m1 0h2m1 0h5m1 0h2m7 0h1m2 0h1m1 0h1M467 43h1m1 0h1m1 0h10m3 0h1M462 44h1m6 0h1m2 0h3m1 0h3m3 0h4m1 0h1m2 0h1m1 0h1M465 45h1m5 0h6m1 0h1m1 0h2m1 0h1m3 0h1m1 0h1M472 46h1m3 0h2m6 0h1m1 0h1m5 0h1M470 47h1m2 0h1m2 0h6m2 0h7M469 48h1m4 0h2m1 0h1m1 0h1m5 0h4M471 49h2m3 0h1m3 0h1m6 0h2m2 0h1m1 0h1M460 50h1m9 0h1m3 0h3m3 0h1m4 0h1m1 0h1m1 0h2m1 0h1M466 51h2m2 0h1m4 0h1m3 0h2m1 0h1m1 0h1m1 0h3m1 0h1m1 0h1m4 0h1M461 52h1m5 0h6m2 0h1m1 0h1m3 0h2m1 0h1m1 0h1m1 0h5m2 0h1M459 53h1m2 0h1m3 0h3m1 0h2m1 0h1m1 0h1m2 0h2m1 0h10m1 0h2M464 54h3m1 0h4m1 0h6m1 0h2m1 0h7m1 0h1m4 0h1M461 55h5m1 0h7m1 0h1m1 0h1m3 0h5m1 0h9M459 56h1m3 0h3m1 0h12m1 0h13m1 0h1M461 57h4m1 0h2m1 0h8m1 0h14m1 0h3M461 58h19m1 0h12m1 0h3M459 59h36M459 60h15m1 0h2m1 0h1m1 0h15m1 0h2M461 61h1m1 0h32M462 62h5m1 0h9m1 0h2m1 0h15M461 63h18m2 0h12m1 0h1m1 0h1M459 64h2m1 0h17m1 0h12m1 0h2M461 65h2m2 0h1m2 0h10m1 0h2m1 0h8m1 0h3M463 66h2m1 0h2m1 0h3m1 0h3m1 0h15m1 0h1M462 67h1m4 0h10m4 0h1m2 0h9m4 0h1M462 68h1m1 0h2m2 0h1m2 0h2m1 0h2m1 0h2m2 0h2m1 0h4M459 69h1m3 0h1m2 0h1m2 0h1m1 0h2m2 0h1m2 0h2m2 0h1m1 0h1m1 0h3m2 0h1m1 0h1m1 0h1M466 70h1m1 0h1m3 0h2m18 0h1" stroke="#000" stroke-opacity="0.9" stroke-width="1" transform="translate(0 0.5)" filter="url(#bl)"/>
<line x1="458.50" y1="13.50" x2="517.60" y2="13.50" stroke="#111" stroke-width="1.3"/>
<line x1="517.50" y1="13.00" x2="517.50" y2="72.00" stroke="#111" stroke-width="1.3"/>
<line x1="458.50" y1="12.50" x2="458.50" y2="72.80" stroke="#111" stroke-width="1.6"/>
<line x1="457.70" y1="72.50" x2="518.10" y2="72.50" stroke="#111" stroke-width="1.6"/>
<line x1="454.90" y1="72.50" x2="458.50" y2="72.50" stroke="#111" stroke-width="1.25"/>
<line x1="455.70" y1="67.50" x2="458.50" y2="67.50" stroke="#111" stroke-width="1.25"/>
<line x1="455.70" y1="64.50" x2="458.50" y2="64.50" stroke="#111" stroke-width="1.25"/>
<line x1="455.70" y1="63.50" x2="458.50" y2="63.50" stroke="#111" stroke-width="1.25"/>
<line x1="455.70" y1="61.50" x2="458.50" y2="61.50" stroke="#111" stroke-width="1.25"/>
<line x1="455.70" y1="60.50" x2="458.50" y2="60.50" stroke="#111" stroke-width="1.25"/>
<line x1="455.70" y1="59.50" x2="458.50" y2="59.50" stroke="#111" stroke-width="1.25"/>
<line x1="455.70" y1="58.50" x2="458.50" y2="58.50" stroke="#111" stroke-width="1.25"/>
<line x1="455.70" y1="57.50" x2="458.50" y2="57.50" stroke="#111" stroke-width="1.25"/>
<line x1="454.90" y1="57.50" x2="458.50" y2="57.50" stroke="#111" stroke-width="1.25"/>
<line x1="455.70" y1="52.50" x2="458.50" y2="52.50" stroke="#111" stroke-width="1.25"/>
<line x1="455.70" y1="50.50" x2="458.50" y2="50.50" stroke="#111" stroke-width="1.25"/>
<line x1="455.70" y1="48.50" x2="458.50" y2="48.50" stroke="#111" stroke-width="1.25"/>
<line x1="455.70" y1="46.50" x2="458.50" y2="46.50" stroke="#111" stroke-width="1.25"/>
<line x1="455.70" y1="45.50" x2="458.50" y2="45.50" stroke="#111" stroke-width="1.25"/>
<line x1="455.70" y1="44.50" x2="458.50" y2="44.50" stroke="#111" stroke-width="1.25"/>
<line x1="455.70" y1="43.50" x2="458.50" y2="43.50" stroke="#111" stroke-width="1.25"/>
<line x1="455.70" y1="43.50" x2="458.50" y2="43.50" stroke="#111" stroke-width="1.25"/>
<line x1="454.90" y1="42.50" x2="458.50" y2="42.50" stroke="#111" stroke-width="1.25"/>
<line x1="455.70" y1="38.50" x2="458.50" y2="38.50" stroke="#111" stroke-width="1.25"/>
<line x1="455.70" y1="35.50" x2="458.50" y2="35.50" stroke="#111" stroke-width="1.25"/>
<line x1="455.70" y1="33.50" x2="458.50" y2="33.50" stroke="#111" stroke-width="1.25"/>
<line x1="455.70" y1="32.50" x2="458.50" y2="32.50" stroke="#111" stroke-width="1.25"/>
<line x1="455.70" y1="31.50" x2="458.50" y2="31.50" stroke="#111" stroke-width="1.25"/>
<line x1="455.70" y1="30.50" x2="458.50" y2="30.50" stroke="#111" stroke-width="1.25"/>
<line x1="455.70" y1="29.50" x2="458.50" y2="29.50" stroke="#111" stroke-width="1.25"/>
<line x1="455.70" y1="28.50" x2="458.50" y2="28.50" stroke="#111" stroke-width="1.25"/>
<line x1="454.90" y1="27.50" x2="458.50" y2="27.50" stroke="#111" stroke-width="1.25"/>
<line x1="455.70" y1="23.50" x2="458.50" y2="23.50" stroke="#111" stroke-width="1.25"/>
<line x1="455.70" y1="20.50" x2="458.50" y2="20.50" stroke="#111" stroke-width="1.25"/>
<line x1="455.70" y1="18.50" x2="458.50" y2="18.50" stroke="#111" stroke-width="1.25"/>
<line x1="455.70" y1="17.50" x2="458.50" y2="17.50" stroke="#111" stroke-width="1.25"/>
<line x1="455.70" y1="16.50" x2="458.50" y2="16.50" stroke="#111" stroke-width="1.25"/>
<line x1="455.70" y1="15.50" x2="458.50" y2="15.50" stroke="#111" stroke-width="1.25"/>
<line x1="455.70" y1="14.50" x2="458.50" y2="14.50" stroke="#111" stroke-width="1.25"/>
<line x1="458.50" y1="72.00" x2="458.50" y2="76.00" stroke="#111" stroke-width="1.25"/>
<line x1="462.50" y1="72.00" x2="462.50" y2="75.00" stroke="#111" stroke-width="1.25"/>
<line x1="465.50" y1="72.00" x2="465.50" y2="75.00" stroke="#111" stroke-width="1.25"/>
<line x1="467.50" y1="72.00" x2="467.50" y2="75.00" stroke="#111" stroke-width="1.25"/>
<line x1="468.50" y1="72.00" x2="468.50" y2="75.00" stroke="#111" stroke-width="1.25"/>
<line x1="469.50" y1="72.00" x2="469.50" y2="75.00" stroke="#111" stroke-width="1.25"/>
<line x1="470.50" y1="72.00" x2="470.50" y2="75.00" stroke="#111" stroke-width="1.25"/>
<line x1="471.50" y1="72.00" x2="471.50" y2="75.00" stroke="#111" stroke-width="1.25"/>
<line x1="472.50" y1="72.00" x2="472.50" y2="75.00" stroke="#111" stroke-width="1.25"/>
<line x1="473.50" y1="72.00" x2="473.50" y2="76.00" stroke="#111" stroke-width="1.25"/>
<line x1="477.50" y1="72.00" x2="477.50" y2="75.00" stroke="#111" stroke-width="1.25"/>
<line x1="480.50" y1="72.00" x2="480.50" y2="75.00" stroke="#111" stroke-width="1.25"/>
<line x1="482.50" y1="72.00" x2="482.50" y2="75.00" stroke="#111" stroke-width="1.25"/>
<line x1="483.50" y1="72.00" x2="483.50" y2="75.00" stroke="#111" stroke-width="1.25"/>
<line x1="484.50" y1="72.00" x2="484.50" y2="75.00" stroke="#111" stroke-width="1.25"/>
<line x1="485.50" y1="72.00" x2="485.50" y2="75.00" stroke="#111" stroke-width="1.25"/>
<line x1="486.50" y1="72.00" x2="486.50" y2="75.00" stroke="#111" stroke-width="1.25"/>
<line x1="487.50" y1="72.00" x2="487.50" y2="75.00" stroke="#111" stroke-width="1.25"/>
<line x1="488.50" y1="72.00" x2="488.50" y2="76.00" stroke="#111" stroke-width="1.25"/>
<line x1="492.50" y1="72.00" x2="492.50" y2="75.00" stroke="#111" stroke-width="1.25"/>
<line x1="495.50" y1="72.00" x2="495.50" y2="75.00" stroke="#111" stroke-width="1.25"/>
<line x1="496.50" y1="72.00" x2="496.50" y2="75.00" stroke="#111" stroke-width="1.25"/>
<line x1="498.50" y1="72.00" x2="498.50" y2="75.00" stroke="#111" stroke-width="1.25"/>
<line x1="499.50" y1="72.00" x2="499.50" y2="75.00" stroke="#111" stroke-width="1.25"/>
<line x1="500.50" y1="72.00" x2="500.50" y2="75.00" stroke="#111" stroke-width="1.25"/>
<line x1="501.50" y1="72.00" x2="501.50" y2="75.00" stroke="#111" stroke-width="1.25"/>
<line x1="502.50" y1="72.00" x2="502.50" y2="75.00" stroke="#111" stroke-width="1.25"/>
<line x1="502.50" y1="72.00" x2="502.50" y2="76.00" stroke="#111" stroke-width="1.25"/>
<line x1="507.50" y1="72.00" x2="507.50" y2="75.00" stroke="#111" stroke-width="1.25"/>
<line x1="509.50" y1="72.00" x2="509.50" y2="75.00" stroke="#111" stroke-width="1.25"/>
<line x1="511.50" y1="72.00" x2="511.50" y2="75.00" stroke="#111" stroke-width="1.25"/>
<line x1="513.50" y1="72.00" x2="513.50" y2="75.00" stroke="#111" stroke-width="1.25"/>
<line x1="514.50" y1="72.00" x2="514.50" y2="75.00" stroke="#111" stroke-width="1.25"/>
<line x1="515.50" y1="72.00" x2="515.50" y2="75.00" stroke="#111" stroke-width="1.25"/>
<line x1="516.50" y1="72.00" x2="516.50" y2="75.00" stroke="#111" stroke-width="1.25"/>
<line x1="482.50" y1="13.00" x2="482.50" y2="72.00" stroke="#111" stroke-width="1.2"/>
<line x1="458.50" y1="50.50" x2="517.60" y2="50.50" stroke="#111" stroke-width="1.2"/>
<text x="460.40" y="24.10" font-size="9.2" font-weight="normal" text-anchor="start" fill="#111" stroke="#111" stroke-width="0.18">24</text>
<text x="516.20" y="71.00" font-size="9.2" font-weight="normal" text-anchor="end" fill="#111" stroke="#111" stroke-width="0.18">35</text>
<text x="458.30" y="9.20" font-size="10" font-weight="bold" text-anchor="start" letter-spacing="0.4" fill="#111" stroke="#111" stroke-width="0.18">ix</text>
<text x="479.30" y="9.40" font-size="9.4" font-weight="normal" text-anchor="start" fill="#111" stroke="#111" stroke-width="0.18">BM</text>
<path d="M475 98h1M473 99h1m1 0h1M472 100h1m2 0h2m7 0h1m13 0h1M473 101h1m1 0h3m2 0h1m2 0h1M460 102h4m1 0h1m1 0h9m2 0h3m3 0h1m7 0h1M459 103h2m1 0h1m1 0h2m1 0h14m3 0h1M460 104h20m1 0h1m1 0h1m3 0h1M460 105h18m2 0h2m2 0h1m3 0h1M459 106h24m1 0h1m6 0h1M459 107h22m6 0h1m9 0h1M459 108h22m1 0h2m2 0h1m1 0h1M459 109h18m1 0h1m2 0h1m2 0h1m7 0h1M459 110h2m1 0h15m1 0h3m1 0h1m1 0h1m1 0h1m1 0h1M461 111h2m1 0h12m3 0h1m1 0h1m2 0h2m1 0h1M459 112h2m1 0h2m2 0h7m1 0h4m2 0h1m4 0h1m4 0h1M461 113h5m2 0h1m1 0h1m1 0h4m2 0h2m2 0h1M460 114h2m1 0h1m1 0h1m2 0h1m3 0h8M470 115h11m6 0h1M459 116h1m8 0h1m2 0h1m2 0h3m1 0h4M461 117h1m5 0h1m3 0h1m1 0h1m1 0h4M460 118h1m8 0h1m1 0h11M466 119h1m5 0h1m1 0h1m2 0h5m3 0h1m5 0h1M465 120h1m6 0h1m1 0h6m1 0h2M460 121h1m2 0h2m9 0h1m1 0h10m2 0h1M471 122h1m2 0h5m1 0h4m4 0h1m2 0h1M473 123h1m1 0h7M467 124h1m2 0h1m3 0h3m1 0h3m1 0h2m7 0h1M460 125h1m2 0h1m7 0h1m3 0h8m9 0h1M462 126h1m1 0h1m8 0h1m2 0h1m1 0h4m2 0h1m7 0h1M467 127h1m2 0h2m1 0h4m1 0h6m1 0h1M459 128h1m8 0h1m5 0h1m2 0h6m1 0h1m2 0h1m2 0h1M461 129h3m2 0h1m2 0h1m2 0h1m4 0h2m1 0h2m5 0h1m2 0h1M461 130h1m5 0h3m1 0h1m1 0h1m4 0h1m2 0h2m3 0h1m1 0h1m2 0h2M461 131h2m2 0h1m3 0h3m1 0h3m1 0h1m2 0h2m1 0h3m6 0h1M466 132h2m1 0h1m2 0h2m1 0h1m1 0h2m4 0h2m2 0h1m1 0h2m1 0h1m5 0h1M460 133h1m1 0h1m2 0h5m1 0h1m1 0h2m11 0h2m2 0h2m2 0h1M463 134h1m2 0h2m1 0h1m1 0h2m3 0h1m5 0h1m1 0h3m3 0h1m1 0h1m1 0h1M461 135h1m2 0h4m1 0h1m1 0h1m1 0h1m1 0h2m9 0h5m2 0h1M462 136h5m1 0h5m4 0h1m1 0h1m3 0h1m1 0h2m1 0h4m3 0h1M460 137h1m4 0h2m2 0h6m1 0h1m1 0h1m2 0h1m2 0h6m1 0h1m3 0h1m8 0h1M460 138h9m1 0h1m2 0h1m3 0h1m1 0h1m4 0h7m2 0h1m1 0h1M464 139h12m1 0h1m2 0h1m1 0h1m1 0h1m1 0h5m1 0h5M460 140h1m1 0h7m1 0h8m3 0h1m2 0h4m1 0h1m1 0h4M459 141h1m1 0h1m1 0h4m1 0h10m2 0h1m2 0h12M461 142h1m1 0h1m1 0h7m1 0h4m5 0h1m2 0h6M465 143h6m1 0h3m2 0h1m2 0h1m4 0h1m1 0h3m1 0h2m3 0h1m1 0h1M459 144h1m5 0h5m1 0h1m1 0h3m8 0h1m3 0h2m1 0h1M466 145h1m1 0h3m2 0h2m5 0h1m4 0h1m2 0h2m1 0h1m8 0h1M464 146h1m6 0h2m1 0h1m4 0h1m6 0h1m1 0h2M462 147h1m3 0h1m1 0h1m11 0h1m13 0h1" stroke="#000" stroke-opacity="0.9" stroke-width="1" transform="translate(0 0.5)" filter="url(#bl)"/>
<line x1="458.80" y1="90.50" x2="516.00" y2="90.50" stroke="#111" stroke-width="1.3"/>
<line x1="516.50" y1="90.00" x2="516.50" y2="149.30" stroke="#111" stroke-width="1.3"/>
<line x1="458.50" y1="89.50" x2="458.50" y2="150.10" stroke="#111" stroke-width="1.6"/>
<line x1="458.00" y1="149.50" x2="516.50" y2="149.50" stroke="#111" stroke-width="1.6"/>
<line x1="455.20" y1="149.50" x2="458.80" y2="149.50" stroke="#111" stroke-width="1.25"/>
<line x1="456.00" y1="144.50" x2="458.80" y2="144.50" stroke="#111" stroke-width="1.25"/>
<line x1="456.00" y1="142.50" x2="458.80" y2="142.50" stroke="#111" stroke-width="1.25"/>
<line x1="456.00" y1="140.50" x2="458.80" y2="140.50" stroke="#111" stroke-width="1.25"/>
<line x1="456.00" y1="138.50" x2="458.80" y2="138.50" stroke="#111" stroke-width="1.25"/>
<line x1="456.00" y1="137.50" x2="458.80" y2="137.50" stroke="#111" stroke-width="1.25"/>
<line x1="456.00" y1="136.50" x2="458.80" y2="136.50" stroke="#111" stroke-width="1.25"/>
<line x1="456.00" y1="135.50" x2="458.80" y2="135.50" stroke="#111" stroke-width="1.25"/>
<line x1="456.00" y1="135.50" x2="458.80" y2="135.50" stroke="#111" stroke-width="1.25"/>
<line x1="455.20" y1="134.50" x2="458.80" y2="134.50" stroke="#111" stroke-width="1.25"/>
<line x1="456.00" y1="130.50" x2="458.80" y2="130.50" stroke="#111" stroke-width="1.25"/>
<line x1="456.00" y1="127.50" x2="458.80" y2="127.50" stroke="#111" stroke-width="1.25"/>
<line x1="456.00" y1="125.50" x2="458.80" y2="125.50" stroke="#111" stroke-width="1.25"/>
<line x1="456.00" y1="124.50" x2="458.80" y2="124.50" stroke="#111" stroke-width="1.25"/>
<line x1="456.00" y1="122.50" x2="458.80" y2="122.50" stroke="#111" stroke-width="1.25"/>
<line x1="456.00" y1="121.50" x2="458.80" y2="121.50" stroke="#111" stroke-width="1.25"/>
<line x1="456.00" y1="121.50" x2="458.80" y2="121.50" stroke="#111" stroke-width="1.25"/>
<line x1="456.00" y1="120.50" x2="458.80" y2="120.50" stroke="#111" stroke-width="1.25"/>
<line x1="455.20" y1="119.50" x2="458.80" y2="119.50" stroke="#111" stroke-width="1.25"/>
<line x1="456.00" y1="115.50" x2="458.80" y2="115.50" stroke="#111" stroke-width="1.25"/>
<line x1="456.00" y1="112.50" x2="458.80" y2="112.50" stroke="#111" stroke-width="1.25"/>
<line x1="456.00" y1="110.50" x2="458.80" y2="110.50" stroke="#111" stroke-width="1.25"/>
<line x1="456.00" y1="109.50" x2="458.80" y2="109.50" stroke="#111" stroke-width="1.25"/>
<line x1="456.00" y1="108.50" x2="458.80" y2="108.50" stroke="#111" stroke-width="1.25"/>
<line x1="456.00" y1="107.50" x2="458.80" y2="107.50" stroke="#111" stroke-width="1.25"/>
<line x1="456.00" y1="106.50" x2="458.80" y2="106.50" stroke="#111" stroke-width="1.25"/>
<line x1="456.00" y1="105.50" x2="458.80" y2="105.50" stroke="#111" stroke-width="1.25"/>
<line x1="455.20" y1="104.50" x2="458.80" y2="104.50" stroke="#111" stroke-width="1.25"/>
<line x1="456.00" y1="100.50" x2="458.80" y2="100.50" stroke="#111" stroke-width="1.25"/>
<line x1="456.00" y1="97.50" x2="458.80" y2="97.50" stroke="#111" stroke-width="1.25"/>
<line x1="456.00" y1="95.50" x2="458.80" y2="95.50" stroke="#111" stroke-width="1.25"/>
<line x1="456.00" y1="94.50" x2="458.80" y2="94.50" stroke="#111" stroke-width="1.25"/>
<line x1="456.00" y1="93.50" x2="458.80" y2="93.50" stroke="#111" stroke-width="1.25"/>
<line x1="456.00" y1="92.50" x2="458.80" y2="92.50" stroke="#111" stroke-width="1.25"/>
<line x1="456.00" y1="91.50" x2="458.80" y2="91.50" stroke="#111" stroke-width="1.25"/>
<line x1="458.50" y1="149.30" x2="458.50" y2="153.30" stroke="#111" stroke-width="1.25"/>
<line x1="463.50" y1="149.30" x2="463.50" y2="152.30" stroke="#111" stroke-width="1.25"/>
<line x1="465.50" y1="149.30" x2="465.50" y2="152.30" stroke="#111" stroke-width="1.25"/>
<line x1="467.50" y1="149.30" x2="467.50" y2="152.30" stroke="#111" stroke-width="1.25"/>
<line x1="468.50" y1="149.30" x2="468.50" y2="152.30" stroke="#111" stroke-width="1.25"/>
<line x1="469.50" y1="149.30" x2="469.50" y2="152.30" stroke="#111" stroke-width="1.25"/>
<line x1="470.50" y1="149.30" x2="470.50" y2="152.30" stroke="#111" stroke-width="1.25"/>
<line x1="471.50" y1="149.30" x2="471.50" y2="152.30" stroke="#111" stroke-width="1.25"/>
<line x1="472.50" y1="149.30" x2="472.50" y2="152.30" stroke="#111" stroke-width="1.25"/>
<line x1="473.50" y1="149.30" x2="473.50" y2="153.30" stroke="#111" stroke-width="1.25"/>
<line x1="477.50" y1="149.30" x2="477.50" y2="152.30" stroke="#111" stroke-width="1.25"/>
<line x1="479.50" y1="149.30" x2="479.50" y2="152.30" stroke="#111" stroke-width="1.25"/>
<line x1="481.50" y1="149.30" x2="481.50" y2="152.30" stroke="#111" stroke-width="1.25"/>
<line x1="483.50" y1="149.30" x2="483.50" y2="152.30" stroke="#111" stroke-width="1.25"/>
<line x1="484.50" y1="149.30" x2="484.50" y2="152.30" stroke="#111" stroke-width="1.25"/>
<line x1="485.50" y1="149.30" x2="485.50" y2="152.30" stroke="#111" stroke-width="1.25"/>
<line x1="486.50" y1="149.30" x2="486.50" y2="152.30" stroke="#111" stroke-width="1.25"/>
<line x1="486.50" y1="149.30" x2="486.50" y2="152.30" stroke="#111" stroke-width="1.25"/>
<line x1="487.50" y1="149.30" x2="487.50" y2="153.30" stroke="#111" stroke-width="1.25"/>
<line x1="491.50" y1="149.30" x2="491.50" y2="152.30" stroke="#111" stroke-width="1.25"/>
<line x1="494.50" y1="149.30" x2="494.50" y2="152.30" stroke="#111" stroke-width="1.25"/>
<line x1="496.50" y1="149.30" x2="496.50" y2="152.30" stroke="#111" stroke-width="1.25"/>
<line x1="497.50" y1="149.30" x2="497.50" y2="152.30" stroke="#111" stroke-width="1.25"/>
<line x1="498.50" y1="149.30" x2="498.50" y2="152.30" stroke="#111" stroke-width="1.25"/>
<line x1="499.50" y1="149.30" x2="499.50" y2="152.30" stroke="#111" stroke-width="1.25"/>
<line x1="500.50" y1="149.30" x2="500.50" y2="152.30" stroke="#111" stroke-width="1.25"/>
<line x1="501.50" y1="149.30" x2="501.50" y2="152.30" stroke="#111" stroke-width="1.25"/>
<line x1="501.50" y1="149.30" x2="501.50" y2="153.30" stroke="#111" stroke-width="1.25"/>
<line x1="506.50" y1="149.30" x2="506.50" y2="152.30" stroke="#111" stroke-width="1.25"/>
<line x1="508.50" y1="149.30" x2="508.50" y2="152.30" stroke="#111" stroke-width="1.25"/>
<line x1="510.50" y1="149.30" x2="510.50" y2="152.30" stroke="#111" stroke-width="1.25"/>
<line x1="511.50" y1="149.30" x2="511.50" y2="152.30" stroke="#111" stroke-width="1.25"/>
<line x1="512.50" y1="149.30" x2="512.50" y2="152.30" stroke="#111" stroke-width="1.25"/>
<line x1="513.50" y1="149.30" x2="513.50" y2="152.30" stroke="#111" stroke-width="1.25"/>
<line x1="514.50" y1="149.30" x2="514.50" y2="152.30" stroke="#111" stroke-width="1.25"/>
<line x1="482.50" y1="90.00" x2="482.50" y2="149.30" stroke="#111" stroke-width="1.2"/>
<line x1="458.80" y1="128.50" x2="516.00" y2="128.50" stroke="#111" stroke-width="1.2"/>
<text x="460.60" y="101.30" font-size="9.2" font-weight="normal" text-anchor="start" fill="#111" stroke="#111" stroke-width="0.18">64</text>
<text x="514.90" y="147.50" font-size="9.2" font-weight="normal" text-anchor="end" fill="#111" stroke="#111" stroke-width="0.18">9</text>
<text x="459.70" y="88.00" font-size="10" font-weight="bold" text-anchor="start" letter-spacing="0.4" fill="#111" stroke="#111" stroke-width="0.18">x</text>
<line x1="25.50" y1="188.00" x2="25.50" y2="324.60" stroke="#111" stroke-width="1.5"/>
<polygon points="25.90,176.90 22.10,189.30 29.70,189.30" fill="#111"/>
<line x1="25.20" y1="324.50" x2="84.60" y2="324.50" stroke="#111" stroke-width="1.5"/>
<polygon points="93.60,324.60 82.60,321.60 82.60,327.60" fill="#111"/>
<line x1="129.50" y1="188.00" x2="129.50" y2="324.00" stroke="#111" stroke-width="1.5"/>
<polygon points="129.60,176.90 125.80,189.30 133.40,189.30" fill="#111"/>
<line x1="128.90" y1="324.50" x2="187.00" y2="324.50" stroke="#111" stroke-width="1.5"/>
<polygon points="196.00,324.00 185.00,321.00 185.00,327.00" fill="#111"/>
<line x1="235.50" y1="188.00" x2="235.50" y2="324.30" stroke="#111" stroke-width="1.5"/>
<polygon points="235.50,176.90 231.70,189.30 239.30,189.30" fill="#111"/>
<line x1="234.80" y1="324.50" x2="292.80" y2="324.50" stroke="#111" stroke-width="1.5"/>
<polygon points="301.80,324.30 290.80,321.30 290.80,327.30" fill="#111"/>
<line x1="342.50" y1="188.00" x2="342.50" y2="324.00" stroke="#111" stroke-width="1.5"/>
<polygon points="342.80,176.90 339.00,189.30 346.60,189.30" fill="#111"/>
<line x1="342.10" y1="324.50" x2="399.40" y2="324.50" stroke="#111" stroke-width="1.5"/>
<polygon points="408.40,324.00 397.40,321.00 397.40,327.00" fill="#111"/>
<text x="54.40" y="337.60" font-size="8.9" font-weight="normal" text-anchor="start" fill="#111" stroke="#111" stroke-width="0.18">B220</text>
<text x="158.60" y="333.40" font-size="8.6" font-weight="normal" text-anchor="start" fill="#111" stroke="#111" stroke-width="0.18">CD4</text>
<text x="261.00" y="333.40" font-size="9.0" font-weight="normal" text-anchor="start" fill="#111" stroke="#111" stroke-width="0.18">CD44</text>
<text x="372.20" y="333.60" font-size="9.2" font-weight="normal" text-anchor="start" fill="#111" stroke="#111" stroke-width="0.18">CD3</text>
<text x="8.60" y="205.60" font-size="8.8" font-weight="normal" text-anchor="start" fill="#111" stroke="#111" stroke-width="0.18">CT</text>
<text x="6.00" y="283.20" font-size="8.8" font-weight="normal" text-anchor="start" fill="#111" stroke="#111" stroke-width="0.18">ΔHD</text>
<text x="17.80" y="246.20" font-size="8.8" text-anchor="middle" transform="rotate(-90 17.80 246.20)" dominant-baseline="central" fill="#111" stroke="#111" stroke-width="0.18">Mac-1</text>
<text x="121.20" y="247.00" font-size="8.8" text-anchor="middle" transform="rotate(-90 121.20 247.00)" dominant-baseline="central" fill="#111" stroke="#111" stroke-width="0.18">CD8</text>
<text x="225.40" y="246.50" font-size="8.8" text-anchor="middle" transform="rotate(-90 225.40 246.50)" dominant-baseline="central" fill="#111" stroke="#111" stroke-width="0.18">CD25</text>
<text x="333.60" y="246.50" font-size="8.8" text-anchor="middle" transform="rotate(-90 333.60 246.50)" dominant-baseline="central" fill="#111" stroke="#111" stroke-width="0.18">CD25</text>
<path d="M41 191h2m1 0h2M43 192h1m3 0h2M39 193h1m2 0h2m1 0h1m1 0h3M40 194h1m2 0h6M44 195h1m1 0h2M42 196h1m5 0h2M47 198h4m13 0h1m11 0h1M50 199h3m2 0h1m19 0h1M45 200h1m6 0h1m3 0h1m7 0h1m10 0h1m1 0h1M49 201h2m1 0h1m2 0h1m8 0h1m3 0h2m2 0h1M45 202h1m2 0h1m1 0h3m5 0h1m16 0h1M48 203h1m2 0h1m1 0h1m1 0h2m2 0h4m2 0h1m4 0h1M52 204h3m1 0h1m3 0h1m2 0h1m3 0h1m1 0h1M51 205h1m1 0h2m1 0h1m2 0h3m1 0h2m8 0h1m5 0h1M55 206h1m2 0h3m1 0h1m1 0h2m3 0h1M52 207h1m1 0h2m2 0h3m2 0h2m1 0h1m3 0h1m4 0h1m2 0h1M49 208h1m2 0h1m1 0h2m1 0h3m1 0h5m5 0h1m7 0h1M38 209h1m21 0h1m1 0h1m1 0h2m4 0h1M56 210h1m2 0h1m1 0h3m4 0h1M56 211h1m3 0h1m3 0h1m3 0h1m2 0h1m5 0h2M40 212h1m17 0h1m1 0h3m7 0h1m1 0h1M54 213h1m4 0h1m2 0h7m2 0h2m1 0h2M52 214h1m3 0h1m4 0h2m1 0h3m1 0h3m1 0h5M47 215h2m3 0h1m1 0h1m1 0h1m2 0h1m2 0h2m1 0h4m1 0h5m1 0h1M38 216h1m1 0h2m2 0h3m1 0h1m3 0h1m3 0h1m4 0h12m1 0h3m4 0h1M41 217h1m1 0h2m1 0h2m2 0h2m1 0h2m6 0h16M38 218h1m2 0h2m1 0h1m1 0h8m2 0h1m2 0h1m1 0h12m1 0h4M40 219h4m2 0h6m1 0h3m6 0h4m1 0h11M38 220h1m2 0h2m2 0h7m2 0h2m1 0h1m1 0h1m1 0h16m4 0h1M39 221h1m1 0h3m1 0h13m1 0h1m1 0h5m1 0h9m1 0h1M39 222h9m1 0h5m1 0h1m4 0h6m1 0h9m2 0h1M41 223h3m1 0h8m1 0h1m2 0h2m1 0h1m1 0h13m1 0h1M39 224h17m1 0h20m1 0h1M39 225h3m1 0h2m1 0h8m1 0h2m2 0h3m1 0h2m1 0h6m1 0h4m1 0h1M38 226h10m1 0h5m1 0h2m3 0h17m2 0h1M38 227h1m2 0h1m1 0h11m3 0h1m1 0h1m1 0h6m1 0h11M38 228h1m1 0h1m1 0h10m1 0h3m5 0h2m1 0h1m1 0h11m2 0h1M39 229h2m1 0h1m2 0h10m4 0h1m1 0h12m1 0h3m2 0h1M40 230h1m2 0h1m1 0h7m2 0h3m1 0h1m3 0h1m1 0h13m3 0h1M42 231h1m1 0h9m1 0h2m1 0h1m3 0h14m2 0h1m2 0h1M40 232h2m1 0h7m1 0h3m1 0h3m2 0h3m1 0h4m1 0h7m1 0h1M42 233h1m1 0h5m2 0h4m2 0h2m2 0h11m1 0h4M40 234h8m3 0h1m3 0h3m3 0h2m2 0h1m1 0h6m1 0h2M41 235h2m1 0h1m1 0h2m1 0h1m2 0h2m3 0h1m3 0h16M40 236h1m6 0h1m3 0h1m3 0h1m7 0h1m2 0h1m6 0h3" stroke="#000" stroke-opacity="0.9" stroke-width="1" transform="translate(0 0.5)" filter="url(#bl)"/>
<line x1="36.90" y1="178.50" x2="95.20" y2="178.50" stroke="#111" stroke-width="1.3"/>
<line x1="95.50" y1="178.80" x2="95.50" y2="237.80" stroke="#111" stroke-width="1.3"/>
<line x1="36.50" y1="178.30" x2="36.50" y2="238.60" stroke="#111" stroke-width="1.6"/>
<line x1="36.10" y1="237.50" x2="95.70" y2="237.50" stroke="#111" stroke-width="1.6"/>
<line x1="33.30" y1="237.50" x2="36.90" y2="237.50" stroke="#111" stroke-width="1.25"/>
<line x1="34.10" y1="233.50" x2="36.90" y2="233.50" stroke="#111" stroke-width="1.25"/>
<line x1="34.10" y1="230.50" x2="36.90" y2="230.50" stroke="#111" stroke-width="1.25"/>
<line x1="34.10" y1="228.50" x2="36.90" y2="228.50" stroke="#111" stroke-width="1.25"/>
<line x1="34.10" y1="227.50" x2="36.90" y2="227.50" stroke="#111" stroke-width="1.25"/>
<line x1="34.10" y1="226.50" x2="36.90" y2="226.50" stroke="#111" stroke-width="1.25"/>
<line x1="34.10" y1="225.50" x2="36.90" y2="225.50" stroke="#111" stroke-width="1.25"/>
<line x1="34.10" y1="224.50" x2="36.90" y2="224.50" stroke="#111" stroke-width="1.25"/>
<line x1="34.10" y1="223.50" x2="36.90" y2="223.50" stroke="#111" stroke-width="1.25"/>
<line x1="33.30" y1="223.50" x2="36.90" y2="223.50" stroke="#111" stroke-width="1.25"/>
<line x1="34.10" y1="218.50" x2="36.90" y2="218.50" stroke="#111" stroke-width="1.25"/>
<line x1="34.10" y1="216.50" x2="36.90" y2="216.50" stroke="#111" stroke-width="1.25"/>
<line x1="34.10" y1="214.50" x2="36.90" y2="214.50" stroke="#111" stroke-width="1.25"/>
<line x1="34.10" y1="212.50" x2="36.90" y2="212.50" stroke="#111" stroke-width="1.25"/>
<line x1="34.10" y1="211.50" x2="36.90" y2="211.50" stroke="#111" stroke-width="1.25"/>
<line x1="34.10" y1="210.50" x2="36.90" y2="210.50" stroke="#111" stroke-width="1.25"/>
<line x1="34.10" y1="209.50" x2="36.90" y2="209.50" stroke="#111" stroke-width="1.25"/>
<line x1="34.10" y1="208.50" x2="36.90" y2="208.50" stroke="#111" stroke-width="1.25"/>
<line x1="33.30" y1="208.50" x2="36.90" y2="208.50" stroke="#111" stroke-width="1.25"/>
<line x1="34.10" y1="203.50" x2="36.90" y2="203.50" stroke="#111" stroke-width="1.25"/>
<line x1="34.10" y1="201.50" x2="36.90" y2="201.50" stroke="#111" stroke-width="1.25"/>
<line x1="34.10" y1="199.50" x2="36.90" y2="199.50" stroke="#111" stroke-width="1.25"/>
<line x1="34.10" y1="197.50" x2="36.90" y2="197.50" stroke="#111" stroke-width="1.25"/>
<line x1="34.10" y1="196.50" x2="36.90" y2="196.50" stroke="#111" stroke-width="1.25"/>
<line x1="34.10" y1="195.50" x2="36.90" y2="195.50" stroke="#111" stroke-width="1.25"/>
<line x1="34.10" y1="194.50" x2="36.90" y2="194.50" stroke="#111" stroke-width="1.25"/>
<line x1="34.10" y1="194.50" x2="36.90" y2="194.50" stroke="#111" stroke-width="1.25"/>
<line x1="33.30" y1="193.50" x2="36.90" y2="193.50" stroke="#111" stroke-width="1.25"/>
<line x1="34.10" y1="189.50" x2="36.90" y2="189.50" stroke="#111" stroke-width="1.25"/>
<line x1="34.10" y1="186.50" x2="36.90" y2="186.50" stroke="#111" stroke-width="1.25"/>
<line x1="34.10" y1="184.50" x2="36.90" y2="184.50" stroke="#111" stroke-width="1.25"/>
<line x1="34.10" y1="183.50" x2="36.90" y2="183.50" stroke="#111" stroke-width="1.25"/>
<line x1="34.10" y1="182.50" x2="36.90" y2="182.50" stroke="#111" stroke-width="1.25"/>
<line x1="34.10" y1="181.50" x2="36.90" y2="181.50" stroke="#111" stroke-width="1.25"/>
<line x1="34.10" y1="180.50" x2="36.90" y2="180.50" stroke="#111" stroke-width="1.25"/>
<line x1="36.50" y1="237.80" x2="36.50" y2="241.80" stroke="#111" stroke-width="1.25"/>
<line x1="41.50" y1="237.80" x2="41.50" y2="240.80" stroke="#111" stroke-width="1.25"/>
<line x1="43.50" y1="237.80" x2="43.50" y2="240.80" stroke="#111" stroke-width="1.25"/>
<line x1="45.50" y1="237.80" x2="45.50" y2="240.80" stroke="#111" stroke-width="1.25"/>
<line x1="47.50" y1="237.80" x2="47.50" y2="240.80" stroke="#111" stroke-width="1.25"/>
<line x1="48.50" y1="237.80" x2="48.50" y2="240.80" stroke="#111" stroke-width="1.25"/>
<line x1="49.50" y1="237.80" x2="49.50" y2="240.80" stroke="#111" stroke-width="1.25"/>
<line x1="50.50" y1="237.80" x2="50.50" y2="240.80" stroke="#111" stroke-width="1.25"/>
<line x1="50.50" y1="237.80" x2="50.50" y2="240.80" stroke="#111" stroke-width="1.25"/>
<line x1="51.50" y1="237.80" x2="51.50" y2="241.80" stroke="#111" stroke-width="1.25"/>
<line x1="55.50" y1="237.80" x2="55.50" y2="240.80" stroke="#111" stroke-width="1.25"/>
<line x1="58.50" y1="237.80" x2="58.50" y2="240.80" stroke="#111" stroke-width="1.25"/>
<line x1="60.50" y1="237.80" x2="60.50" y2="240.80" stroke="#111" stroke-width="1.25"/>
<line x1="61.50" y1="237.80" x2="61.50" y2="240.80" stroke="#111" stroke-width="1.25"/>
<line x1="62.50" y1="237.80" x2="62.50" y2="240.80" stroke="#111" stroke-width="1.25"/>
<line x1="63.50" y1="237.80" x2="63.50" y2="240.80" stroke="#111" stroke-width="1.25"/>
<line x1="64.50" y1="237.80" x2="64.50" y2="240.80" stroke="#111" stroke-width="1.25"/>
<line x1="65.50" y1="237.80" x2="65.50" y2="240.80" stroke="#111" stroke-width="1.25"/>
<line x1="66.50" y1="237.80" x2="66.50" y2="241.80" stroke="#111" stroke-width="1.25"/>
<line x1="70.50" y1="237.80" x2="70.50" y2="240.80" stroke="#111" stroke-width="1.25"/>
<line x1="73.50" y1="237.80" x2="73.50" y2="240.80" stroke="#111" stroke-width="1.25"/>
<line x1="74.50" y1="237.80" x2="74.50" y2="240.80" stroke="#111" stroke-width="1.25"/>
<line x1="76.50" y1="237.80" x2="76.50" y2="240.80" stroke="#111" stroke-width="1.25"/>
<line x1="77.50" y1="237.80" x2="77.50" y2="240.80" stroke="#111" stroke-width="1.25"/>
<line x1="78.50" y1="237.80" x2="78.50" y2="240.80" stroke="#111" stroke-width="1.25"/>
<line x1="79.50" y1="237.80" x2="79.50" y2="240.80" stroke="#111" stroke-width="1.25"/>
<line x1="79.50" y1="237.80" x2="79.50" y2="240.80" stroke="#111" stroke-width="1.25"/>
<line x1="80.50" y1="237.80" x2="80.50" y2="241.80" stroke="#111" stroke-width="1.25"/>
<line x1="85.50" y1="237.80" x2="85.50" y2="240.80" stroke="#111" stroke-width="1.25"/>
<line x1="87.50" y1="237.80" x2="87.50" y2="240.80" stroke="#111" stroke-width="1.25"/>
<line x1="89.50" y1="237.80" x2="89.50" y2="240.80" stroke="#111" stroke-width="1.25"/>
<line x1="90.50" y1="237.80" x2="90.50" y2="240.80" stroke="#111" stroke-width="1.25"/>
<line x1="91.50" y1="237.80" x2="91.50" y2="240.80" stroke="#111" stroke-width="1.25"/>
<line x1="92.50" y1="237.80" x2="92.50" y2="240.80" stroke="#111" stroke-width="1.25"/>
<line x1="93.50" y1="237.80" x2="93.50" y2="240.80" stroke="#111" stroke-width="1.25"/>
<line x1="59.50" y1="178.80" x2="59.50" y2="237.80" stroke="#111" stroke-width="1.2"/>
<line x1="36.90" y1="214.50" x2="95.20" y2="214.50" stroke="#111" stroke-width="1.2" stroke-dasharray="3.5 1"/>
<text x="41.50" y="189.50" font-size="9.2" font-weight="normal" text-anchor="start" fill="#111" stroke="#111" stroke-width="0.18">5</text>
<text x="92.70" y="235.40" font-size="9.2" font-weight="normal" text-anchor="end" fill="#111" stroke="#111" stroke-width="0.18">60</text>
<text x="36.80" y="176.40" font-size="10" font-weight="bold" text-anchor="start" letter-spacing="0.4" fill="#111" stroke="#111" stroke-width="0.18">xi</text>
<text x="58.60" y="176.80" font-size="9.4" font-weight="normal" text-anchor="start" fill="#111" stroke="#111" stroke-width="0.18">SP</text>
<path d="M37 266h1M38 267h1m1 0h2M40 268h2m1 0h1m1 0h1m4 0h1M39 269h1m1 0h5m1 0h1M40 270h3m1 0h4m1 0h1M38 271h2m1 0h5m2 0h1m1 0h1M37 272h1m1 0h11m2 0h1M38 273h2m1 0h3m1 0h4m2 0h1m1 0h1M39 274h1m1 0h9m1 0h2M37 275h1m2 0h14m1 0h1M39 276h2m1 0h1m1 0h8m1 0h1m3 0h1m8 0h1M39 277h12m1 0h1m16 0h1m1 0h2M39 278h3m1 0h2m1 0h3m1 0h2m1 0h1m1 0h1m13 0h1M38 279h1m1 0h1m2 0h2m1 0h4m1 0h4m2 0h1m8 0h1m1 0h3M39 280h1m1 0h3m1 0h9m2 0h1m5 0h1m2 0h5M39 281h1m2 0h11m1 0h3m1 0h1m1 0h1m3 0h6m5 0h1M41 282h4m2 0h1m2 0h5m5 0h1m4 0h3M39 283h1m1 0h1m6 0h6m1 0h6m4 0h2m1 0h1m9 0h1M48 284h4m1 0h3m1 0h1m5 0h1m4 0h2m3 0h2M44 285h1m2 0h1m2 0h2m2 0h1m8 0h1m1 0h1m13 0h1M49 286h1m2 0h2m1 0h1m1 0h4m1 0h2m1 0h3m1 0h2m2 0h1m2 0h1M43 287h1m10 0h1m2 0h1m1 0h1m1 0h2m1 0h3m1 0h2m3 0h1m2 0h1M42 288h2m6 0h1m6 0h1m1 0h1m2 0h2m3 0h1m1 0h4m3 0h1m1 0h1M47 289h1m6 0h1m5 0h3m1 0h1m2 0h1m1 0h1m3 0h2m1 0h1M41 290h1m1 0h1m4 0h2m9 0h4m2 0h1m2 0h3m1 0h2m2 0h1M41 291h2m8 0h1m4 0h1m1 0h3m4 0h1m1 0h5m1 0h1m1 0h1m1 0h2M39 292h1m7 0h1m2 0h1m4 0h2m1 0h4m3 0h9m1 0h3M38 293h1m1 0h2m2 0h2m2 0h1m1 0h1m2 0h1m1 0h1m5 0h1m2 0h1m1 0h2m1 0h7m1 0h1m5 0h1M38 294h1m2 0h1m4 0h3m1 0h1m2 0h1m1 0h1m5 0h3m1 0h13M38 295h1m2 0h1m1 0h3m3 0h1m1 0h2m3 0h1m3 0h1m4 0h3m1 0h2m1 0h10M43 296h5m1 0h1m3 0h1m1 0h1m3 0h1m4 0h2m1 0h9m2 0h1M41 297h1m1 0h8m1 0h1m9 0h1m1 0h2m1 0h1m1 0h5m1 0h3m1 0h2m1 0h1M38 298h3m2 0h4m1 0h7m2 0h1m6 0h2m1 0h7m1 0h4M37 299h1m1 0h1m1 0h4m1 0h4m1 0h1m1 0h3m2 0h1m1 0h1m2 0h1m1 0h14M39 300h1m1 0h1m1 0h1m1 0h3m1 0h4m1 0h1m8 0h1m1 0h13m3 0h1M40 301h5m1 0h8m2 0h1m2 0h1m2 0h1m1 0h13M37 302h2m2 0h2m1 0h5m2 0h2m1 0h1m1 0h1m7 0h17M37 303h1m4 0h9m5 0h3m2 0h4m1 0h15M39 304h3m1 0h2m1 0h7m1 0h1m1 0h2m4 0h16m1 0h2M38 305h1m1 0h1m1 0h2m1 0h9m1 0h1m5 0h1m2 0h13m3 0h1M40 306h8m1 0h1m1 0h1m1 0h1m1 0h1m7 0h2m1 0h13M42 307h1m2 0h5m2 0h1m3 0h1m1 0h2m4 0h11m1 0h2M40 308h3m1 0h7m2 0h1m3 0h1m6 0h1m1 0h12m1 0h1M38 309h1m2 0h4m1 0h1m1 0h4m7 0h2m2 0h2m1 0h10m4 0h1M39 310h3m1 0h2m1 0h3m1 0h2m2 0h1m1 0h2m2 0h1m3 0h1m3 0h5m1 0h2m1 0h2M38 311h3m3 0h7m9 0h2m1 0h2m2 0h4m1 0h3m1 0h2M44 312h1m1 0h1m2 0h3m16 0h8M43 313h1m2 0h1m7 0h1m8 0h1m1 0h1m1 0h5m5 0h1" stroke="#000" stroke-opacity="0.9" stroke-width="1" transform="translate(0 0.5)" filter="url(#bl)"/>
<line x1="36.90" y1="256.50" x2="95.20" y2="256.50" stroke="#111" stroke-width="1.3"/>
<line x1="95.50" y1="256.00" x2="95.50" y2="315.00" stroke="#111" stroke-width="1.3"/>
<line x1="36.50" y1="255.50" x2="36.50" y2="315.80" stroke="#111" stroke-width="1.6"/>
<line x1="36.10" y1="315.50" x2="95.70" y2="315.50" stroke="#111" stroke-width="1.6"/>
<line x1="33.30" y1="315.50" x2="36.90" y2="315.50" stroke="#111" stroke-width="1.25"/>
<line x1="34.10" y1="310.50" x2="36.90" y2="310.50" stroke="#111" stroke-width="1.25"/>
<line x1="34.10" y1="307.50" x2="36.90" y2="307.50" stroke="#111" stroke-width="1.25"/>
<line x1="34.10" y1="306.50" x2="36.90" y2="306.50" stroke="#111" stroke-width="1.25"/>
<line x1="34.10" y1="304.50" x2="36.90" y2="304.50" stroke="#111" stroke-width="1.25"/>
<line x1="34.10" y1="303.50" x2="36.90" y2="303.50" stroke="#111" stroke-width="1.25"/>
<line x1="34.10" y1="302.50" x2="36.90" y2="302.50" stroke="#111" stroke-width="1.25"/>
<line x1="34.10" y1="301.50" x2="36.90" y2="301.50" stroke="#111" stroke-width="1.25"/>
<line x1="34.10" y1="300.50" x2="36.90" y2="300.50" stroke="#111" stroke-width="1.25"/>
<line x1="33.30" y1="300.50" x2="36.90" y2="300.50" stroke="#111" stroke-width="1.25"/>
<line x1="34.10" y1="295.50" x2="36.90" y2="295.50" stroke="#111" stroke-width="1.25"/>
<line x1="34.10" y1="293.50" x2="36.90" y2="293.50" stroke="#111" stroke-width="1.25"/>
<line x1="34.10" y1="291.50" x2="36.90" y2="291.50" stroke="#111" stroke-width="1.25"/>
<line x1="34.10" y1="289.50" x2="36.90" y2="289.50" stroke="#111" stroke-width="1.25"/>
<line x1="34.10" y1="288.50" x2="36.90" y2="288.50" stroke="#111" stroke-width="1.25"/>
<line x1="34.10" y1="287.50" x2="36.90" y2="287.50" stroke="#111" stroke-width="1.25"/>
<line x1="34.10" y1="286.50" x2="36.90" y2="286.50" stroke="#111" stroke-width="1.25"/>
<line x1="34.10" y1="286.50" x2="36.90" y2="286.50" stroke="#111" stroke-width="1.25"/>
<line x1="33.30" y1="285.50" x2="36.90" y2="285.50" stroke="#111" stroke-width="1.25"/>
<line x1="34.10" y1="281.50" x2="36.90" y2="281.50" stroke="#111" stroke-width="1.25"/>
<line x1="34.10" y1="278.50" x2="36.90" y2="278.50" stroke="#111" stroke-width="1.25"/>
<line x1="34.10" y1="276.50" x2="36.90" y2="276.50" stroke="#111" stroke-width="1.25"/>
<line x1="34.10" y1="275.50" x2="36.90" y2="275.50" stroke="#111" stroke-width="1.25"/>
<line x1="34.10" y1="274.50" x2="36.90" y2="274.50" stroke="#111" stroke-width="1.25"/>
<line x1="34.10" y1="273.50" x2="36.90" y2="273.50" stroke="#111" stroke-width="1.25"/>
<line x1="34.10" y1="272.50" x2="36.90" y2="272.50" stroke="#111" stroke-width="1.25"/>
<line x1="34.10" y1="271.50" x2="36.90" y2="271.50" stroke="#111" stroke-width="1.25"/>
<line x1="33.30" y1="270.50" x2="36.90" y2="270.50" stroke="#111" stroke-width="1.25"/>
<line x1="34.10" y1="266.50" x2="36.90" y2="266.50" stroke="#111" stroke-width="1.25"/>
<line x1="34.10" y1="263.50" x2="36.90" y2="263.50" stroke="#111" stroke-width="1.25"/>
<line x1="34.10" y1="261.50" x2="36.90" y2="261.50" stroke="#111" stroke-width="1.25"/>
<line x1="34.10" y1="260.50" x2="36.90" y2="260.50" stroke="#111" stroke-width="1.25"/>
<line x1="34.10" y1="259.50" x2="36.90" y2="259.50" stroke="#111" stroke-width="1.25"/>
<line x1="34.10" y1="258.50" x2="36.90" y2="258.50" stroke="#111" stroke-width="1.25"/>
<line x1="34.10" y1="257.50" x2="36.90" y2="257.50" stroke="#111" stroke-width="1.25"/>
<line x1="36.50" y1="315.00" x2="36.50" y2="319.00" stroke="#111" stroke-width="1.25"/>
<line x1="41.50" y1="315.00" x2="41.50" y2="318.00" stroke="#111" stroke-width="1.25"/>
<line x1="43.50" y1="315.00" x2="43.50" y2="318.00" stroke="#111" stroke-width="1.25"/>
<line x1="45.50" y1="315.00" x2="45.50" y2="318.00" stroke="#111" stroke-width="1.25"/>
<line x1="47.50" y1="315.00" x2="47.50" y2="318.00" stroke="#111" stroke-width="1.25"/>
<line x1="48.50" y1="315.00" x2="48.50" y2="318.00" stroke="#111" stroke-width="1.25"/>
<line x1="49.50" y1="315.00" x2="49.50" y2="318.00" stroke="#111" stroke-width="1.25"/>
<line x1="50.50" y1="315.00" x2="50.50" y2="318.00" stroke="#111" stroke-width="1.25"/>
<line x1="50.50" y1="315.00" x2="50.50" y2="318.00" stroke="#111" stroke-width="1.25"/>
<line x1="51.50" y1="315.00" x2="51.50" y2="319.00" stroke="#111" stroke-width="1.25"/>
<line x1="55.50" y1="315.00" x2="55.50" y2="318.00" stroke="#111" stroke-width="1.25"/>
<line x1="58.50" y1="315.00" x2="58.50" y2="318.00" stroke="#111" stroke-width="1.25"/>
<line x1="60.50" y1="315.00" x2="60.50" y2="318.00" stroke="#111" stroke-width="1.25"/>
<line x1="61.50" y1="315.00" x2="61.50" y2="318.00" stroke="#111" stroke-width="1.25"/>
<line x1="62.50" y1="315.00" x2="62.50" y2="318.00" stroke="#111" stroke-width="1.25"/>
<line x1="63.50" y1="315.00" x2="63.50" y2="318.00" stroke="#111" stroke-width="1.25"/>
<line x1="64.50" y1="315.00" x2="64.50" y2="318.00" stroke="#111" stroke-width="1.25"/>
<line x1="65.50" y1="315.00" x2="65.50" y2="318.00" stroke="#111" stroke-width="1.25"/>
<line x1="66.50" y1="315.00" x2="66.50" y2="319.00" stroke="#111" stroke-width="1.25"/>
<line x1="70.50" y1="315.00" x2="70.50" y2="318.00" stroke="#111" stroke-width="1.25"/>
<line x1="73.50" y1="315.00" x2="73.50" y2="318.00" stroke="#111" stroke-width="1.25"/>
<line x1="74.50" y1="315.00" x2="74.50" y2="318.00" stroke="#111" stroke-width="1.25"/>
<line x1="76.50" y1="315.00" x2="76.50" y2="318.00" stroke="#111" stroke-width="1.25"/>
<line x1="77.50" y1="315.00" x2="77.50" y2="318.00" stroke="#111" stroke-width="1.25"/>
<line x1="78.50" y1="315.00" x2="78.50" y2="318.00" stroke="#111" stroke-width="1.25"/>
<line x1="79.50" y1="315.00" x2="79.50" y2="318.00" stroke="#111" stroke-width="1.25"/>
<line x1="79.50" y1="315.00" x2="79.50" y2="318.00" stroke="#111" stroke-width="1.25"/>
<line x1="80.50" y1="315.00" x2="80.50" y2="319.00" stroke="#111" stroke-width="1.25"/>
<line x1="85.50" y1="315.00" x2="85.50" y2="318.00" stroke="#111" stroke-width="1.25"/>
<line x1="87.50" y1="315.00" x2="87.50" y2="318.00" stroke="#111" stroke-width="1.25"/>
<line x1="89.50" y1="315.00" x2="89.50" y2="318.00" stroke="#111" stroke-width="1.25"/>
<line x1="90.50" y1="315.00" x2="90.50" y2="318.00" stroke="#111" stroke-width="1.25"/>
<line x1="91.50" y1="315.00" x2="91.50" y2="318.00" stroke="#111" stroke-width="1.25"/>
<line x1="92.50" y1="315.00" x2="92.50" y2="318.00" stroke="#111" stroke-width="1.25"/>
<line x1="93.50" y1="315.00" x2="93.50" y2="318.00" stroke="#111" stroke-width="1.25"/>
<line x1="59.50" y1="256.00" x2="59.50" y2="315.00" stroke="#111" stroke-width="1.2"/>
<line x1="36.90" y1="291.50" x2="95.20" y2="291.50" stroke="#111" stroke-width="1.2" stroke-dasharray="3.5 1"/>
<text x="39.50" y="266.50" font-size="9.2" font-weight="normal" text-anchor="start" fill="#111" stroke="#111" stroke-width="0.18">17</text>
<text x="92.70" y="312.40" font-size="9.2" font-weight="normal" text-anchor="end" fill="#111" stroke="#111" stroke-width="0.18">48</text>
<text x="35.90" y="252.80" font-size="10" font-weight="bold" text-anchor="start" letter-spacing="0.4" fill="#111" stroke="#111" stroke-width="0.18">xii</text>
<path d="M170 182h1m6 0h1m1 0h1M179 183h1M167 184h1m3 0h1m9 0h1M166 185h1m3 0h1M166 186h1M165 187h1m10 0h2M168 188h1m2 0h1m3 0h1M148 189h1m17 0h1m4 0h2m4 0h1M166 190h1m4 0h1m1 0h2m3 0h1M152 191h1m12 0h2m2 0h6m1 0h1M146 192h1m15 0h1m3 0h8m1 0h2m1 0h1M142 193h1m14 0h1m5 0h10m2 0h1m1 0h1M161 194h3m1 0h10m2 0h1m3 0h2M145 195h1m13 0h2m1 0h3m1 0h10m1 0h1M143 196h1m4 0h1m4 0h1m2 0h2m1 0h1m2 0h3m1 0h14m1 0h1M145 197h1m1 0h1m1 0h1m1 0h1m4 0h2m2 0h21m1 0h1M142 198h1m2 0h1m1 0h2m2 0h1m1 0h1m2 0h1m1 0h1m1 0h19M146 199h8m2 0h4m1 0h1m2 0h2m1 0h10m5 0h1m1 0h1M143 200h3m2 0h2m6 0h11m1 0h2m1 0h8M155 201h1m2 0h4m1 0h2m2 0h4m1 0h1m1 0h1m4 0h1M156 202h1m6 0h2m1 0h7m1 0h1m1 0h1m1 0h1m1 0h1M159 203h2m1 0h2m2 0h3m2 0h3M160 204h1m6 0h3m3 0h1M162 205h1m1 0h2m2 0h1m4 0h1M164 206h5m1 0h1M159 207h1m2 0h3m1 0h1m1 0h1m2 0h1M160 208h1m4 0h2m1 0h4M165 209h1m1 0h4M164 210h6m1 0h1M149 211h1m14 0h1m1 0h1m3 0h1M164 212h1m1 0h7M165 213h1m1 0h4m2 0h2M143 214h1m7 0h1m3 0h1m9 0h1m1 0h5M161 215h1m2 0h1m1 0h4m2 0h1M142 216h1m24 0h6M153 217h1m1 0h1m2 0h1m2 0h1m2 0h2m1 0h6m1 0h1m1 0h1M156 218h1m9 0h3m1 0h1M147 219h1m17 0h7m1 0h2M164 220h1m2 0h4M155 221h1m6 0h1m4 0h3m1 0h2m4 0h1M145 222h2m3 0h2m3 0h1m10 0h1m1 0h4m1 0h1M144 223h1m1 0h1m3 0h1m4 0h1m4 0h1m4 0h8m1 0h1m1 0h1M144 224h2m5 0h2m10 0h1m4 0h5M147 225h1m1 0h2m14 0h6m2 0h3m2 0h1M143 226h1m14 0h1m1 0h1m6 0h8M147 227h1m2 0h1m9 0h1m4 0h2m1 0h6m2 0h2M143 228h1m4 0h1m3 0h1m12 0h1m1 0h6m1 0h1M142 229h1m10 0h1m3 0h1m8 0h3m1 0h6M143 230h1m2 0h1m1 0h1m1 0h1m4 0h1m13 0h2m1 0h2M145 231h1m1 0h1m2 0h1m3 0h1m12 0h7m1 0h1M148 232h1m3 0h1m1 0h1m2 0h1m2 0h1m6 0h1m1 0h2m3 0h1M166 233h3m1 0h3m2 0h1M143 234h1m2 0h1m7 0h1m14 0h2m1 0h2M149 235h1m16 0h3m2 0h2m2 0h1M168 236h1m2 0h1m2 0h1" stroke="#000" stroke-opacity="0.9" stroke-width="1" transform="translate(0 0.5)" filter="url(#bl)"/>
<line x1="140.50" y1="178.50" x2="198.20" y2="178.50" stroke="#111" stroke-width="1.3"/>
<line x1="198.50" y1="178.80" x2="198.50" y2="237.80" stroke="#111" stroke-width="1.3"/>
<line x1="140.50" y1="178.30" x2="140.50" y2="238.60" stroke="#111" stroke-width="1.6"/>
<line x1="139.70" y1="237.50" x2="198.70" y2="237.50" stroke="#111" stroke-width="1.6"/>
<line x1="136.90" y1="237.50" x2="140.50" y2="237.50" stroke="#111" stroke-width="1.25"/>
<line x1="137.70" y1="233.50" x2="140.50" y2="233.50" stroke="#111" stroke-width="1.25"/>
<line x1="137.70" y1="230.50" x2="140.50" y2="230.50" stroke="#111" stroke-width="1.25"/>
<line x1="137.70" y1="228.50" x2="140.50" y2="228.50" stroke="#111" stroke-width="1.25"/>
<line x1="137.70" y1="227.50" x2="140.50" y2="227.50" stroke="#111" stroke-width="1.25"/>
<line x1="137.70" y1="226.50" x2="140.50" y2="226.50" stroke="#111" stroke-width="1.25"/>
<line x1="137.70" y1="225.50" x2="140.50" y2="225.50" stroke="#111" stroke-width="1.25"/>
<line x1="137.70" y1="224.50" x2="140.50" y2="224.50" stroke="#111" stroke-width="1.25"/>
<line x1="137.70" y1="223.50" x2="140.50" y2="223.50" stroke="#111" stroke-width="1.25"/>
<line x1="136.90" y1="223.50" x2="140.50" y2="223.50" stroke="#111" stroke-width="1.25"/>
<line x1="137.70" y1="218.50" x2="140.50" y2="218.50" stroke="#111" stroke-width="1.25"/>
<line x1="137.70" y1="216.50" x2="140.50" y2="216.50" stroke="#111" stroke-width="1.25"/>
<line x1="137.70" y1="214.50" x2="140.50" y2="214.50" stroke="#111" stroke-width="1.25"/>
<line x1="137.70" y1="212.50" x2="140.50" y2="212.50" stroke="#111" stroke-width="1.25"/>
<line x1="137.70" y1="211.50" x2="140.50" y2="211.50" stroke="#111" stroke-width="1.25"/>
<line x1="137.70" y1="210.50" x2="140.50" y2="210.50" stroke="#111" stroke-width="1.25"/>
<line x1="137.70" y1="209.50" x2="140.50" y2="209.50" stroke="#111" stroke-width="1.25"/>
<line x1="137.70" y1="208.50" x2="140.50" y2="208.50" stroke="#111" stroke-width="1.25"/>
<line x1="136.90" y1="208.50" x2="140.50" y2="208.50" stroke="#111" stroke-width="1.25"/>
<line x1="137.70" y1="203.50" x2="140.50" y2="203.50" stroke="#111" stroke-width="1.25"/>
<line x1="137.70" y1="201.50" x2="140.50" y2="201.50" stroke="#111" stroke-width="1.25"/>
<line x1="137.70" y1="199.50" x2="140.50" y2="199.50" stroke="#111" stroke-width="1.25"/>
<line x1="137.70" y1="197.50" x2="140.50" y2="197.50" stroke="#111" stroke-width="1.25"/>
<line x1="137.70" y1="196.50" x2="140.50" y2="196.50" stroke="#111" stroke-width="1.25"/>
<line x1="137.70" y1="195.50" x2="140.50" y2="195.50" stroke="#111" stroke-width="1.25"/>
<line x1="137.70" y1="194.50" x2="140.50" y2="194.50" stroke="#111" stroke-width="1.25"/>
<line x1="137.70" y1="194.50" x2="140.50" y2="194.50" stroke="#111" stroke-width="1.25"/>
<line x1="136.90" y1="193.50" x2="140.50" y2="193.50" stroke="#111" stroke-width="1.25"/>
<line x1="137.70" y1="189.50" x2="140.50" y2="189.50" stroke="#111" stroke-width="1.25"/>
<line x1="137.70" y1="186.50" x2="140.50" y2="186.50" stroke="#111" stroke-width="1.25"/>
<line x1="137.70" y1="184.50" x2="140.50" y2="184.50" stroke="#111" stroke-width="1.25"/>
<line x1="137.70" y1="183.50" x2="140.50" y2="183.50" stroke="#111" stroke-width="1.25"/>
<line x1="137.70" y1="182.50" x2="140.50" y2="182.50" stroke="#111" stroke-width="1.25"/>
<line x1="137.70" y1="181.50" x2="140.50" y2="181.50" stroke="#111" stroke-width="1.25"/>
<line x1="137.70" y1="180.50" x2="140.50" y2="180.50" stroke="#111" stroke-width="1.25"/>
<line x1="140.50" y1="237.80" x2="140.50" y2="241.80" stroke="#111" stroke-width="1.25"/>
<line x1="144.50" y1="237.80" x2="144.50" y2="240.80" stroke="#111" stroke-width="1.25"/>
<line x1="147.50" y1="237.80" x2="147.50" y2="240.80" stroke="#111" stroke-width="1.25"/>
<line x1="149.50" y1="237.80" x2="149.50" y2="240.80" stroke="#111" stroke-width="1.25"/>
<line x1="150.50" y1="237.80" x2="150.50" y2="240.80" stroke="#111" stroke-width="1.25"/>
<line x1="151.50" y1="237.80" x2="151.50" y2="240.80" stroke="#111" stroke-width="1.25"/>
<line x1="152.50" y1="237.80" x2="152.50" y2="240.80" stroke="#111" stroke-width="1.25"/>
<line x1="153.50" y1="237.80" x2="153.50" y2="240.80" stroke="#111" stroke-width="1.25"/>
<line x1="154.50" y1="237.80" x2="154.50" y2="240.80" stroke="#111" stroke-width="1.25"/>
<line x1="154.50" y1="237.80" x2="154.50" y2="241.80" stroke="#111" stroke-width="1.25"/>
<line x1="159.50" y1="237.80" x2="159.50" y2="240.80" stroke="#111" stroke-width="1.25"/>
<line x1="161.50" y1="237.80" x2="161.50" y2="240.80" stroke="#111" stroke-width="1.25"/>
<line x1="163.50" y1="237.80" x2="163.50" y2="240.80" stroke="#111" stroke-width="1.25"/>
<line x1="165.50" y1="237.80" x2="165.50" y2="240.80" stroke="#111" stroke-width="1.25"/>
<line x1="166.50" y1="237.80" x2="166.50" y2="240.80" stroke="#111" stroke-width="1.25"/>
<line x1="167.50" y1="237.80" x2="167.50" y2="240.80" stroke="#111" stroke-width="1.25"/>
<line x1="167.50" y1="237.80" x2="167.50" y2="240.80" stroke="#111" stroke-width="1.25"/>
<line x1="168.50" y1="237.80" x2="168.50" y2="240.80" stroke="#111" stroke-width="1.25"/>
<line x1="169.50" y1="237.80" x2="169.50" y2="241.80" stroke="#111" stroke-width="1.25"/>
<line x1="173.50" y1="237.80" x2="173.50" y2="240.80" stroke="#111" stroke-width="1.25"/>
<line x1="176.50" y1="237.80" x2="176.50" y2="240.80" stroke="#111" stroke-width="1.25"/>
<line x1="178.50" y1="237.80" x2="178.50" y2="240.80" stroke="#111" stroke-width="1.25"/>
<line x1="179.50" y1="237.80" x2="179.50" y2="240.80" stroke="#111" stroke-width="1.25"/>
<line x1="180.50" y1="237.80" x2="180.50" y2="240.80" stroke="#111" stroke-width="1.25"/>
<line x1="181.50" y1="237.80" x2="181.50" y2="240.80" stroke="#111" stroke-width="1.25"/>
<line x1="182.50" y1="237.80" x2="182.50" y2="240.80" stroke="#111" stroke-width="1.25"/>
<line x1="183.50" y1="237.80" x2="183.50" y2="240.80" stroke="#111" stroke-width="1.25"/>
<line x1="183.50" y1="237.80" x2="183.50" y2="241.80" stroke="#111" stroke-width="1.25"/>
<line x1="188.50" y1="237.80" x2="188.50" y2="240.80" stroke="#111" stroke-width="1.25"/>
<line x1="190.50" y1="237.80" x2="190.50" y2="240.80" stroke="#111" stroke-width="1.25"/>
<line x1="192.50" y1="237.80" x2="192.50" y2="240.80" stroke="#111" stroke-width="1.25"/>
<line x1="193.50" y1="237.80" x2="193.50" y2="240.80" stroke="#111" stroke-width="1.25"/>
<line x1="194.50" y1="237.80" x2="194.50" y2="240.80" stroke="#111" stroke-width="1.25"/>
<line x1="195.50" y1="237.80" x2="195.50" y2="240.80" stroke="#111" stroke-width="1.25"/>
<line x1="196.50" y1="237.80" x2="196.50" y2="240.80" stroke="#111" stroke-width="1.25"/>
<line x1="161.50" y1="178.80" x2="161.50" y2="237.80" stroke="#111" stroke-width="1.2"/>
<line x1="140.50" y1="213.50" x2="198.20" y2="213.50" stroke="#111" stroke-width="1.2"/>
<text x="141.60" y="187.20" font-size="9.2" font-weight="normal" text-anchor="start" fill="#111" stroke="#111" stroke-width="0.18">4.2</text>
<text x="196.70" y="187.20" font-size="9.2" font-weight="normal" text-anchor="end" fill="#111" stroke="#111" stroke-width="0.18">81</text>
<text x="196.70" y="235.90" font-size="9.2" font-weight="normal" text-anchor="end" fill="#111" stroke="#111" stroke-width="0.18">12</text>
<text x="137.40" y="176.30" font-size="10" font-weight="bold" text-anchor="start" letter-spacing="0.4" fill="#111" stroke="#111" stroke-width="0.18">xiii</text>
<text x="160.80" y="176.40" font-size="8.4" font-weight="normal" text-anchor="start" letter-spacing="0.2" fill="#111" stroke="#111" stroke-width="0.18">TH</text>
<path d="M168 264h2M162 265h1m13 0h2m3 0h1M161 266h1m3 0h1m4 0h1m1 0h1m7 0h1M169 267h1m1 0h1m1 0h1m6 0h1M169 268h2M164 269h1m1 0h1m2 0h1m2 0h1m2 0h1m3 0h1M162 270h1m3 0h1m4 0h1m2 0h1m5 0h1M141 271h2m3 0h1m1 0h1m2 0h1m9 0h1m2 0h1m2 0h2m1 0h5m1 0h1M142 272h3m11 0h2m1 0h2m1 0h3m1 0h3m1 0h3m1 0h2M143 273h2m1 0h5m3 0h4m1 0h1m1 0h3m2 0h1m2 0h8m2 0h1m1 0h1M142 274h2m1 0h3m1 0h5m3 0h1m1 0h2m2 0h15m3 0h1m1 0h1M140 275h1m2 0h2m1 0h1m1 0h3m1 0h3m1 0h2m1 0h8m1 0h9m1 0h1m1 0h1m1 0h1M144 276h1m1 0h1m4 0h2m2 0h2m2 0h2m1 0h15m1 0h1m1 0h1M147 277h1m2 0h1m4 0h1m2 0h1m2 0h18m1 0h2M158 278h1m2 0h1m1 0h17M161 279h1m1 0h2m1 0h15m3 0h1M159 280h1m3 0h2m1 0h15m2 0h1M163 281h19m2 0h1M162 282h2m1 0h9m1 0h1m1 0h1m1 0h2M161 283h2m1 0h1m4 0h2m1 0h1m1 0h1m3 0h1M164 284h2m1 0h3m1 0h1m2 0h5m1 0h1m1 0h1M163 285h3m1 0h5m3 0h3M163 286h1m1 0h2m2 0h2m1 0h3m1 0h2M165 287h7m1 0h2M161 288h1m1 0h1m6 0h2m4 0h1m2 0h1M167 289h2m2 0h1M166 290h7m2 0h1M159 291h1m3 0h1m1 0h1m1 0h5m1 0h3M149 292h1m5 0h2m8 0h1m1 0h2m1 0h5M150 293h1m2 0h1m12 0h3m1 0h3M153 294h1m6 0h1m5 0h7M146 295h1m4 0h1m3 0h1m3 0h1m5 0h5m1 0h3m1 0h1M147 296h1m1 0h2m14 0h1m1 0h7M144 297h1m19 0h1m1 0h4m1 0h4M142 298h1m2 0h1m2 0h1m5 0h2m4 0h1m2 0h1m2 0h2m2 0h5M143 299h2m4 0h1m5 0h1m8 0h2m1 0h7m1 0h1M148 300h1m8 0h1m7 0h2m1 0h5M144 301h1m3 0h2m1 0h1m1 0h1m10 0h8m1 0h2M143 302h1m1 0h2m1 0h1m6 0h1m10 0h3m1 0h6M147 303h2m5 0h1m10 0h9m1 0h1M145 304h1m2 0h1m15 0h3m2 0h4m1 0h1m1 0h1M148 305h2m9 0h1m7 0h2m1 0h2m2 0h1m2 0h1M168 306h7M143 307h1m2 0h1m13 0h1m5 0h1m1 0h2m1 0h6M149 308h1m1 0h1m6 0h1m8 0h1m1 0h2m1 0h2m1 0h1M144 309h1m5 0h1m5 0h2m9 0h3m1 0h1m2 0h1m2 0h1M142 310h1m26 0h3m1 0h2m1 0h1M146 311h1m15 0h1m1 0h2m1 0h2m1 0h7M168 312h1m1 0h6M169 313h2m2 0h2m1 0h1" stroke="#000" stroke-opacity="0.9" stroke-width="1" transform="translate(0 0.5)" filter="url(#bl)"/>
<line x1="139.80" y1="256.50" x2="197.50" y2="256.50" stroke="#111" stroke-width="1.3"/>
<line x1="197.50" y1="256.00" x2="197.50" y2="315.00" stroke="#111" stroke-width="1.3"/>
<line x1="139.50" y1="255.50" x2="139.50" y2="315.80" stroke="#111" stroke-width="1.6"/>
<line x1="139.00" y1="315.50" x2="198.00" y2="315.50" stroke="#111" stroke-width="1.6"/>
<line x1="136.20" y1="315.50" x2="139.80" y2="315.50" stroke="#111" stroke-width="1.25"/>
<line x1="137.00" y1="310.50" x2="139.80" y2="310.50" stroke="#111" stroke-width="1.25"/>
<line x1="137.00" y1="307.50" x2="139.80" y2="307.50" stroke="#111" stroke-width="1.25"/>
<line x1="137.00" y1="306.50" x2="139.80" y2="306.50" stroke="#111" stroke-width="1.25"/>
<line x1="137.00" y1="304.50" x2="139.80" y2="304.50" stroke="#111" stroke-width="1.25"/>
<line x1="137.00" y1="303.50" x2="139.80" y2="303.50" stroke="#111" stroke-width="1.25"/>
<line x1="137.00" y1="302.50" x2="139.80" y2="302.50" stroke="#111" stroke-width="1.25"/>
<line x1="137.00" y1="301.50" x2="139.80" y2="301.50" stroke="#111" stroke-width="1.25"/>
<line x1="137.00" y1="300.50" x2="139.80" y2="300.50" stroke="#111" stroke-width="1.25"/>
<line x1="136.20" y1="300.50" x2="139.80" y2="300.50" stroke="#111" stroke-width="1.25"/>
<line x1="137.00" y1="295.50" x2="139.80" y2="295.50" stroke="#111" stroke-width="1.25"/>
<line x1="137.00" y1="293.50" x2="139.80" y2="293.50" stroke="#111" stroke-width="1.25"/>
<line x1="137.00" y1="291.50" x2="139.80" y2="291.50" stroke="#111" stroke-width="1.25"/>
<line x1="137.00" y1="289.50" x2="139.80" y2="289.50" stroke="#111" stroke-width="1.25"/>
<line x1="137.00" y1="288.50" x2="139.80" y2="288.50" stroke="#111" stroke-width="1.25"/>
<line x1="137.00" y1="287.50" x2="139.80" y2="287.50" stroke="#111" stroke-width="1.25"/>
<line x1="137.00" y1="286.50" x2="139.80" y2="286.50" stroke="#111" stroke-width="1.25"/>
<line x1="137.00" y1="286.50" x2="139.80" y2="286.50" stroke="#111" stroke-width="1.25"/>
<line x1="136.20" y1="285.50" x2="139.80" y2="285.50" stroke="#111" stroke-width="1.25"/>
<line x1="137.00" y1="281.50" x2="139.80" y2="281.50" stroke="#111" stroke-width="1.25"/>
<line x1="137.00" y1="278.50" x2="139.80" y2="278.50" stroke="#111" stroke-width="1.25"/>
<line x1="137.00" y1="276.50" x2="139.80" y2="276.50" stroke="#111" stroke-width="1.25"/>
<line x1="137.00" y1="275.50" x2="139.80" y2="275.50" stroke="#111" stroke-width="1.25"/>
<line x1="137.00" y1="274.50" x2="139.80" y2="274.50" stroke="#111" stroke-width="1.25"/>
<line x1="137.00" y1="273.50" x2="139.80" y2="273.50" stroke="#111" stroke-width="1.25"/>
<line x1="137.00" y1="272.50" x2="139.80" y2="272.50" stroke="#111" stroke-width="1.25"/>
<line x1="137.00" y1="271.50" x2="139.80" y2="271.50" stroke="#111" stroke-width="1.25"/>
<line x1="136.20" y1="270.50" x2="139.80" y2="270.50" stroke="#111" stroke-width="1.25"/>
<line x1="137.00" y1="266.50" x2="139.80" y2="266.50" stroke="#111" stroke-width="1.25"/>
<line x1="137.00" y1="263.50" x2="139.80" y2="263.50" stroke="#111" stroke-width="1.25"/>
<line x1="137.00" y1="261.50" x2="139.80" y2="261.50" stroke="#111" stroke-width="1.25"/>
<line x1="137.00" y1="260.50" x2="139.80" y2="260.50" stroke="#111" stroke-width="1.25"/>
<line x1="137.00" y1="259.50" x2="139.80" y2="259.50" stroke="#111" stroke-width="1.25"/>
<line x1="137.00" y1="258.50" x2="139.80" y2="258.50" stroke="#111" stroke-width="1.25"/>
<line x1="137.00" y1="257.50" x2="139.80" y2="257.50" stroke="#111" stroke-width="1.25"/>
<line x1="139.50" y1="315.00" x2="139.50" y2="319.00" stroke="#111" stroke-width="1.25"/>
<line x1="144.50" y1="315.00" x2="144.50" y2="318.00" stroke="#111" stroke-width="1.25"/>
<line x1="146.50" y1="315.00" x2="146.50" y2="318.00" stroke="#111" stroke-width="1.25"/>
<line x1="148.50" y1="315.00" x2="148.50" y2="318.00" stroke="#111" stroke-width="1.25"/>
<line x1="149.50" y1="315.00" x2="149.50" y2="318.00" stroke="#111" stroke-width="1.25"/>
<line x1="151.50" y1="315.00" x2="151.50" y2="318.00" stroke="#111" stroke-width="1.25"/>
<line x1="151.50" y1="315.00" x2="151.50" y2="318.00" stroke="#111" stroke-width="1.25"/>
<line x1="152.50" y1="315.00" x2="152.50" y2="318.00" stroke="#111" stroke-width="1.25"/>
<line x1="153.50" y1="315.00" x2="153.50" y2="318.00" stroke="#111" stroke-width="1.25"/>
<line x1="154.50" y1="315.00" x2="154.50" y2="319.00" stroke="#111" stroke-width="1.25"/>
<line x1="158.50" y1="315.00" x2="158.50" y2="318.00" stroke="#111" stroke-width="1.25"/>
<line x1="161.50" y1="315.00" x2="161.50" y2="318.00" stroke="#111" stroke-width="1.25"/>
<line x1="162.50" y1="315.00" x2="162.50" y2="318.00" stroke="#111" stroke-width="1.25"/>
<line x1="164.50" y1="315.00" x2="164.50" y2="318.00" stroke="#111" stroke-width="1.25"/>
<line x1="165.50" y1="315.00" x2="165.50" y2="318.00" stroke="#111" stroke-width="1.25"/>
<line x1="166.50" y1="315.00" x2="166.50" y2="318.00" stroke="#111" stroke-width="1.25"/>
<line x1="167.50" y1="315.00" x2="167.50" y2="318.00" stroke="#111" stroke-width="1.25"/>
<line x1="167.50" y1="315.00" x2="167.50" y2="318.00" stroke="#111" stroke-width="1.25"/>
<line x1="168.50" y1="315.00" x2="168.50" y2="319.00" stroke="#111" stroke-width="1.25"/>
<line x1="172.50" y1="315.00" x2="172.50" y2="318.00" stroke="#111" stroke-width="1.25"/>
<line x1="175.50" y1="315.00" x2="175.50" y2="318.00" stroke="#111" stroke-width="1.25"/>
<line x1="177.50" y1="315.00" x2="177.50" y2="318.00" stroke="#111" stroke-width="1.25"/>
<line x1="178.50" y1="315.00" x2="178.50" y2="318.00" stroke="#111" stroke-width="1.25"/>
<line x1="179.50" y1="315.00" x2="179.50" y2="318.00" stroke="#111" stroke-width="1.25"/>
<line x1="180.50" y1="315.00" x2="180.50" y2="318.00" stroke="#111" stroke-width="1.25"/>
<line x1="181.50" y1="315.00" x2="181.50" y2="318.00" stroke="#111" stroke-width="1.25"/>
<line x1="182.50" y1="315.00" x2="182.50" y2="318.00" stroke="#111" stroke-width="1.25"/>
<line x1="183.50" y1="315.00" x2="183.50" y2="319.00" stroke="#111" stroke-width="1.25"/>
<line x1="187.50" y1="315.00" x2="187.50" y2="318.00" stroke="#111" stroke-width="1.25"/>
<line x1="189.50" y1="315.00" x2="189.50" y2="318.00" stroke="#111" stroke-width="1.25"/>
<line x1="191.50" y1="315.00" x2="191.50" y2="318.00" stroke="#111" stroke-width="1.25"/>
<line x1="193.50" y1="315.00" x2="193.50" y2="318.00" stroke="#111" stroke-width="1.25"/>
<line x1="194.50" y1="315.00" x2="194.50" y2="318.00" stroke="#111" stroke-width="1.25"/>
<line x1="195.50" y1="315.00" x2="195.50" y2="318.00" stroke="#111" stroke-width="1.25"/>
<line x1="196.50" y1="315.00" x2="196.50" y2="318.00" stroke="#111" stroke-width="1.25"/>
<line x1="160.50" y1="256.00" x2="160.50" y2="315.00" stroke="#111" stroke-width="1.2"/>
<line x1="139.80" y1="290.50" x2="197.50" y2="290.50" stroke="#111" stroke-width="1.2"/>
<text x="141.60" y="265.00" font-size="9.2" font-weight="normal" text-anchor="start" fill="#111" stroke="#111" stroke-width="0.18">6.3</text>
<text x="195.20" y="265.00" font-size="9.2" font-weight="normal" text-anchor="end" fill="#111" stroke="#111" stroke-width="0.18">67</text>
<text x="195.20" y="312.90" font-size="9.2" font-weight="normal" text-anchor="end" fill="#111" stroke="#111" stroke-width="0.18">24</text>
<text x="138.60" y="253.50" font-size="10" font-weight="bold" text-anchor="start" letter-spacing="0.4" fill="#111" stroke="#111" stroke-width="0.18">xiv</text>
<path d="M278 184h1M261 185h4m1 0h1m3 0h2m9 0h2M267 186h1m1 0h1m5 0h2m6 0h1M261 187h1m3 0h1m2 0h1m1 0h1m1 0h1m1 0h1m2 0h2m5 0h1M261 188h1m3 0h5m1 0h3m1 0h1m1 0h1m1 0h2m1 0h1m4 0h1M261 189h2m2 0h2m1 0h2m1 0h2m2 0h1m1 0h1m2 0h3m1 0h1M250 190h1m4 0h1m3 0h1m2 0h1m1 0h14M254 191h1m5 0h3m1 0h4m1 0h10m2 0h1m2 0h1m2 0h1M252 192h1m3 0h1m2 0h1m1 0h18m1 0h3m1 0h1M256 193h1m3 0h1m1 0h22m2 0h2M256 194h3m1 0h19m1 0h5M248 195h1m4 0h1m2 0h6m1 0h18m6 0h1M250 196h3m2 0h1m1 0h7m1 0h14m1 0h1m1 0h1m1 0h3m1 0h1M255 197h1m2 0h1m1 0h3m1 0h17m1 0h1m2 0h1M251 198h1m1 0h1m2 0h4m1 0h2m1 0h11m1 0h1m1 0h4m2 0h1m2 0h1M248 199h1m4 0h1m1 0h6m1 0h3m1 0h1m1 0h9m1 0h5m7 0h1M252 200h1m2 0h4m2 0h2m1 0h4m1 0h2m3 0h1m3 0h2m2 0h1m7 0h1M250 201h1m3 0h2m1 0h3m1 0h2m4 0h1m1 0h3m1 0h3m3 0h1M252 202h2m1 0h3m1 0h1m3 0h3m2 0h1m1 0h2m1 0h1m1 0h1m1 0h1m6 0h1M248 203h1m3 0h3m1 0h1m2 0h1m3 0h1m7 0h1m5 0h1M247 204h1m3 0h5m2 0h2m17 0h1m4 0h1m11 0h1M247 205h1m2 0h1m3 0h2m3 0h1m7 0h1m3 0h1m7 0h1m4 0h1M248 206h1m1 0h9m1 0h1m28 0h1M248 207h1m2 0h2m1 0h4m2 0h2m17 0h1m14 0h1M248 208h8m2 0h1m19 0h1m10 0h1M247 209h1m1 0h3m1 0h2m1 0h2m1 0h1m12 0h1m2 0h1m8 0h1M248 210h8m2 0h3m12 0h1m7 0h1m12 0h1M248 211h1m1 0h2m1 0h1m1 0h1m1 0h1m1 0h3M250 212h1m1 0h5m1 0h1m3 0h1M247 213h1m2 0h8M248 214h5m1 0h2m19 0h1m1 0h1m21 0h1M247 215h1m2 0h6m2 0h2m1 0h1m19 0h1M250 216h7m17 0h1M247 217h1m1 0h2m2 0h4m2 0h1m25 0h1M249 218h3m1 0h1m2 0h1m2 0h1m31 0h1M247 219h3m2 0h1m1 0h2m2 0h1m5 0h1m21 0h1m9 0h1m1 0h1M250 220h1m1 0h1m1 0h1m1 0h2m2 0h2m18 0h1M247 221h1m3 0h4m2 0h4m4 0h1M248 222h1m4 0h2m3 0h1m2 0h1m5 0h1m7 0h1m6 0h1M247 223h1m1 0h10m1 0h5m2 0h1m3 0h2m12 0h1m9 0h1M249 224h1m1 0h1m1 0h1m1 0h7m1 0h1m9 0h1m12 0h1m10 0h1M247 225h3m1 0h15m2 0h2m6 0h1m9 0h1m5 0h1M248 226h17m2 0h2m14 0h1m12 0h1m1 0h1M247 227h2m1 0h6m1 0h8m1 0h2m2 0h1m1 0h1m3 0h1m18 0h1M247 228h1m1 0h18m4 0h1m8 0h2M247 229h1m1 0h20m2 0h1M247 230h19m1 0h1m2 0h2m1 0h1m1 0h1m9 0h1M247 231h17m2 0h1m1 0h1m5 0h1m11 0h1M248 232h1m1 0h18m2 0h1m10 0h1M251 233h5m1 0h6m2 0h3m1 0h2m14 0h1M248 234h2m1 0h3m1 0h2m1 0h5m3 0h1m16 0h1M249 235h1m2 0h4m1 0h3m1 0h3m1 0h2m15 0h1m1 0h1M253 236h1m1 0h1m1 0h1m3 0h1m2 0h1m2 0h1" stroke="#000" stroke-opacity="0.9" stroke-width="1" transform="translate(0 0.5)" filter="url(#bl)"/>
<line x1="246.50" y1="178.50" x2="303.30" y2="178.50" stroke="#111" stroke-width="1.3"/>
<line x1="303.50" y1="178.80" x2="303.50" y2="237.80" stroke="#111" stroke-width="1.3"/>
<line x1="246.50" y1="178.30" x2="246.50" y2="238.60" stroke="#111" stroke-width="1.6"/>
<line x1="245.70" y1="237.50" x2="303.80" y2="237.50" stroke="#111" stroke-width="1.6"/>
<line x1="242.90" y1="237.50" x2="246.50" y2="237.50" stroke="#111" stroke-width="1.25"/>
<line x1="243.70" y1="233.50" x2="246.50" y2="233.50" stroke="#111" stroke-width="1.25"/>
<line x1="243.70" y1="230.50" x2="246.50" y2="230.50" stroke="#111" stroke-width="1.25"/>
<line x1="243.70" y1="228.50" x2="246.50" y2="228.50" stroke="#111" stroke-width="1.25"/>
<line x1="243.70" y1="227.50" x2="246.50" y2="227.50" stroke="#111" stroke-width="1.25"/>
<line x1="243.70" y1="226.50" x2="246.50" y2="226.50" stroke="#111" stroke-width="1.25"/>
<line x1="243.70" y1="225.50" x2="246.50" y2="225.50" stroke="#111" stroke-width="1.25"/>
<line x1="243.70" y1="224.50" x2="246.50" y2="224.50" stroke="#111" stroke-width="1.25"/>
<line x1="243.70" y1="223.50" x2="246.50" y2="223.50" stroke="#111" stroke-width="1.25"/>
<line x1="242.90" y1="223.50" x2="246.50" y2="223.50" stroke="#111" stroke-width="1.25"/>
<line x1="243.70" y1="218.50" x2="246.50" y2="218.50" stroke="#111" stroke-width="1.25"/>
<line x1="243.70" y1="216.50" x2="246.50" y2="216.50" stroke="#111" stroke-width="1.25"/>
<line x1="243.70" y1="214.50" x2="246.50" y2="214.50" stroke="#111" stroke-width="1.25"/>
<line x1="243.70" y1="212.50" x2="246.50" y2="212.50" stroke="#111" stroke-width="1.25"/>
<line x1="243.70" y1="211.50" x2="246.50" y2="211.50" stroke="#111" stroke-width="1.25"/>
<line x1="243.70" y1="210.50" x2="246.50" y2="210.50" stroke="#111" stroke-width="1.25"/>
<line x1="243.70" y1="209.50" x2="246.50" y2="209.50" stroke="#111" stroke-width="1.25"/>
<line x1="243.70" y1="208.50" x2="246.50" y2="208.50" stroke="#111" stroke-width="1.25"/>
<line x1="242.90" y1="208.50" x2="246.50" y2="208.50" stroke="#111" stroke-width="1.25"/>
<line x1="243.70" y1="203.50" x2="246.50" y2="203.50" stroke="#111" stroke-width="1.25"/>
<line x1="243.70" y1="201.50" x2="246.50" y2="201.50" stroke="#111" stroke-width="1.25"/>
<line x1="243.70" y1="199.50" x2="246.50" y2="199.50" stroke="#111" stroke-width="1.25"/>
<line x1="243.70" y1="197.50" x2="246.50" y2="197.50" stroke="#111" stroke-width="1.25"/>
<line x1="243.70" y1="196.50" x2="246.50" y2="196.50" stroke="#111" stroke-width="1.25"/>
<line x1="243.70" y1="195.50" x2="246.50" y2="195.50" stroke="#111" stroke-width="1.25"/>
<line x1="243.70" y1="194.50" x2="246.50" y2="194.50" stroke="#111" stroke-width="1.25"/>
<line x1="243.70" y1="194.50" x2="246.50" y2="194.50" stroke="#111" stroke-width="1.25"/>
<line x1="242.90" y1="193.50" x2="246.50" y2="193.50" stroke="#111" stroke-width="1.25"/>
<line x1="243.70" y1="189.50" x2="246.50" y2="189.50" stroke="#111" stroke-width="1.25"/>
<line x1="243.70" y1="186.50" x2="246.50" y2="186.50" stroke="#111" stroke-width="1.25"/>
<line x1="243.70" y1="184.50" x2="246.50" y2="184.50" stroke="#111" stroke-width="1.25"/>
<line x1="243.70" y1="183.50" x2="246.50" y2="183.50" stroke="#111" stroke-width="1.25"/>
<line x1="243.70" y1="182.50" x2="246.50" y2="182.50" stroke="#111" stroke-width="1.25"/>
<line x1="243.70" y1="181.50" x2="246.50" y2="181.50" stroke="#111" stroke-width="1.25"/>
<line x1="243.70" y1="180.50" x2="246.50" y2="180.50" stroke="#111" stroke-width="1.25"/>
<line x1="246.50" y1="237.80" x2="246.50" y2="241.80" stroke="#111" stroke-width="1.25"/>
<line x1="250.50" y1="237.80" x2="250.50" y2="240.80" stroke="#111" stroke-width="1.25"/>
<line x1="253.50" y1="237.80" x2="253.50" y2="240.80" stroke="#111" stroke-width="1.25"/>
<line x1="255.50" y1="237.80" x2="255.50" y2="240.80" stroke="#111" stroke-width="1.25"/>
<line x1="256.50" y1="237.80" x2="256.50" y2="240.80" stroke="#111" stroke-width="1.25"/>
<line x1="257.50" y1="237.80" x2="257.50" y2="240.80" stroke="#111" stroke-width="1.25"/>
<line x1="258.50" y1="237.80" x2="258.50" y2="240.80" stroke="#111" stroke-width="1.25"/>
<line x1="259.50" y1="237.80" x2="259.50" y2="240.80" stroke="#111" stroke-width="1.25"/>
<line x1="260.50" y1="237.80" x2="260.50" y2="240.80" stroke="#111" stroke-width="1.25"/>
<line x1="260.50" y1="237.80" x2="260.50" y2="241.80" stroke="#111" stroke-width="1.25"/>
<line x1="264.50" y1="237.80" x2="264.50" y2="240.80" stroke="#111" stroke-width="1.25"/>
<line x1="267.50" y1="237.80" x2="267.50" y2="240.80" stroke="#111" stroke-width="1.25"/>
<line x1="269.50" y1="237.80" x2="269.50" y2="240.80" stroke="#111" stroke-width="1.25"/>
<line x1="270.50" y1="237.80" x2="270.50" y2="240.80" stroke="#111" stroke-width="1.25"/>
<line x1="271.50" y1="237.80" x2="271.50" y2="240.80" stroke="#111" stroke-width="1.25"/>
<line x1="272.50" y1="237.80" x2="272.50" y2="240.80" stroke="#111" stroke-width="1.25"/>
<line x1="273.50" y1="237.80" x2="273.50" y2="240.80" stroke="#111" stroke-width="1.25"/>
<line x1="274.50" y1="237.80" x2="274.50" y2="240.80" stroke="#111" stroke-width="1.25"/>
<line x1="274.50" y1="237.80" x2="274.50" y2="241.80" stroke="#111" stroke-width="1.25"/>
<line x1="279.50" y1="237.80" x2="279.50" y2="240.80" stroke="#111" stroke-width="1.25"/>
<line x1="281.50" y1="237.80" x2="281.50" y2="240.80" stroke="#111" stroke-width="1.25"/>
<line x1="283.50" y1="237.80" x2="283.50" y2="240.80" stroke="#111" stroke-width="1.25"/>
<line x1="284.50" y1="237.80" x2="284.50" y2="240.80" stroke="#111" stroke-width="1.25"/>
<line x1="285.50" y1="237.80" x2="285.50" y2="240.80" stroke="#111" stroke-width="1.25"/>
<line x1="286.50" y1="237.80" x2="286.50" y2="240.80" stroke="#111" stroke-width="1.25"/>
<line x1="287.50" y1="237.80" x2="287.50" y2="240.80" stroke="#111" stroke-width="1.25"/>
<line x1="288.50" y1="237.80" x2="288.50" y2="240.80" stroke="#111" stroke-width="1.25"/>
<line x1="289.50" y1="237.80" x2="289.50" y2="241.80" stroke="#111" stroke-width="1.25"/>
<line x1="293.50" y1="237.80" x2="293.50" y2="240.80" stroke="#111" stroke-width="1.25"/>
<line x1="295.50" y1="237.80" x2="295.50" y2="240.80" stroke="#111" stroke-width="1.25"/>
<line x1="297.50" y1="237.80" x2="297.50" y2="240.80" stroke="#111" stroke-width="1.25"/>
<line x1="299.50" y1="237.80" x2="299.50" y2="240.80" stroke="#111" stroke-width="1.25"/>
<line x1="300.50" y1="237.80" x2="300.50" y2="240.80" stroke="#111" stroke-width="1.25"/>
<line x1="301.50" y1="237.80" x2="301.50" y2="240.80" stroke="#111" stroke-width="1.25"/>
<line x1="301.50" y1="237.80" x2="301.50" y2="240.80" stroke="#111" stroke-width="1.25"/>
<line x1="269.50" y1="178.80" x2="269.50" y2="237.80" stroke="#111" stroke-width="1.2"/>
<line x1="246.50" y1="221.50" x2="303.30" y2="221.50" stroke="#111" stroke-width="1.2"/>
<text x="248.90" y="188.50" font-size="9.2" font-weight="normal" text-anchor="start" fill="#111" stroke="#111" stroke-width="0.18">35</text>
<text x="301.20" y="188.50" font-size="9.2" font-weight="normal" text-anchor="end" fill="#111" stroke="#111" stroke-width="0.18">26</text>
<text x="301.20" y="235.40" font-size="9.2" font-weight="normal" text-anchor="end" fill="#111" stroke="#111" stroke-width="0.18">3.1</text>
<text x="245.60" y="176.30" font-size="10" font-weight="bold" text-anchor="start" letter-spacing="0.4" fill="#111" stroke="#111" stroke-width="0.18">xv</text>
<text x="268.00" y="176.40" font-size="8.4" font-weight="normal" text-anchor="start" letter-spacing="0.2" fill="#111" stroke="#111" stroke-width="0.18">TH</text>
<path d="M260 259h2m9 0h1M262 260h1m5 0h1m10 0h1M265 261h1M262 262h3m1 0h2m1 0h1m1 0h1m3 0h1M262 263h1m1 0h1m1 0h3m2 0h2M262 264h1m2 0h2m2 0h4m2 0h1m6 0h1M261 265h1m1 0h7m1 0h4m6 0h1M253 266h1m1 0h1m3 0h1m1 0h2m1 0h7m1 0h3m1 0h1m1 0h3M247 267h2m3 0h24M250 268h6m1 0h20m1 0h4m6 0h1M248 269h5m1 0h1m1 0h19m1 0h2m1 0h2m9 0h1M250 270h32m1 0h2m2 0h1m1 0h1m1 0h1M247 271h1m2 0h3m1 0h1m1 0h23m1 0h5M252 272h7m1 0h21m1 0h8m1 0h1m2 0h1M247 273h3m1 0h3m1 0h24m1 0h7m1 0h1m1 0h3M247 274h2m3 0h34m1 0h1m2 0h1m2 0h1m2 0h1M248 275h4m1 0h1m1 0h4m1 0h25m2 0h3M249 276h1m2 0h14m1 0h23m1 0h1m3 0h1M250 277h1m2 0h3m2 0h4m2 0h7m1 0h2m1 0h14M250 278h2m2 0h7m1 0h6m1 0h2m1 0h1m1 0h3m1 0h8m1 0h2M251 279h1m2 0h7m1 0h1m1 0h2m1 0h1m1 0h3m1 0h3m1 0h6m1 0h3m1 0h1m3 0h1M256 280h1m1 0h2m2 0h5m2 0h4m4 0h3m1 0h2m2 0h3m1 0h3M247 281h2m1 0h1m3 0h3m1 0h1m2 0h1m5 0h2m7 0h1m1 0h1m4 0h1M247 282h2m1 0h1m1 0h1m7 0h1m3 0h1m2 0h1m1 0h1m5 0h1m8 0h1m1 0h1m5 0h1m2 0h1M247 283h1m2 0h1m1 0h1m7 0h5m9 0h2m6 0h1m9 0h1M248 284h3m4 0h1m3 0h6m1 0h1m11 0h1m5 0h1m9 0h1M247 285h1m3 0h1m4 0h1m1 0h3m1 0h1m8 0h2m7 0h2m10 0h1M248 286h6m2 0h6m17 0h1m3 0h1m2 0h1m12 0h1M247 287h3m1 0h1m1 0h1m3 0h3m1 0h3M247 288h4m1 0h5m1 0h2m1 0h2m13 0h1m9 0h1m8 0h1M249 289h3m1 0h1m2 0h9m16 0h1m2 0h1m5 0h1m2 0h1M248 290h1m1 0h3m2 0h1m1 0h2m2 0h2m16 0h1M249 291h1m1 0h2m1 0h4m1 0h1m1 0h3m1 0h1m26 0h1M249 292h2m1 0h1m1 0h2m2 0h3m2 0h1m6 0h1m3 0h1m8 0h1m10 0h1M247 293h3m2 0h6m2 0h1M248 294h1m1 0h1m1 0h1m1 0h4m12 0h1m5 0h2m19 0h1M248 295h1m2 0h2m1 0h2m2 0h1m1 0h2m11 0h2m5 0h1M250 296h1m1 0h2m1 0h1m1 0h1m5 0h1m25 0h1M249 297h1m3 0h4m2 0h1m36 0h1M247 298h1m5 0h1m2 0h1m1 0h1M249 299h1m2 0h3m1 0h1m1 0h1m3 0h1m3 0h2m16 0h1m6 0h1m5 0h1M249 300h1m1 0h4m1 0h3m1 0h2m1 0h1m1 0h2m25 0h1m2 0h2M252 301h2m1 0h1m1 0h3m1 0h2m1 0h1m2 0h1m2 0h1m22 0h1M248 302h4m2 0h3m1 0h2m4 0h4m21 0h1m6 0h1M248 303h12m1 0h3m1 0h1M247 304h1m2 0h6m1 0h3m5 0h1m9 0h3M247 305h1m1 0h5m2 0h4m1 0h3m1 0h1m11 0h1m1 0h1M248 306h10m1 0h5m1 0h2m3 0h1M250 307h6m2 0h5m1 0h1m1 0h2m2 0h1m10 0h1M247 308h2m1 0h1m3 0h4m1 0h6m8 0h1M253 309h3m1 0h2m2 0h3m2 0h1m8 0h1m4 0h1m6 0h1M248 310h1m1 0h2m6 0h5m3 0h1m3 0h1m13 0h1M252 311h1m1 0h4m1 0h1m1 0h4m19 0h1M248 312h2m2 0h2m1 0h1m1 0h1m1 0h3m10 0h1M250 313h1m5 0h3m1 0h1m2 0h1m3 0h1" stroke="#000" stroke-opacity="0.9" stroke-width="1" transform="translate(0 0.5)" filter="url(#bl)"/>
<line x1="246.50" y1="256.50" x2="304.20" y2="256.50" stroke="#111" stroke-width="1.3"/>
<line x1="304.50" y1="256.00" x2="304.50" y2="315.00" stroke="#111" stroke-width="1.3"/>
<line x1="246.50" y1="255.50" x2="246.50" y2="315.80" stroke="#111" stroke-width="1.6"/>
<line x1="245.70" y1="315.50" x2="304.70" y2="315.50" stroke="#111" stroke-width="1.6"/>
<line x1="242.90" y1="315.50" x2="246.50" y2="315.50" stroke="#111" stroke-width="1.25"/>
<line x1="243.70" y1="310.50" x2="246.50" y2="310.50" stroke="#111" stroke-width="1.25"/>
<line x1="243.70" y1="307.50" x2="246.50" y2="307.50" stroke="#111" stroke-width="1.25"/>
<line x1="243.70" y1="306.50" x2="246.50" y2="306.50" stroke="#111" stroke-width="1.25"/>
<line x1="243.70" y1="304.50" x2="246.50" y2="304.50" stroke="#111" stroke-width="1.25"/>
<line x1="243.70" y1="303.50" x2="246.50" y2="303.50" stroke="#111" stroke-width="1.25"/>
<line x1="243.70" y1="302.50" x2="246.50" y2="302.50" stroke="#111" stroke-width="1.25"/>
<line x1="243.70" y1="301.50" x2="246.50" y2="301.50" stroke="#111" stroke-width="1.25"/>
<line x1="243.70" y1="300.50" x2="246.50" y2="300.50" stroke="#111" stroke-width="1.25"/>
<line x1="242.90" y1="300.50" x2="246.50" y2="300.50" stroke="#111" stroke-width="1.25"/>
<line x1="243.70" y1="295.50" x2="246.50" y2="295.50" stroke="#111" stroke-width="1.25"/>
<line x1="243.70" y1="293.50" x2="246.50" y2="293.50" stroke="#111" stroke-width="1.25"/>
<line x1="243.70" y1="291.50" x2="246.50" y2="291.50" stroke="#111" stroke-width="1.25"/>
<line x1="243.70" y1="289.50" x2="246.50" y2="289.50" stroke="#111" stroke-width="1.25"/>
<line x1="243.70" y1="288.50" x2="246.50" y2="288.50" stroke="#111" stroke-width="1.25"/>
<line x1="243.70" y1="287.50" x2="246.50" y2="287.50" stroke="#111" stroke-width="1.25"/>
<line x1="243.70" y1="286.50" x2="246.50" y2="286.50" stroke="#111" stroke-width="1.25"/>
<line x1="243.70" y1="286.50" x2="246.50" y2="286.50" stroke="#111" stroke-width="1.25"/>
<line x1="242.90" y1="285.50" x2="246.50" y2="285.50" stroke="#111" stroke-width="1.25"/>
<line x1="243.70" y1="281.50" x2="246.50" y2="281.50" stroke="#111" stroke-width="1.25"/>
<line x1="243.70" y1="278.50" x2="246.50" y2="278.50" stroke="#111" stroke-width="1.25"/>
<line x1="243.70" y1="276.50" x2="246.50" y2="276.50" stroke="#111" stroke-width="1.25"/>
<line x1="243.70" y1="275.50" x2="246.50" y2="275.50" stroke="#111" stroke-width="1.25"/>
<line x1="243.70" y1="274.50" x2="246.50" y2="274.50" stroke="#111" stroke-width="1.25"/>
<line x1="243.70" y1="273.50" x2="246.50" y2="273.50" stroke="#111" stroke-width="1.25"/>
<line x1="243.70" y1="272.50" x2="246.50" y2="272.50" stroke="#111" stroke-width="1.25"/>
<line x1="243.70" y1="271.50" x2="246.50" y2="271.50" stroke="#111" stroke-width="1.25"/>
<line x1="242.90" y1="270.50" x2="246.50" y2="270.50" stroke="#111" stroke-width="1.25"/>
<line x1="243.70" y1="266.50" x2="246.50" y2="266.50" stroke="#111" stroke-width="1.25"/>
<line x1="243.70" y1="263.50" x2="246.50" y2="263.50" stroke="#111" stroke-width="1.25"/>
<line x1="243.70" y1="261.50" x2="246.50" y2="261.50" stroke="#111" stroke-width="1.25"/>
<line x1="243.70" y1="260.50" x2="246.50" y2="260.50" stroke="#111" stroke-width="1.25"/>
<line x1="243.70" y1="259.50" x2="246.50" y2="259.50" stroke="#111" stroke-width="1.25"/>
<line x1="243.70" y1="258.50" x2="246.50" y2="258.50" stroke="#111" stroke-width="1.25"/>
<line x1="243.70" y1="257.50" x2="246.50" y2="257.50" stroke="#111" stroke-width="1.25"/>
<line x1="246.50" y1="315.00" x2="246.50" y2="319.00" stroke="#111" stroke-width="1.25"/>
<line x1="250.50" y1="315.00" x2="250.50" y2="318.00" stroke="#111" stroke-width="1.25"/>
<line x1="253.50" y1="315.00" x2="253.50" y2="318.00" stroke="#111" stroke-width="1.25"/>
<line x1="255.50" y1="315.00" x2="255.50" y2="318.00" stroke="#111" stroke-width="1.25"/>
<line x1="256.50" y1="315.00" x2="256.50" y2="318.00" stroke="#111" stroke-width="1.25"/>
<line x1="257.50" y1="315.00" x2="257.50" y2="318.00" stroke="#111" stroke-width="1.25"/>
<line x1="258.50" y1="315.00" x2="258.50" y2="318.00" stroke="#111" stroke-width="1.25"/>
<line x1="259.50" y1="315.00" x2="259.50" y2="318.00" stroke="#111" stroke-width="1.25"/>
<line x1="260.50" y1="315.00" x2="260.50" y2="318.00" stroke="#111" stroke-width="1.25"/>
<line x1="260.50" y1="315.00" x2="260.50" y2="319.00" stroke="#111" stroke-width="1.25"/>
<line x1="265.50" y1="315.00" x2="265.50" y2="318.00" stroke="#111" stroke-width="1.25"/>
<line x1="267.50" y1="315.00" x2="267.50" y2="318.00" stroke="#111" stroke-width="1.25"/>
<line x1="269.50" y1="315.00" x2="269.50" y2="318.00" stroke="#111" stroke-width="1.25"/>
<line x1="271.50" y1="315.00" x2="271.50" y2="318.00" stroke="#111" stroke-width="1.25"/>
<line x1="272.50" y1="315.00" x2="272.50" y2="318.00" stroke="#111" stroke-width="1.25"/>
<line x1="273.50" y1="315.00" x2="273.50" y2="318.00" stroke="#111" stroke-width="1.25"/>
<line x1="273.50" y1="315.00" x2="273.50" y2="318.00" stroke="#111" stroke-width="1.25"/>
<line x1="274.50" y1="315.00" x2="274.50" y2="318.00" stroke="#111" stroke-width="1.25"/>
<line x1="275.50" y1="315.00" x2="275.50" y2="319.00" stroke="#111" stroke-width="1.25"/>
<line x1="279.50" y1="315.00" x2="279.50" y2="318.00" stroke="#111" stroke-width="1.25"/>
<line x1="282.50" y1="315.00" x2="282.50" y2="318.00" stroke="#111" stroke-width="1.25"/>
<line x1="284.50" y1="315.00" x2="284.50" y2="318.00" stroke="#111" stroke-width="1.25"/>
<line x1="285.50" y1="315.00" x2="285.50" y2="318.00" stroke="#111" stroke-width="1.25"/>
<line x1="286.50" y1="315.00" x2="286.50" y2="318.00" stroke="#111" stroke-width="1.25"/>
<line x1="287.50" y1="315.00" x2="287.50" y2="318.00" stroke="#111" stroke-width="1.25"/>
<line x1="288.50" y1="315.00" x2="288.50" y2="318.00" stroke="#111" stroke-width="1.25"/>
<line x1="289.50" y1="315.00" x2="289.50" y2="318.00" stroke="#111" stroke-width="1.25"/>
<line x1="289.50" y1="315.00" x2="289.50" y2="319.00" stroke="#111" stroke-width="1.25"/>
<line x1="294.50" y1="315.00" x2="294.50" y2="318.00" stroke="#111" stroke-width="1.25"/>
<line x1="296.50" y1="315.00" x2="296.50" y2="318.00" stroke="#111" stroke-width="1.25"/>
<line x1="298.50" y1="315.00" x2="298.50" y2="318.00" stroke="#111" stroke-width="1.25"/>
<line x1="299.50" y1="315.00" x2="299.50" y2="318.00" stroke="#111" stroke-width="1.25"/>
<line x1="300.50" y1="315.00" x2="300.50" y2="318.00" stroke="#111" stroke-width="1.25"/>
<line x1="301.50" y1="315.00" x2="301.50" y2="318.00" stroke="#111" stroke-width="1.25"/>
<line x1="302.50" y1="315.00" x2="302.50" y2="318.00" stroke="#111" stroke-width="1.25"/>
<line x1="270.50" y1="256.00" x2="270.50" y2="315.00" stroke="#111" stroke-width="1.2"/>
<line x1="246.50" y1="298.50" x2="304.20" y2="298.50" stroke="#111" stroke-width="1.2"/>
<text x="249.50" y="265.00" font-size="9.2" font-weight="normal" text-anchor="start" fill="#111" stroke="#111" stroke-width="0.18">52</text>
<text x="302.40" y="265.00" font-size="9.2" font-weight="normal" text-anchor="end" fill="#111" stroke="#111" stroke-width="0.18">34</text>
<text x="301.90" y="312.40" font-size="9.2" font-weight="normal" text-anchor="end" fill="#111" stroke="#111" stroke-width="0.18">2.3</text>
<text x="246.10" y="253.50" font-size="10" font-weight="bold" text-anchor="start" letter-spacing="0.4" fill="#111" stroke="#111" stroke-width="0.18">xvi</text>
<path d="M384 185h1M376 191h1m1 0h1M357 193h1M370 196h1M379 202h1M378 203h1M383 204h1M383 207h1m9 0h1M389 208h1m1 0h1m1 0h1M388 211h1M360 212h1m26 0h1M367 213h1m17 0h1M360 214h1m25 0h1M362 215h1m6 0h1m3 0h1m7 0h1m3 0h2M358 216h1m10 0h1m1 0h1m4 0h1m1 0h1m6 0h1m4 0h1M372 217h1m11 0h1M362 218h1m1 0h1m2 0h2m1 0h1m2 0h1m3 0h1m10 0h1M355 219h1m7 0h1m2 0h5m1 0h1m1 0h1m3 0h1M365 220h2m2 0h7m5 0h1m12 0h1M357 221h1m7 0h5m1 0h3m1 0h2m2 0h1m6 0h1M358 222h1m5 0h1m1 0h1m1 0h11m1 0h1m5 0h2m1 0h2M362 223h1m1 0h6m1 0h3m2 0h4m2 0h2m5 0h1m1 0h1M356 224h2m4 0h1m1 0h3m1 0h2m1 0h3m1 0h1m1 0h1m5 0h1m5 0h4m1 0h1M354 225h1m4 0h1m1 0h11m1 0h2m1 0h1m1 0h2m5 0h5m1 0h3m2 0h1M355 226h3m1 0h1m1 0h7m1 0h8m1 0h1m4 0h5m1 0h3m1 0h1m1 0h1M354 227h1m1 0h2m1 0h1m2 0h1m1 0h16m2 0h2m1 0h4m1 0h4m1 0h1m1 0h1M355 228h2m1 0h5m1 0h7m1 0h9m1 0h12M358 229h17m1 0h3m3 0h11M357 230h16m1 0h3m1 0h3m2 0h10m1 0h1M355 231h1m1 0h25m1 0h9m1 0h1m1 0h1M357 232h3m1 0h19m1 0h1m1 0h1m1 0h1m1 0h5m2 0h2M354 233h2m3 0h5m1 0h10m1 0h2m1 0h2m1 0h2m1 0h9M353 234h1m2 0h1m2 0h7m1 0h12m1 0h8m1 0h3m1 0h1m1 0h1M359 235h3m1 0h5m1 0h4m1 0h2m1 0h2m4 0h3m4 0h2m1 0h2M355 236h1m4 0h4m2 0h2m1 0h2m2 0h2m8 0h1m1 0h1m3 0h1m2 0h1m1 0h1" stroke="#000" stroke-opacity="0.9" stroke-width="1" transform="translate(0 0.5)" filter="url(#bl)"/>
<line x1="353.00" y1="178.50" x2="411.30" y2="178.50" stroke="#111" stroke-width="1.3"/>
<line x1="411.50" y1="178.80" x2="411.50" y2="237.80" stroke="#111" stroke-width="1.3"/>
<line x1="353.50" y1="178.30" x2="353.50" y2="238.60" stroke="#111" stroke-width="1.6"/>
<line x1="352.20" y1="237.50" x2="411.80" y2="237.50" stroke="#111" stroke-width="1.6"/>
<line x1="349.40" y1="237.50" x2="353.00" y2="237.50" stroke="#111" stroke-width="1.25"/>
<line x1="350.20" y1="233.50" x2="353.00" y2="233.50" stroke="#111" stroke-width="1.25"/>
<line x1="350.20" y1="230.50" x2="353.00" y2="230.50" stroke="#111" stroke-width="1.25"/>
<line x1="350.20" y1="228.50" x2="353.00" y2="228.50" stroke="#111" stroke-width="1.25"/>
<line x1="350.20" y1="227.50" x2="353.00" y2="227.50" stroke="#111" stroke-width="1.25"/>
<line x1="350.20" y1="226.50" x2="353.00" y2="226.50" stroke="#111" stroke-width="1.25"/>
<line x1="350.20" y1="225.50" x2="353.00" y2="225.50" stroke="#111" stroke-width="1.25"/>
<line x1="350.20" y1="224.50" x2="353.00" y2="224.50" stroke="#111" stroke-width="1.25"/>
<line x1="350.20" y1="223.50" x2="353.00" y2="223.50" stroke="#111" stroke-width="1.25"/>
<line x1="349.40" y1="223.50" x2="353.00" y2="223.50" stroke="#111" stroke-width="1.25"/>
<line x1="350.20" y1="218.50" x2="353.00" y2="218.50" stroke="#111" stroke-width="1.25"/>
<line x1="350.20" y1="216.50" x2="353.00" y2="216.50" stroke="#111" stroke-width="1.25"/>
<line x1="350.20" y1="214.50" x2="353.00" y2="214.50" stroke="#111" stroke-width="1.25"/>
<line x1="350.20" y1="212.50" x2="353.00" y2="212.50" stroke="#111" stroke-width="1.25"/>
<line x1="350.20" y1="211.50" x2="353.00" y2="211.50" stroke="#111" stroke-width="1.25"/>
<line x1="350.20" y1="210.50" x2="353.00" y2="210.50" stroke="#111" stroke-width="1.25"/>
<line x1="350.20" y1="209.50" x2="353.00" y2="209.50" stroke="#111" stroke-width="1.25"/>
<line x1="350.20" y1="208.50" x2="353.00" y2="208.50" stroke="#111" stroke-width="1.25"/>
<line x1="349.40" y1="208.50" x2="353.00" y2="208.50" stroke="#111" stroke-width="1.25"/>
<line x1="350.20" y1="203.50" x2="353.00" y2="203.50" stroke="#111" stroke-width="1.25"/>
<line x1="350.20" y1="201.50" x2="353.00" y2="201.50" stroke="#111" stroke-width="1.25"/>
<line x1="350.20" y1="199.50" x2="353.00" y2="199.50" stroke="#111" stroke-width="1.25"/>
<line x1="350.20" y1="197.50" x2="353.00" y2="197.50" stroke="#111" stroke-width="1.25"/>
<line x1="350.20" y1="196.50" x2="353.00" y2="196.50" stroke="#111" stroke-width="1.25"/>
<line x1="350.20" y1="195.50" x2="353.00" y2="195.50" stroke="#111" stroke-width="1.25"/>
<line x1="350.20" y1="194.50" x2="353.00" y2="194.50" stroke="#111" stroke-width="1.25"/>
<line x1="350.20" y1="194.50" x2="353.00" y2="194.50" stroke="#111" stroke-width="1.25"/>
<line x1="349.40" y1="193.50" x2="353.00" y2="193.50" stroke="#111" stroke-width="1.25"/>
<line x1="350.20" y1="189.50" x2="353.00" y2="189.50" stroke="#111" stroke-width="1.25"/>
<line x1="350.20" y1="186.50" x2="353.00" y2="186.50" stroke="#111" stroke-width="1.25"/>
<line x1="350.20" y1="184.50" x2="353.00" y2="184.50" stroke="#111" stroke-width="1.25"/>
<line x1="350.20" y1="183.50" x2="353.00" y2="183.50" stroke="#111" stroke-width="1.25"/>
<line x1="350.20" y1="182.50" x2="353.00" y2="182.50" stroke="#111" stroke-width="1.25"/>
<line x1="350.20" y1="181.50" x2="353.00" y2="181.50" stroke="#111" stroke-width="1.25"/>
<line x1="350.20" y1="180.50" x2="353.00" y2="180.50" stroke="#111" stroke-width="1.25"/>
<line x1="353.50" y1="237.80" x2="353.50" y2="241.80" stroke="#111" stroke-width="1.25"/>
<line x1="357.50" y1="237.80" x2="357.50" y2="240.80" stroke="#111" stroke-width="1.25"/>
<line x1="359.50" y1="237.80" x2="359.50" y2="240.80" stroke="#111" stroke-width="1.25"/>
<line x1="361.50" y1="237.80" x2="361.50" y2="240.80" stroke="#111" stroke-width="1.25"/>
<line x1="363.50" y1="237.80" x2="363.50" y2="240.80" stroke="#111" stroke-width="1.25"/>
<line x1="364.50" y1="237.80" x2="364.50" y2="240.80" stroke="#111" stroke-width="1.25"/>
<line x1="365.50" y1="237.80" x2="365.50" y2="240.80" stroke="#111" stroke-width="1.25"/>
<line x1="366.50" y1="237.80" x2="366.50" y2="240.80" stroke="#111" stroke-width="1.25"/>
<line x1="366.50" y1="237.80" x2="366.50" y2="240.80" stroke="#111" stroke-width="1.25"/>
<line x1="367.50" y1="237.80" x2="367.50" y2="241.80" stroke="#111" stroke-width="1.25"/>
<line x1="371.50" y1="237.80" x2="371.50" y2="240.80" stroke="#111" stroke-width="1.25"/>
<line x1="374.50" y1="237.80" x2="374.50" y2="240.80" stroke="#111" stroke-width="1.25"/>
<line x1="376.50" y1="237.80" x2="376.50" y2="240.80" stroke="#111" stroke-width="1.25"/>
<line x1="377.50" y1="237.80" x2="377.50" y2="240.80" stroke="#111" stroke-width="1.25"/>
<line x1="378.50" y1="237.80" x2="378.50" y2="240.80" stroke="#111" stroke-width="1.25"/>
<line x1="379.50" y1="237.80" x2="379.50" y2="240.80" stroke="#111" stroke-width="1.25"/>
<line x1="380.50" y1="237.80" x2="380.50" y2="240.80" stroke="#111" stroke-width="1.25"/>
<line x1="381.50" y1="237.80" x2="381.50" y2="240.80" stroke="#111" stroke-width="1.25"/>
<line x1="382.50" y1="237.80" x2="382.50" y2="241.80" stroke="#111" stroke-width="1.25"/>
<line x1="386.50" y1="237.80" x2="386.50" y2="240.80" stroke="#111" stroke-width="1.25"/>
<line x1="389.50" y1="237.80" x2="389.50" y2="240.80" stroke="#111" stroke-width="1.25"/>
<line x1="390.50" y1="237.80" x2="390.50" y2="240.80" stroke="#111" stroke-width="1.25"/>
<line x1="392.50" y1="237.80" x2="392.50" y2="240.80" stroke="#111" stroke-width="1.25"/>
<line x1="393.50" y1="237.80" x2="393.50" y2="240.80" stroke="#111" stroke-width="1.25"/>
<line x1="394.50" y1="237.80" x2="394.50" y2="240.80" stroke="#111" stroke-width="1.25"/>
<line x1="395.50" y1="237.80" x2="395.50" y2="240.80" stroke="#111" stroke-width="1.25"/>
<line x1="396.50" y1="237.80" x2="396.50" y2="240.80" stroke="#111" stroke-width="1.25"/>
<line x1="396.50" y1="237.80" x2="396.50" y2="241.80" stroke="#111" stroke-width="1.25"/>
<line x1="401.50" y1="237.80" x2="401.50" y2="240.80" stroke="#111" stroke-width="1.25"/>
<line x1="403.50" y1="237.80" x2="403.50" y2="240.80" stroke="#111" stroke-width="1.25"/>
<line x1="405.50" y1="237.80" x2="405.50" y2="240.80" stroke="#111" stroke-width="1.25"/>
<line x1="406.50" y1="237.80" x2="406.50" y2="240.80" stroke="#111" stroke-width="1.25"/>
<line x1="408.50" y1="237.80" x2="408.50" y2="240.80" stroke="#111" stroke-width="1.25"/>
<line x1="409.50" y1="237.80" x2="409.50" y2="240.80" stroke="#111" stroke-width="1.25"/>
<line x1="409.50" y1="237.80" x2="409.50" y2="240.80" stroke="#111" stroke-width="1.25"/>
<rect x="359.20" y="206.30" width="23.30" height="17.30" fill="none" stroke="#111" stroke-width="1.0"/>
<text x="407.40" y="191.10" font-size="9.2" font-weight="normal" text-anchor="end" fill="#111" stroke="#111" stroke-width="0.18">2.5%</text>
<text x="349.90" y="176.30" font-size="10" font-weight="bold" text-anchor="start" letter-spacing="0.4" fill="#111" stroke="#111" stroke-width="0.18">xvii</text>
<text x="372.60" y="176.20" font-size="7.8" font-weight="normal" text-anchor="start" letter-spacing="0.9" fill="#111" stroke="#111" stroke-width="0.18">TH</text>
<path d="M373 270h1M365 271h1m3 0h2m5 0h1M379 272h1M375 274h1m2 0h1M368 275h1m17 0h1M376 276h1m7 0h1m5 0h1M374 277h1m1 0h1m9 0h2M364 278h1m9 0h2m1 0h1M361 279h1M363 280h1m1 0h1m2 0h1m1 0h2m3 0h1m10 0h1m2 0h1m1 0h1M359 281h1m4 0h1m4 0h2m2 0h2m3 0h1m4 0h1M361 282h1m6 0h1m2 0h1m2 0h1m12 0h1M358 283h1m1 0h2m1 0h1m1 0h1m2 0h6m3 0h1m12 0h1m2 0h1M355 284h1m2 0h2m4 0h11m2 0h1m3 0h1m3 0h1m1 0h1M358 285h1m2 0h2m1 0h3m1 0h4m1 0h3m3 0h3m3 0h1m2 0h1M358 286h1m1 0h6m1 0h8m1 0h2m10 0h1M358 287h1m1 0h1m2 0h1m1 0h9m1 0h1m1 0h3m7 0h1m1 0h4M359 288h3m1 0h1m1 0h2m1 0h6m1 0h3m8 0h1m1 0h2m1 0h1M354 289h1m3 0h19m1 0h4m2 0h1m1 0h2m2 0h1m1 0h1M358 290h10m1 0h11m5 0h1m1 0h3M355 291h3m1 0h1m1 0h1m1 0h14m1 0h2m1 0h1m3 0h3m1 0h3m1 0h1M357 292h3m1 0h2m1 0h2m1 0h9m1 0h3m5 0h1m1 0h1M358 293h1m1 0h7m1 0h8m3 0h4m2 0h5m4 0h1M361 294h16m3 0h1m5 0h5M359 295h3m1 0h2m1 0h1m1 0h15m1 0h1m3 0h2m2 0h1M357 296h1m1 0h4m1 0h3m2 0h5m2 0h2m7 0h4M360 297h9m1 0h2m1 0h1m4 0h2m1 0h1m1 0h1m2 0h4m1 0h2M356 298h1m2 0h1m2 0h2m2 0h5m2 0h1m1 0h2m1 0h3m5 0h1m1 0h3M353 299h1m4 0h2m2 0h5m1 0h5m1 0h1m1 0h3m2 0h2m2 0h5m1 0h3m1 0h1M358 300h6m1 0h1m1 0h2m1 0h2m1 0h3m1 0h1m2 0h1m2 0h11M354 301h1m2 0h1m3 0h4m3 0h1m1 0h1m2 0h1m1 0h9m1 0h9M356 302h2m1 0h2m2 0h16m2 0h10M357 303h2m2 0h13m1 0h6m1 0h4m1 0h3m3 0h1M356 304h7m1 0h2m1 0h20m1 0h5m3 0h1M355 305h3m2 0h25m1 0h9M359 306h4m3 0h14m1 0h2m1 0h3m1 0h5m3 0h1M359 307h1m2 0h1m1 0h14m1 0h1m1 0h2m1 0h4m1 0h2m1 0h2M354 308h1m2 0h2m2 0h19m2 0h10m1 0h1M359 309h20m1 0h2m1 0h5m1 0h2m1 0h1M353 310h1m1 0h3m1 0h12m1 0h13m1 0h1m1 0h6M353 311h2m4 0h1m1 0h3m2 0h10m1 0h5m1 0h6m1 0h1m1 0h1M354 312h1m4 0h6m1 0h9m1 0h2m1 0h1m1 0h3m3 0h5m1 0h1M365 313h2m1 0h1m1 0h1m2 0h1m1 0h1m1 0h2m7 0h3" stroke="#000" stroke-opacity="0.9" stroke-width="1" transform="translate(0 0.5)" filter="url(#bl)"/>
<line x1="353.00" y1="256.50" x2="410.90" y2="256.50" stroke="#111" stroke-width="1.3"/>
<line x1="410.50" y1="256.00" x2="410.50" y2="315.00" stroke="#111" stroke-width="1.3"/>
<line x1="353.50" y1="255.50" x2="353.50" y2="315.80" stroke="#111" stroke-width="1.6"/>
<line x1="352.20" y1="315.50" x2="411.40" y2="315.50" stroke="#111" stroke-width="1.6"/>
<line x1="349.40" y1="315.50" x2="353.00" y2="315.50" stroke="#111" stroke-width="1.25"/>
<line x1="350.20" y1="310.50" x2="353.00" y2="310.50" stroke="#111" stroke-width="1.25"/>
<line x1="350.20" y1="307.50" x2="353.00" y2="307.50" stroke="#111" stroke-width="1.25"/>
<line x1="350.20" y1="306.50" x2="353.00" y2="306.50" stroke="#111" stroke-width="1.25"/>
<line x1="350.20" y1="304.50" x2="353.00" y2="304.50" stroke="#111" stroke-width="1.25"/>
<line x1="350.20" y1="303.50" x2="353.00" y2="303.50" stroke="#111" stroke-width="1.25"/>
<line x1="350.20" y1="302.50" x2="353.00" y2="302.50" stroke="#111" stroke-width="1.25"/>
<line x1="350.20" y1="301.50" x2="353.00" y2="301.50" stroke="#111" stroke-width="1.25"/>
<line x1="350.20" y1="300.50" x2="353.00" y2="300.50" stroke="#111" stroke-width="1.25"/>
<line x1="349.40" y1="300.50" x2="353.00" y2="300.50" stroke="#111" stroke-width="1.25"/>
<line x1="350.20" y1="295.50" x2="353.00" y2="295.50" stroke="#111" stroke-width="1.25"/>
<line x1="350.20" y1="293.50" x2="353.00" y2="293.50" stroke="#111" stroke-width="1.25"/>
<line x1="350.20" y1="291.50" x2="353.00" y2="291.50" stroke="#111" stroke-width="1.25"/>
<line x1="350.20" y1="289.50" x2="353.00" y2="289.50" stroke="#111" stroke-width="1.25"/>
<line x1="350.20" y1="288.50" x2="353.00" y2="288.50" stroke="#111" stroke-width="1.25"/>
<line x1="350.20" y1="287.50" x2="353.00" y2="287.50" stroke="#111" stroke-width="1.25"/>
<line x1="350.20" y1="286.50" x2="353.00" y2="286.50" stroke="#111" stroke-width="1.25"/>
<line x1="350.20" y1="286.50" x2="353.00" y2="286.50" stroke="#111" stroke-width="1.25"/>
<line x1="349.40" y1="285.50" x2="353.00" y2="285.50" stroke="#111" stroke-width="1.25"/>
<line x1="350.20" y1="281.50" x2="353.00" y2="281.50" stroke="#111" stroke-width="1.25"/>
<line x1="350.20" y1="278.50" x2="353.00" y2="278.50" stroke="#111" stroke-width="1.25"/>
<line x1="350.20" y1="276.50" x2="353.00" y2="276.50" stroke="#111" stroke-width="1.25"/>
<line x1="350.20" y1="275.50" x2="353.00" y2="275.50" stroke="#111" stroke-width="1.25"/>
<line x1="350.20" y1="274.50" x2="353.00" y2="274.50" stroke="#111" stroke-width="1.25"/>
<line x1="350.20" y1="273.50" x2="353.00" y2="273.50" stroke="#111" stroke-width="1.25"/>
<line x1="350.20" y1="272.50" x2="353.00" y2="272.50" stroke="#111" stroke-width="1.25"/>
<line x1="350.20" y1="271.50" x2="353.00" y2="271.50" stroke="#111" stroke-width="1.25"/>
<line x1="349.40" y1="270.50" x2="353.00" y2="270.50" stroke="#111" stroke-width="1.25"/>
<line x1="350.20" y1="266.50" x2="353.00" y2="266.50" stroke="#111" stroke-width="1.25"/>
<line x1="350.20" y1="263.50" x2="353.00" y2="263.50" stroke="#111" stroke-width="1.25"/>
<line x1="350.20" y1="261.50" x2="353.00" y2="261.50" stroke="#111" stroke-width="1.25"/>
<line x1="350.20" y1="260.50" x2="353.00" y2="260.50" stroke="#111" stroke-width="1.25"/>
<line x1="350.20" y1="259.50" x2="353.00" y2="259.50" stroke="#111" stroke-width="1.25"/>
<line x1="350.20" y1="258.50" x2="353.00" y2="258.50" stroke="#111" stroke-width="1.25"/>
<line x1="350.20" y1="257.50" x2="353.00" y2="257.50" stroke="#111" stroke-width="1.25"/>
<line x1="353.50" y1="315.00" x2="353.50" y2="319.00" stroke="#111" stroke-width="1.25"/>
<line x1="357.50" y1="315.00" x2="357.50" y2="318.00" stroke="#111" stroke-width="1.25"/>
<line x1="359.50" y1="315.00" x2="359.50" y2="318.00" stroke="#111" stroke-width="1.25"/>
<line x1="361.50" y1="315.00" x2="361.50" y2="318.00" stroke="#111" stroke-width="1.25"/>
<line x1="363.50" y1="315.00" x2="363.50" y2="318.00" stroke="#111" stroke-width="1.25"/>
<line x1="364.50" y1="315.00" x2="364.50" y2="318.00" stroke="#111" stroke-width="1.25"/>
<line x1="365.50" y1="315.00" x2="365.50" y2="318.00" stroke="#111" stroke-width="1.25"/>
<line x1="366.50" y1="315.00" x2="366.50" y2="318.00" stroke="#111" stroke-width="1.25"/>
<line x1="366.50" y1="315.00" x2="366.50" y2="318.00" stroke="#111" stroke-width="1.25"/>
<line x1="367.50" y1="315.00" x2="367.50" y2="319.00" stroke="#111" stroke-width="1.25"/>
<line x1="371.50" y1="315.00" x2="371.50" y2="318.00" stroke="#111" stroke-width="1.25"/>
<line x1="374.50" y1="315.00" x2="374.50" y2="318.00" stroke="#111" stroke-width="1.25"/>
<line x1="376.50" y1="315.00" x2="376.50" y2="318.00" stroke="#111" stroke-width="1.25"/>
<line x1="377.50" y1="315.00" x2="377.50" y2="318.00" stroke="#111" stroke-width="1.25"/>
<line x1="378.50" y1="315.00" x2="378.50" y2="318.00" stroke="#111" stroke-width="1.25"/>
<line x1="379.50" y1="315.00" x2="379.50" y2="318.00" stroke="#111" stroke-width="1.25"/>
<line x1="380.50" y1="315.00" x2="380.50" y2="318.00" stroke="#111" stroke-width="1.25"/>
<line x1="381.50" y1="315.00" x2="381.50" y2="318.00" stroke="#111" stroke-width="1.25"/>
<line x1="381.50" y1="315.00" x2="381.50" y2="319.00" stroke="#111" stroke-width="1.25"/>
<line x1="386.50" y1="315.00" x2="386.50" y2="318.00" stroke="#111" stroke-width="1.25"/>
<line x1="388.50" y1="315.00" x2="388.50" y2="318.00" stroke="#111" stroke-width="1.25"/>
<line x1="390.50" y1="315.00" x2="390.50" y2="318.00" stroke="#111" stroke-width="1.25"/>
<line x1="392.50" y1="315.00" x2="392.50" y2="318.00" stroke="#111" stroke-width="1.25"/>
<line x1="393.50" y1="315.00" x2="393.50" y2="318.00" stroke="#111" stroke-width="1.25"/>
<line x1="394.50" y1="315.00" x2="394.50" y2="318.00" stroke="#111" stroke-width="1.25"/>
<line x1="395.50" y1="315.00" x2="395.50" y2="318.00" stroke="#111" stroke-width="1.25"/>
<line x1="395.50" y1="315.00" x2="395.50" y2="318.00" stroke="#111" stroke-width="1.25"/>
<line x1="396.50" y1="315.00" x2="396.50" y2="319.00" stroke="#111" stroke-width="1.25"/>
<line x1="400.50" y1="315.00" x2="400.50" y2="318.00" stroke="#111" stroke-width="1.25"/>
<line x1="403.50" y1="315.00" x2="403.50" y2="318.00" stroke="#111" stroke-width="1.25"/>
<line x1="405.50" y1="315.00" x2="405.50" y2="318.00" stroke="#111" stroke-width="1.25"/>
<line x1="406.50" y1="315.00" x2="406.50" y2="318.00" stroke="#111" stroke-width="1.25"/>
<line x1="407.50" y1="315.00" x2="407.50" y2="318.00" stroke="#111" stroke-width="1.25"/>
<line x1="408.50" y1="315.00" x2="408.50" y2="318.00" stroke="#111" stroke-width="1.25"/>
<line x1="409.50" y1="315.00" x2="409.50" y2="318.00" stroke="#111" stroke-width="1.25"/>
<rect x="359.20" y="282.60" width="23.00" height="15.60" fill="none" stroke="#111" stroke-width="1.0"/>
<text x="405.90" y="267.60" font-size="9.2" font-weight="normal" text-anchor="end" fill="#111" stroke="#111" stroke-width="0.18">22%</text>
<text x="352.40" y="252.90" font-size="10" font-weight="bold" text-anchor="start" letter-spacing="0.4" fill="#111" stroke="#111" stroke-width="0.18">xviii</text>
<text x="0.20" y="350.10" font-size="17.5" font-weight="bold" text-anchor="start" fill="#111" stroke="#111" stroke-width="0.18">B</text>
<text x="58.40" y="357.40" font-size="9.2" font-weight="normal" text-anchor="start" fill="#111" stroke="#111" stroke-width="0.18">BM</text>
<line x1="30.00" y1="358.50" x2="36.20" y2="358.50" stroke="#111" stroke-width="1.2"/>
<text x="28.80" y="362.10" font-size="9.2" font-weight="normal" text-anchor="end" fill="#111" stroke="#111" stroke-width="0.18">150</text>
<line x1="30.00" y1="378.50" x2="36.20" y2="378.50" stroke="#111" stroke-width="1.2"/>
<text x="28.80" y="381.90" font-size="9.2" font-weight="normal" text-anchor="end" fill="#111" stroke="#111" stroke-width="0.18">100</text>
<line x1="30.00" y1="398.50" x2="36.20" y2="398.50" stroke="#111" stroke-width="1.2"/>
<text x="28.80" y="401.70" font-size="9.2" font-weight="normal" text-anchor="end" fill="#111" stroke="#111" stroke-width="0.18">50</text>
<line x1="30.00" y1="418.50" x2="36.20" y2="418.50" stroke="#111" stroke-width="1.2"/>
<text x="28.80" y="421.50" font-size="9.2" font-weight="normal" text-anchor="end" fill="#111" stroke="#111" stroke-width="0.18">0</text>
<rect x="36.20" y="358.80" width="59.20" height="59.40" fill="none" stroke="#111" stroke-width="1.45"/>
<line x1="36.20" y1="378.50" x2="95.40" y2="378.50" stroke="#111" stroke-width="1.0"/>
<rect x="41.00" y="401.60" width="20.00" height="16.60" fill="#000" stroke="none" stroke-width="1.0"/>
<rect x="71.00" y="393.00" width="20.20" height="25.20" fill="#000" stroke="none" stroke-width="1.0"/>
<text x="5.60" y="387.70" font-size="9.4" text-anchor="middle" transform="rotate(-90 5.60 387.70)" dominant-baseline="central" fill="#111" stroke="#111" stroke-width="0.18">% WT value</text>
<circle cx="50.6" cy="382.8" r="3.0" fill="#fff" stroke="#000" stroke-width="0.95"/>
<circle cx="50.6" cy="388.0" r="3.0" fill="#fff" stroke="#000" stroke-width="0.95"/>
<circle cx="50.6" cy="399.2" r="3.0" fill="#fff" stroke="#000" stroke-width="0.95"/>
<circle cx="50.6" cy="409.2" r="3.0" fill="#fff" stroke="#000" stroke-width="0.95"/>
<circle cx="50.6" cy="415.4" r="3.0" fill="#fff" stroke="#000" stroke-width="0.95"/>
<circle cx="80.3" cy="372.8" r="3.0" fill="#fff" stroke="#000" stroke-width="0.95"/>
<circle cx="80.3" cy="377.6" r="3.0" fill="#fff" stroke="#000" stroke-width="0.95"/>
<circle cx="80.3" cy="394.8" r="3.0" fill="#fff" stroke="#000" stroke-width="0.95"/>
<circle cx="80.3" cy="408.0" r="3.0" fill="#fff" stroke="#000" stroke-width="0.95"/>
<circle cx="57.8" cy="395.6" r="1.3" fill="#000"/>
<circle cx="87.7" cy="387.2" r="1.3" fill="#000"/>
<text x="44.70" y="430.80" font-size="8.6" font-weight="normal" text-anchor="start" fill="#111" stroke="#111" stroke-width="0.18">ST</text>
<text x="74.90" y="430.80" font-size="8.6" font-weight="normal" text-anchor="start" fill="#111" stroke="#111" stroke-width="0.18">ME</text>
<text x="106.00" y="352.00" font-size="17.5" font-weight="bold" text-anchor="start" fill="#111" stroke="#111" stroke-width="0.18">C</text>
<text x="160.80" y="357.20" font-size="9.2" font-weight="normal" text-anchor="start" fill="#111" stroke="#111" stroke-width="0.18">BM</text>
<rect x="138.60" y="358.50" width="59.00" height="60.20" fill="none" stroke="#111" stroke-width="1.4"/>
<line x1="134.60" y1="418.50" x2="138.60" y2="418.50" stroke="#111" stroke-width="1.2"/>
<text x="134.70" y="422.00" font-size="9.2" font-weight="normal" text-anchor="end" fill="#111" stroke="#111" stroke-width="0.18">0</text>
<line x1="134.60" y1="403.50" x2="138.60" y2="403.50" stroke="#111" stroke-width="1.2"/>
<text x="134.70" y="406.95" font-size="9.2" font-weight="normal" text-anchor="end" fill="#111" stroke="#111" stroke-width="0.18">20</text>
<line x1="134.60" y1="388.50" x2="138.60" y2="388.50" stroke="#111" stroke-width="1.2"/>
<text x="134.70" y="391.90" font-size="9.2" font-weight="normal" text-anchor="end" fill="#111" stroke="#111" stroke-width="0.18">40</text>
<line x1="134.60" y1="373.50" x2="138.60" y2="373.50" stroke="#111" stroke-width="1.2"/>
<text x="134.70" y="376.85" font-size="9.2" font-weight="normal" text-anchor="end" fill="#111" stroke="#111" stroke-width="0.18">60</text>
<line x1="134.60" y1="358.50" x2="138.60" y2="358.50" stroke="#111" stroke-width="1.2"/>
<text x="134.70" y="361.80" font-size="9.2" font-weight="normal" text-anchor="end" fill="#111" stroke="#111" stroke-width="0.18">80</text>
<line x1="147.50" y1="418.70" x2="147.50" y2="421.20" stroke="#111" stroke-width="1.0"/>
<line x1="167.50" y1="418.70" x2="167.50" y2="421.20" stroke="#111" stroke-width="1.0"/>
<line x1="187.50" y1="418.70" x2="187.50" y2="421.20" stroke="#111" stroke-width="1.0"/>
<line x1="143.50" y1="406.21" x2="143.50" y2="402.45" stroke="#111" stroke-width="1.3"/>
<line x1="140.95" y1="402.50" x2="145.75" y2="402.50" stroke="#111" stroke-width="1.3"/>
<rect x="139.60" y="406.21" width="7.50" height="12.49" fill="#fff" stroke="#000" stroke-width="1.1"/>
<line x1="151.50" y1="402.14" x2="151.50" y2="395.37" stroke="#111" stroke-width="1.3"/>
<line x1="149.00" y1="395.50" x2="153.80" y2="395.50" stroke="#111" stroke-width="1.3"/>
<rect x="147.10" y="402.14" width="8.60" height="16.56" fill="#000" stroke="#000" stroke-width="1.1"/>
<line x1="163.50" y1="391.61" x2="163.50" y2="387.47" stroke="#111" stroke-width="1.3"/>
<line x1="161.40" y1="387.50" x2="166.20" y2="387.50" stroke="#111" stroke-width="1.3"/>
<rect x="159.80" y="391.61" width="8.00" height="27.09" fill="#fff" stroke="#000" stroke-width="1.1"/>
<line x1="171.50" y1="403.20" x2="171.50" y2="398.68" stroke="#111" stroke-width="1.3"/>
<line x1="169.45" y1="398.50" x2="174.25" y2="398.50" stroke="#111" stroke-width="1.3"/>
<rect x="167.80" y="403.20" width="8.10" height="15.50" fill="#000" stroke="#000" stroke-width="1.1"/>
<line x1="183.50" y1="395.37" x2="183.50" y2="391.23" stroke="#111" stroke-width="1.3"/>
<line x1="180.75" y1="391.50" x2="185.55" y2="391.50" stroke="#111" stroke-width="1.3"/>
<rect x="179.40" y="395.37" width="7.50" height="23.33" fill="#fff" stroke="#000" stroke-width="1.1"/>
<line x1="191.50" y1="379.19" x2="191.50" y2="367.91" stroke="#111" stroke-width="1.3"/>
<line x1="188.75" y1="367.50" x2="193.55" y2="367.50" stroke="#111" stroke-width="1.3"/>
<rect x="186.90" y="379.19" width="8.50" height="39.51" fill="#000" stroke="#000" stroke-width="1.1"/>
<circle cx="169.70000000000002" cy="395.6" r="1.35" fill="#000"/><circle cx="174.1" cy="395.6" r="1.35" fill="#000"/>
<circle cx="189.4" cy="365.3" r="1.35" fill="#000"/><circle cx="193.79999999999998" cy="365.3" r="1.35" fill="#000"/>
<rect x="141.90" y="361.90" width="7.00" height="6.20" fill="#fff" stroke="#000" stroke-width="1.3"/>
<rect x="141.80" y="371.50" width="7.00" height="6.60" fill="#000" stroke="#000" stroke-width="1.1"/>
<text x="149.80" y="368.00" font-size="9.2" font-weight="normal" text-anchor="start" fill="#111" stroke="#111" stroke-width="0.18">CT</text>
<text x="150.40" y="378.10" font-size="9.0" font-weight="normal" text-anchor="start" fill="#111" stroke="#111" stroke-width="0.18">ΔHD</text>
<text x="112.50" y="389.80" font-size="9.0" text-anchor="middle" transform="rotate(-90 112.50 389.80)" dominant-baseline="central" fill="#111" stroke="#111" stroke-width="0.18">% Positive Cells</text>
<text x="153.00" y="429.20" font-size="9.2" font-weight="normal" text-anchor="end" transform="rotate(-45 153.00 429.20)" fill="#111" stroke="#111" stroke-width="0.18">c-kit</text>
<text x="173.40" y="430.60" font-size="9.2" font-weight="normal" text-anchor="end" transform="rotate(-45 173.40 430.60)" fill="#111" stroke="#111" stroke-width="0.18">CD25</text>
<text x="192.80" y="429.00" font-size="9.2" font-weight="normal" text-anchor="end" transform="rotate(-45 192.80 429.00)" fill="#111" stroke="#111" stroke-width="0.18">IgM</text>
<text x="140.20" y="455.60" font-size="8.4" font-weight="normal" text-anchor="start" fill="#111" stroke="#111" stroke-width="0.18">B220+ Gate</text>
<text x="216.40" y="352.00" font-size="17.0" font-weight="bold" text-anchor="start" fill="#111" stroke="#111" stroke-width="0.18">D</text>
<text x="261.60" y="357.40" font-size="9.0" font-weight="normal" text-anchor="start" fill="#111" stroke="#111" stroke-width="0.18">BFU-E</text>
<rect x="245.40" y="358.60" width="58.40" height="60.60" fill="none" stroke="#111" stroke-width="1.4"/>
<line x1="239.60" y1="419.50" x2="245.40" y2="419.50" stroke="#111" stroke-width="1.2"/>
<text x="237.50" y="422.40" font-size="9.0" font-weight="normal" text-anchor="end" fill="#111" stroke="#111" stroke-width="0.18">0</text>
<line x1="239.60" y1="407.50" x2="245.40" y2="407.50" stroke="#111" stroke-width="1.2"/>
<text x="237.50" y="410.28" font-size="9.0" font-weight="normal" text-anchor="end" fill="#111" stroke="#111" stroke-width="0.18">5</text>
<line x1="239.60" y1="394.50" x2="245.40" y2="394.50" stroke="#111" stroke-width="1.2"/>
<text x="237.50" y="398.16" font-size="9.0" font-weight="normal" text-anchor="end" fill="#111" stroke="#111" stroke-width="0.18">10</text>
<line x1="239.60" y1="382.50" x2="245.40" y2="382.50" stroke="#111" stroke-width="1.2"/>
<text x="237.50" y="386.04" font-size="9.0" font-weight="normal" text-anchor="end" fill="#111" stroke="#111" stroke-width="0.18">15</text>
<line x1="239.60" y1="370.50" x2="245.40" y2="370.50" stroke="#111" stroke-width="1.2"/>
<text x="237.50" y="373.92" font-size="9.0" font-weight="normal" text-anchor="end" fill="#111" stroke="#111" stroke-width="0.18">20</text>
<line x1="239.60" y1="358.50" x2="245.40" y2="358.50" stroke="#111" stroke-width="1.2"/>
<text x="237.50" y="361.80" font-size="9.0" font-weight="normal" text-anchor="end" fill="#111" stroke="#111" stroke-width="0.18">25</text>
<line x1="260.50" y1="384.54" x2="260.50" y2="379.93" stroke="#111" stroke-width="1.3"/>
<line x1="257.95" y1="379.50" x2="263.55" y2="379.50" stroke="#111" stroke-width="1.3"/>
<rect x="250.90" y="384.54" width="19.70" height="34.66" fill="#fff" stroke="#000" stroke-width="1.2"/>
<line x1="290.50" y1="375.57" x2="290.50" y2="370.24" stroke="#111" stroke-width="1.3"/>
<line x1="287.70" y1="370.50" x2="293.30" y2="370.50" stroke="#111" stroke-width="1.3"/>
<rect x="280.20" y="375.57" width="20.60" height="43.63" fill="#000" stroke="#000" stroke-width="1.2"/>
<text x="254.40" y="431.60" font-size="9.2" font-weight="normal" text-anchor="start" fill="#111" stroke="#111" stroke-width="0.18">CT</text>
<text x="282.00" y="431.60" font-size="9.2" font-weight="normal" text-anchor="start" fill="#111" stroke="#111" stroke-width="0.18">ΔHD</text>
<text x="351.80" y="357.60" font-size="9.2" font-weight="normal" text-anchor="start" fill="#111" stroke="#111" stroke-width="0.18">CFU-G/M/GM</text>
<rect x="352.60" y="359.80" width="58.00" height="59.80" fill="none" stroke="#111" stroke-width="1.4"/>
<line x1="346.40" y1="419.50" x2="352.60" y2="419.50" stroke="#111" stroke-width="1.2"/>
<text x="346.20" y="422.80" font-size="9.0" font-weight="normal" text-anchor="end" fill="#111" stroke="#111" stroke-width="0.18">0</text>
<line x1="346.40" y1="407.50" x2="352.60" y2="407.50" stroke="#111" stroke-width="1.2"/>
<text x="346.20" y="410.84" font-size="9.0" font-weight="normal" text-anchor="end" fill="#111" stroke="#111" stroke-width="0.18">50</text>
<line x1="346.40" y1="395.50" x2="352.60" y2="395.50" stroke="#111" stroke-width="1.2"/>
<text x="346.20" y="398.88" font-size="9.0" font-weight="normal" text-anchor="end" fill="#111" stroke="#111" stroke-width="0.18">100</text>
<line x1="346.40" y1="383.50" x2="352.60" y2="383.50" stroke="#111" stroke-width="1.2"/>
<text x="346.20" y="386.92" font-size="9.0" font-weight="normal" text-anchor="end" fill="#111" stroke="#111" stroke-width="0.18">150</text>
<line x1="346.40" y1="371.50" x2="352.60" y2="371.50" stroke="#111" stroke-width="1.2"/>
<text x="346.20" y="374.96" font-size="9.0" font-weight="normal" text-anchor="end" fill="#111" stroke="#111" stroke-width="0.18">200</text>
<line x1="346.40" y1="359.50" x2="352.60" y2="359.50" stroke="#111" stroke-width="1.2"/>
<text x="346.20" y="363.00" font-size="9.0" font-weight="normal" text-anchor="end" fill="#111" stroke="#111" stroke-width="0.18">250</text>
<line x1="366.50" y1="400.94" x2="366.50" y2="399.99" stroke="#111" stroke-width="1.3"/>
<line x1="362.90" y1="399.50" x2="370.10" y2="399.50" stroke="#111" stroke-width="1.3"/>
<rect x="356.40" y="400.94" width="20.20" height="18.66" fill="#fff" stroke="#000" stroke-width="1.2"/>
<line x1="396.50" y1="374.63" x2="396.50" y2="369.85" stroke="#111" stroke-width="1.3"/>
<line x1="392.45" y1="369.50" x2="399.65" y2="369.50" stroke="#111" stroke-width="1.3"/>
<rect x="385.90" y="374.63" width="20.30" height="44.97" fill="#000" stroke="#000" stroke-width="1.2"/>
<circle cx="394.3" cy="365.9" r="1.35" fill="#000"/><circle cx="398.5" cy="365.9" r="1.35" fill="#000"/>
<text x="360.80" y="431.40" font-size="8.6" font-weight="normal" text-anchor="start" fill="#111" stroke="#111" stroke-width="0.18">CT</text>
<text x="386.70" y="431.40" font-size="8.6" font-weight="normal" text-anchor="start" fill="#111" stroke="#111" stroke-width="0.18">ΔHD</text>
</svg>
</body></html>
